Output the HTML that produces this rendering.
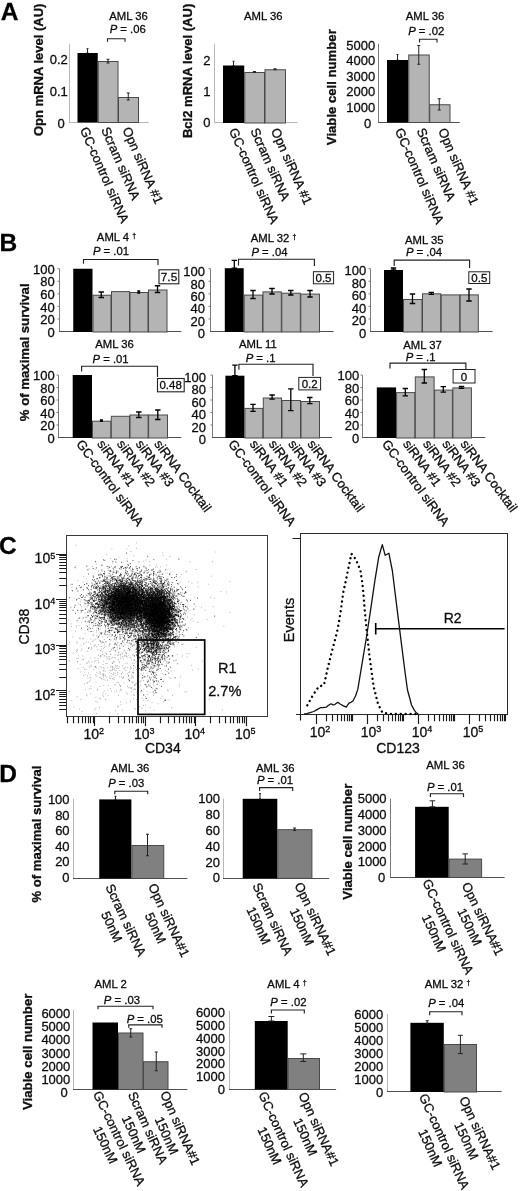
<!DOCTYPE html>
<html lang="en"><head><meta charset="utf-8"><title>Figure</title>
<style>html,body{margin:0;padding:0;background:#fff}svg{display:block}text{font-family:'Liberation Sans', Arial, sans-serif;stroke:#000;stroke-width:.28px}</style>
</head><body>
<svg width="520" height="1191" viewBox="0 0 520 1191">
<rect width="520" height="1191" fill="#fff"/>
<text x="0.7" y="19.6" font-size="24.5" font-weight="bold" fill="#000" stroke-width=".3">A</text>
<text x="-0.6" y="251.1" font-size="24.5" font-weight="bold" fill="#000" stroke-width=".3">B</text>
<text x="-0.9" y="553.6" font-size="24.5" font-weight="bold" fill="#000" stroke-width=".3">C</text>
<text x="-0.8" y="781.8" font-size="24.5" font-weight="bold" fill="#000" stroke-width=".3">D</text>
<g id="panelA">
<line x1="69.5" y1="43.75" x2="69.5" y2="122.5" stroke="#b8b8b8" stroke-width="1"/>
<line x1="69" y1="122.5" x2="148.75" y2="122.5" stroke="#b8b8b8" stroke-width="1"/>
<rect x="77.5" y="53" width="20.25" height="69.5" fill="#000"/>
<rect x="98.25" y="61.5" width="19.75" height="61" fill="#b4b4b4" stroke="#4a4a4a" stroke-width="1"/>
<rect x="118.5" y="97.5" width="20" height="25" fill="#b4b4b4" stroke="#4a4a4a" stroke-width="1"/>
<path d="M87.5 48.75V53M86.5 48.75h2M86.5 53h2" stroke="#222" stroke-width="1" fill="none"/>
<path d="M108 59.25V63M106.5 59.25h3M106.5 63h3" stroke="#222" stroke-width="1" fill="none"/>
<path d="M128.25 93V100M126.75 93h3M126.75 100h3" stroke="#222" stroke-width="1" fill="none"/>
<text x="67.8" y="63.95" font-size="13" text-anchor="end" fill="#111">0.2</text>
<text x="67.8" y="95.55" font-size="13" text-anchor="end" fill="#111">0.1</text>
<text x="64.8" y="127.65" font-size="13" text-anchor="end" fill="#111">0</text>
<text x="128.5" y="20.05" font-size="11.3" text-anchor="middle" fill="#111">AML 36</text>
<text x="127.75" y="33.05" font-size="11.3" text-anchor="middle" fill="#111"><tspan font-style="italic">P</tspan> = .06</text>
<path d="M107.5 41.75V38.75H125V41.75" stroke="#222" stroke-width="1.15" fill="none"/>
<text transform="translate(43,69.8) rotate(-90)" font-size="13" font-weight="bold" text-anchor="middle" fill="#111">Opn mRNA level (AU)</text>
<g transform="translate(84,127.6) rotate(66.3)">
<text x="0" y="4.65" font-size="13" text-anchor="start" fill="#111">GC-control siRNA</text>
</g>
<g transform="translate(105.2,127.6) rotate(66.3)">
<text x="0" y="4.65" font-size="13" text-anchor="start" fill="#111">Scram siRNA</text>
</g>
<g transform="translate(126.45,127.6) rotate(66.3)">
<text x="0" y="4.65" font-size="13" text-anchor="start" fill="#111">Opn siRNA #1</text>
</g>
<line x1="214.5" y1="43.75" x2="214.5" y2="122.5" stroke="#b8b8b8" stroke-width="1"/>
<line x1="214" y1="122.5" x2="297.5" y2="122.5" stroke="#b8b8b8" stroke-width="1"/>
<rect x="223" y="65.5" width="21.25" height="57.5" fill="#000"/>
<rect x="244.75" y="72.5" width="19.75" height="50.5" fill="#b4b4b4" stroke="#4a4a4a" stroke-width="1"/>
<rect x="265" y="69.75" width="20.5" height="53.25" fill="#b4b4b4" stroke="#4a4a4a" stroke-width="1"/>
<path d="M233.5 61.25V65.5M232.5 61.25h2M232.5 65.5h2" stroke="#222" stroke-width="1" fill="none"/>
<path d="M254.4 71.5V72.5M252.9 71.5h3M252.9 72.5h3" stroke="#222" stroke-width="1" fill="none"/>
<path d="M275 68.75V69.75M273.5 68.75h3M273.5 69.75h3" stroke="#222" stroke-width="1" fill="none"/>
<text x="210.5" y="64.55" font-size="13" text-anchor="end" fill="#111">2</text>
<text x="210.5" y="96.45" font-size="13" text-anchor="end" fill="#111">1</text>
<text x="210.5" y="127.15" font-size="13" text-anchor="end" fill="#111">0</text>
<text x="263.25" y="20.05" font-size="11.3" text-anchor="middle" fill="#111">AML 36</text>
<text transform="translate(192.3,70.9) rotate(-90)" font-size="13.05" font-weight="bold" text-anchor="middle" fill="#111">Bcl2 mRNA level (AU)</text>
<g transform="translate(233,128.6) rotate(65.8)">
<text x="0" y="4.65" font-size="13" text-anchor="start" fill="#111">GC-control siRNA</text>
</g>
<g transform="translate(254.4,128.6) rotate(65.8)">
<text x="0" y="4.65" font-size="13" text-anchor="start" fill="#111">Scram siRNA</text>
</g>
<g transform="translate(275,128.6) rotate(65.8)">
<text x="0" y="4.65" font-size="13" text-anchor="start" fill="#111">Opn siRNA #1</text>
</g>
<line x1="378.5" y1="43.75" x2="378.5" y2="122.5" stroke="#7a7a7a" stroke-width="1"/>
<line x1="378" y1="122.5" x2="459.7" y2="122.5" stroke="#505050" stroke-width="1"/>
<rect x="387" y="60" width="21.25" height="62.5" fill="#000"/>
<rect x="408.75" y="55" width="20.5" height="67.5" fill="#b4b4b4" stroke="#4a4a4a" stroke-width="1"/>
<rect x="429.75" y="104.75" width="20.25" height="17.75" fill="#b4b4b4" stroke="#4a4a4a" stroke-width="1"/>
<path d="M397.5 54.5V60M396.5 54.5h2M396.5 60h2" stroke="#222" stroke-width="1" fill="none"/>
<path d="M418.75 45.5V64.25M417.25 45.5h3M417.25 64.25h3" stroke="#222" stroke-width="1" fill="none"/>
<path d="M439.25 98.75V110M437.75 98.75h3M437.75 110h3" stroke="#222" stroke-width="1" fill="none"/>
<text x="375.2" y="50.05" font-size="13" text-anchor="end" fill="#111">5000</text>
<text x="375.2" y="65.25" font-size="13" text-anchor="end" fill="#111">4000</text>
<text x="375.2" y="80.65" font-size="13" text-anchor="end" fill="#111">3000</text>
<text x="375.2" y="96.05" font-size="13" text-anchor="end" fill="#111">2000</text>
<text x="375.2" y="111.95" font-size="13" text-anchor="end" fill="#111">1000</text>
<text x="371.2" y="128.05" font-size="13" text-anchor="end" fill="#111">0</text>
<text x="425" y="20.3" font-size="11.3" text-anchor="middle" fill="#111">AML 36</text>
<text x="426.25" y="34.55" font-size="11.3" text-anchor="middle" fill="#111"><tspan font-style="italic">P</tspan> = .02</text>
<path d="M419.5 42.5V39.25H437V42.5" stroke="#222" stroke-width="1.15" fill="none"/>
<text transform="translate(336.1,87.2) rotate(-90)" font-size="13.15" font-weight="bold" text-anchor="middle" fill="#111">Viable cell number</text>
<g transform="translate(399,128.6) rotate(66.3)">
<text x="0" y="4.65" font-size="13" text-anchor="start" fill="#111">GC-control siRNA</text>
</g>
<g transform="translate(420.75,128.6) rotate(66.3)">
<text x="0" y="4.65" font-size="13" text-anchor="start" fill="#111">Scram siRNA</text>
</g>
<g transform="translate(442.15,128.6) rotate(66.3)">
<text x="0" y="4.65" font-size="13" text-anchor="start" fill="#111">Opn siRNA #1</text>
</g>
</g>
<g id="panelB">
<text transform="translate(28.8,352.3) rotate(-90)" font-size="13.2" font-weight="bold" text-anchor="middle" fill="#111">% of maximal survival</text>
<line x1="59.5" y1="268.7" x2="59.5" y2="331.5" stroke="#7c7c7c" stroke-width="1"/>
<line x1="59" y1="331.5" x2="181.25" y2="331.5" stroke="#505050" stroke-width="1"/>
<path d="M59.5 268.7h-2M59.5 281.26h-2M59.5 293.82h-2M59.5 306.38h-2M59.5 318.94h-2" stroke="#7c7c7c" stroke-width="1" fill="none"/>
<rect x="73.25" y="268.75" width="19.25" height="63.25" fill="#000"/>
<rect x="93" y="295.25" width="18" height="36.75" fill="#b4b4b4" stroke="#4a4a4a" stroke-width="1"/>
<rect x="111.5" y="291.6" width="18" height="40.4" fill="#b4b4b4" stroke="#4a4a4a" stroke-width="1"/>
<rect x="130" y="292.5" width="18" height="39.5" fill="#b4b4b4" stroke="#4a4a4a" stroke-width="1"/>
<rect x="148.5" y="290" width="18.5" height="42" fill="#b4b4b4" stroke="#4a4a4a" stroke-width="1"/>
<path d="M101.25 292V297.5M98.55 292h5.4M98.55 297.5h5.4" stroke="#000" stroke-width="1.3" fill="none"/>
<path d="M138.75 291V293M137.25 291h3M137.25 293h3" stroke="#000" stroke-width="1.3" fill="none"/>
<path d="M157.5 285.75V292.5M154.8 285.75h5.4M154.8 292.5h5.4" stroke="#000" stroke-width="1.3" fill="none"/>
<text x="54.8" y="273.95" font-size="13" text-anchor="end" fill="#111">100</text>
<text x="54.8" y="286.49" font-size="13" text-anchor="end" fill="#111">80</text>
<text x="54.8" y="299.03" font-size="13" text-anchor="end" fill="#111">60</text>
<text x="54.8" y="311.57" font-size="13" text-anchor="end" fill="#111">40</text>
<text x="54.8" y="324.11" font-size="13" text-anchor="end" fill="#111">20</text>
<text x="54.8" y="336.65" font-size="13" text-anchor="end" fill="#111">0</text>
<text x="116.5" y="241.25" font-size="11.3" text-anchor="middle" fill="#111">AML 4 <tspan font-size="7" dy="-3.5">†</tspan></text>
<text x="111" y="255.3" font-size="11.3" text-anchor="middle" fill="#111"><tspan font-style="italic">P</tspan> = .01</text>
<path d="M83.5 263.75V259.5H158V265" stroke="#222" stroke-width="1.15" fill="none"/>
<rect x="159" y="269.8" width="19.8" height="14" fill="#fff" stroke="#222" stroke-width="1.1"/>
<text x="169" y="281.12" font-size="11.8" text-anchor="middle" fill="#111">7.5</text>
<line x1="210.5" y1="268.7" x2="210.5" y2="331.5" stroke="#7c7c7c" stroke-width="1"/>
<line x1="210" y1="331.5" x2="333.6" y2="331.5" stroke="#505050" stroke-width="1"/>
<path d="M210.5 268.7h-2M210.5 281.26h-2M210.5 293.82h-2M210.5 306.38h-2M210.5 318.94h-2" stroke="#7c7c7c" stroke-width="1" fill="none"/>
<rect x="224.8" y="268.2" width="18.9" height="63.8" fill="#000"/>
<rect x="244.2" y="295.1" width="18.3" height="36.9" fill="#b4b4b4" stroke="#4a4a4a" stroke-width="1"/>
<rect x="263" y="291.9" width="18.3" height="40.1" fill="#b4b4b4" stroke="#4a4a4a" stroke-width="1"/>
<rect x="281.8" y="293.2" width="18.5" height="38.8" fill="#b4b4b4" stroke="#4a4a4a" stroke-width="1"/>
<rect x="300.8" y="294.1" width="18.7" height="37.9" fill="#b4b4b4" stroke="#4a4a4a" stroke-width="1"/>
<path d="M234.3 260.3V268.2M231.6 260.3h5.4M231.6 268.2h5.4" stroke="#000" stroke-width="1.3" fill="none"/>
<path d="M253 290.5V298.5M250.3 290.5h5.4M250.3 298.5h5.4" stroke="#000" stroke-width="1.3" fill="none"/>
<path d="M272 288.5V294M269.3 288.5h5.4M269.3 294h5.4" stroke="#000" stroke-width="1.3" fill="none"/>
<path d="M290.8 290.5V295M288.1 290.5h5.4M288.1 295h5.4" stroke="#000" stroke-width="1.3" fill="none"/>
<path d="M310 290.5V297M307.3 290.5h5.4M307.3 297h5.4" stroke="#000" stroke-width="1.3" fill="none"/>
<text x="205" y="276.05" font-size="13" text-anchor="end" fill="#111">100</text>
<text x="205" y="288.51" font-size="13" text-anchor="end" fill="#111">80</text>
<text x="205" y="300.97" font-size="13" text-anchor="end" fill="#111">60</text>
<text x="205" y="313.43" font-size="13" text-anchor="end" fill="#111">40</text>
<text x="205" y="325.89" font-size="13" text-anchor="end" fill="#111">20</text>
<text x="205" y="338.35" font-size="13" text-anchor="end" fill="#111">0</text>
<text x="273.5" y="242.05" font-size="11.3" text-anchor="middle" fill="#111">AML 32 <tspan font-size="7" dy="-3.5">†</tspan></text>
<text x="269.5" y="256.15" font-size="11.3" text-anchor="middle" fill="#111"><tspan font-style="italic">P</tspan> = .04</text>
<path d="M238.5 265.5V259.2H314.4V266" stroke="#222" stroke-width="1.15" fill="none"/>
<rect x="313.4" y="271.7" width="20.2" height="12.1" fill="#fff" stroke="#222" stroke-width="1"/>
<text x="323.5" y="281.92" font-size="11.5" text-anchor="middle" fill="#111">0.5</text>
<line x1="370.5" y1="268.7" x2="370.5" y2="331.5" stroke="#7c7c7c" stroke-width="1"/>
<line x1="370" y1="331.5" x2="492.6" y2="331.5" stroke="#505050" stroke-width="1"/>
<path d="M370.5 268.7h-2M370.5 281.26h-2M370.5 293.82h-2M370.5 306.38h-2M370.5 318.94h-2" stroke="#7c7c7c" stroke-width="1" fill="none"/>
<rect x="384" y="270" width="19" height="62" fill="#000"/>
<rect x="403.5" y="299.5" width="18.5" height="32.5" fill="#b4b4b4" stroke="#4a4a4a" stroke-width="1"/>
<rect x="422.5" y="293.8" width="18.2" height="38.2" fill="#b4b4b4" stroke="#4a4a4a" stroke-width="1"/>
<rect x="441.2" y="294.9" width="18.5" height="37.1" fill="#b4b4b4" stroke="#4a4a4a" stroke-width="1"/>
<rect x="460.2" y="294.9" width="18.1" height="37.1" fill="#b4b4b4" stroke="#4a4a4a" stroke-width="1"/>
<path d="M393.5 268V270M390.8 268h5.4M390.8 270h5.4" stroke="#000" stroke-width="1.3" fill="none"/>
<path d="M412.5 294V303.5M409.8 294h5.4M409.8 303.5h5.4" stroke="#000" stroke-width="1.3" fill="none"/>
<path d="M431.3 292.3V294.3M428.6 292.3h5.4M428.6 294.3h5.4" stroke="#000" stroke-width="1.3" fill="none"/>
<path d="M469 289V301M466.3 289h5.4M466.3 301h5.4" stroke="#000" stroke-width="1.3" fill="none"/>
<text x="366.3" y="275.45" font-size="13" text-anchor="end" fill="#111">100</text>
<text x="366.3" y="287.91" font-size="13" text-anchor="end" fill="#111">80</text>
<text x="366.3" y="300.37" font-size="13" text-anchor="end" fill="#111">60</text>
<text x="366.3" y="312.83" font-size="13" text-anchor="end" fill="#111">40</text>
<text x="366.3" y="325.29" font-size="13" text-anchor="end" fill="#111">20</text>
<text x="366.3" y="337.75" font-size="13" text-anchor="end" fill="#111">0</text>
<text x="424.3" y="244.35" font-size="11.3" text-anchor="middle" fill="#111">AML 35</text>
<text x="424" y="256.45" font-size="11.3" text-anchor="middle" fill="#111"><tspan font-style="italic">P</tspan> = .04</text>
<path d="M394.2 266V260.1H469.6V268" stroke="#222" stroke-width="1.15" fill="none"/>
<rect x="468.8" y="271.8" width="20.9" height="11.7" fill="#fff" stroke="#222" stroke-width="1"/>
<text x="479.3" y="281.82" font-size="11.5" text-anchor="middle" fill="#111">0.5</text>
<line x1="58.5" y1="375" x2="58.5" y2="437.5" stroke="#7c7c7c" stroke-width="1"/>
<line x1="58" y1="437.5" x2="181.25" y2="437.5" stroke="#505050" stroke-width="1"/>
<path d="M58.5 375h-2M58.5 387.5h-2M58.5 400h-2M58.5 412.5h-2M58.5 425h-2" stroke="#7c7c7c" stroke-width="1" fill="none"/>
<rect x="72.7" y="375" width="19.3" height="63" fill="#000"/>
<rect x="92.5" y="421.2" width="18.3" height="16.8" fill="#b4b4b4" stroke="#4a4a4a" stroke-width="1"/>
<rect x="111.3" y="416.3" width="18.2" height="21.7" fill="#b4b4b4" stroke="#4a4a4a" stroke-width="1"/>
<rect x="130" y="415" width="18.1" height="23" fill="#b4b4b4" stroke="#4a4a4a" stroke-width="1"/>
<rect x="148.6" y="415" width="18.9" height="23" fill="#b4b4b4" stroke="#4a4a4a" stroke-width="1"/>
<path d="M101.4 420V421.4M99.9 420h3M99.9 421.4h3" stroke="#000" stroke-width="1.3" fill="none"/>
<path d="M138.8 412V417.5M136.1 412h5.4M136.1 417.5h5.4" stroke="#000" stroke-width="1.3" fill="none"/>
<path d="M157.8 410V419.5M155.1 410h5.4M155.1 419.5h5.4" stroke="#000" stroke-width="1.3" fill="none"/>
<text x="54.8" y="380.25" font-size="13" text-anchor="end" fill="#111">100</text>
<text x="54.8" y="392.79" font-size="13" text-anchor="end" fill="#111">80</text>
<text x="54.8" y="405.33" font-size="13" text-anchor="end" fill="#111">60</text>
<text x="54.8" y="417.87" font-size="13" text-anchor="end" fill="#111">40</text>
<text x="54.8" y="430.41" font-size="13" text-anchor="end" fill="#111">20</text>
<text x="54.8" y="442.95" font-size="13" text-anchor="end" fill="#111">0</text>
<text x="114.6" y="348.35" font-size="11.3" text-anchor="middle" fill="#111">AML 36</text>
<text x="110.6" y="362.75" font-size="11.3" text-anchor="middle" fill="#111"><tspan font-style="italic">P</tspan> = .01</text>
<path d="M81.6 371.5V366.2H157.5V377" stroke="#222" stroke-width="1.15" fill="none"/>
<rect x="157.5" y="378.5" width="26.7" height="13.3" fill="#fff" stroke="#222" stroke-width="1.1"/>
<text x="170.6" y="389.12" font-size="11.5" text-anchor="middle" fill="#111">0.48</text>
<line x1="212.5" y1="375" x2="212.5" y2="437.5" stroke="#7c7c7c" stroke-width="1"/>
<line x1="212" y1="437.5" x2="332" y2="437.5" stroke="#505050" stroke-width="1"/>
<path d="M212.5 375h-2M212.5 387.5h-2M212.5 400h-2M212.5 412.5h-2M212.5 425h-2" stroke="#7c7c7c" stroke-width="1" fill="none"/>
<rect x="225.4" y="375.7" width="19" height="62.3" fill="#000"/>
<rect x="244.9" y="408.4" width="17.9" height="29.6" fill="#b4b4b4" stroke="#4a4a4a" stroke-width="1"/>
<rect x="263.3" y="398" width="18.2" height="40" fill="#b4b4b4" stroke="#4a4a4a" stroke-width="1"/>
<rect x="282" y="400.5" width="18.5" height="37.5" fill="#b4b4b4" stroke="#4a4a4a" stroke-width="1"/>
<rect x="301" y="401.5" width="18.5" height="36.5" fill="#b4b4b4" stroke="#4a4a4a" stroke-width="1"/>
<path d="M234.9 365.1V375.7M232.2 365.1h5.4M232.2 375.7h5.4" stroke="#000" stroke-width="1.3" fill="none"/>
<path d="M253 404.4V411.3M250.3 404.4h5.4M250.3 411.3h5.4" stroke="#000" stroke-width="1.3" fill="none"/>
<path d="M272.1 395V399.2M269.4 395h5.4M269.4 399.2h5.4" stroke="#000" stroke-width="1.3" fill="none"/>
<path d="M290.8 388.8V410.7M288.1 388.8h5.4M288.1 410.7h5.4" stroke="#000" stroke-width="1.3" fill="none"/>
<path d="M309.8 397.5V403.7M307.1 397.5h5.4M307.1 403.7h5.4" stroke="#000" stroke-width="1.3" fill="none"/>
<text x="206" y="381.95" font-size="13" text-anchor="end" fill="#111">100</text>
<text x="206" y="394.37" font-size="13" text-anchor="end" fill="#111">80</text>
<text x="206" y="406.79" font-size="13" text-anchor="end" fill="#111">60</text>
<text x="206" y="419.21" font-size="13" text-anchor="end" fill="#111">40</text>
<text x="206" y="431.63" font-size="13" text-anchor="end" fill="#111">20</text>
<text x="206" y="444.05" font-size="13" text-anchor="end" fill="#111">0</text>
<text x="257.9" y="347.9" font-size="11.3" text-anchor="middle" fill="#111">AML 11</text>
<text x="260.6" y="362.05" font-size="11.3" text-anchor="middle" fill="#111"><tspan font-style="italic">P</tspan> = .1</text>
<path d="M238.9 369.8V364.2H313V376" stroke="#222" stroke-width="1.15" fill="none"/>
<rect x="298.8" y="377.4" width="21.8" height="12.5" fill="#fff" stroke="#222" stroke-width="1"/>
<text x="309.7" y="387.92" font-size="11.5" text-anchor="middle" fill="#111">0.2</text>
<line x1="362.5" y1="375" x2="362.5" y2="437.5" stroke="#7c7c7c" stroke-width="1"/>
<line x1="362" y1="437.5" x2="485.3" y2="437.5" stroke="#505050" stroke-width="1"/>
<path d="M362.5 375h-2M362.5 387.5h-2M362.5 400h-2M362.5 412.5h-2M362.5 425h-2" stroke="#7c7c7c" stroke-width="1" fill="none"/>
<rect x="376.8" y="387.4" width="19.3" height="50.6" fill="#000"/>
<rect x="396.6" y="392.6" width="18.2" height="45.4" fill="#b4b4b4" stroke="#4a4a4a" stroke-width="1"/>
<rect x="415.3" y="376.9" width="18.8" height="61.1" fill="#b4b4b4" stroke="#4a4a4a" stroke-width="1"/>
<rect x="434.6" y="390.1" width="17.8" height="47.9" fill="#b4b4b4" stroke="#4a4a4a" stroke-width="1"/>
<rect x="452.9" y="387.9" width="18.5" height="50.1" fill="#b4b4b4" stroke="#4a4a4a" stroke-width="1"/>
<path d="M405.3 388.5V395.8M402.6 388.5h5.4M402.6 395.8h5.4" stroke="#000" stroke-width="1.3" fill="none"/>
<path d="M424.3 369.5V383M421.6 369.5h5.4M421.6 383h5.4" stroke="#000" stroke-width="1.3" fill="none"/>
<path d="M443.3 386.6V392.1M440.6 386.6h5.4M440.6 392.1h5.4" stroke="#000" stroke-width="1.3" fill="none"/>
<path d="M461.5 386.5V388.3M458.8 386.5h5.4M458.8 388.3h5.4" stroke="#000" stroke-width="1.3" fill="none"/>
<text x="359.2" y="380.25" font-size="13" text-anchor="end" fill="#111">100</text>
<text x="359.2" y="392.79" font-size="13" text-anchor="end" fill="#111">80</text>
<text x="359.2" y="405.33" font-size="13" text-anchor="end" fill="#111">60</text>
<text x="359.2" y="417.87" font-size="13" text-anchor="end" fill="#111">40</text>
<text x="359.2" y="430.41" font-size="13" text-anchor="end" fill="#111">20</text>
<text x="359.2" y="442.95" font-size="13" text-anchor="end" fill="#111">0</text>
<text x="422.5" y="349.45" font-size="11.3" text-anchor="middle" fill="#111">AML 37</text>
<text x="420.6" y="361.35" font-size="11.3" text-anchor="middle" fill="#111"><tspan font-style="italic">P</tspan> = .1</text>
<path d="M390 368.5V363.1H465.9V370" stroke="#222" stroke-width="1.15" fill="none"/>
<rect x="453.1" y="369.5" width="21.9" height="13.5" fill="#fff" stroke="#222" stroke-width="1"/>
<text x="464" y="380.52" font-size="11.5" text-anchor="middle" fill="#111">0</text>
<g transform="translate(79.55,441.2) rotate(53.5)">
<text x="0" y="4.65" font-size="13" text-anchor="start" fill="#111">GC-control siRNA</text>
</g>
<g transform="translate(100.4,441.2) rotate(53.5)">
<text x="0" y="4.65" font-size="13" text-anchor="start" fill="#111">siRNA #1</text>
</g>
<g transform="translate(120.15,441.2) rotate(53.5)">
<text x="0" y="4.65" font-size="13" text-anchor="start" fill="#111">siRNA #2</text>
</g>
<g transform="translate(139,441.2) rotate(53.5)">
<text x="0" y="4.65" font-size="13" text-anchor="start" fill="#111">siRNA #3</text>
</g>
<g transform="translate(157.5,441.2) rotate(53.5)">
<text x="0" y="4.65" font-size="13" text-anchor="start" fill="#111">siRNA Cocktail</text>
</g>
<g transform="translate(231.6,441.2) rotate(53.5)">
<text x="0" y="4.65" font-size="13" text-anchor="start" fill="#111">GC-control siRNA</text>
</g>
<g transform="translate(253,441.2) rotate(53.5)">
<text x="0" y="4.65" font-size="13" text-anchor="start" fill="#111">siRNA #1</text>
</g>
<g transform="translate(272.05,441.2) rotate(53.5)">
<text x="0" y="4.65" font-size="13" text-anchor="start" fill="#111">siRNA #2</text>
</g>
<g transform="translate(291.4,441.2) rotate(53.5)">
<text x="0" y="4.65" font-size="13" text-anchor="start" fill="#111">siRNA #3</text>
</g>
<g transform="translate(310.7,441.2) rotate(53.5)">
<text x="0" y="4.65" font-size="13" text-anchor="start" fill="#111">siRNA Cocktail</text>
</g>
<g transform="translate(385.25,441.2) rotate(53.5)">
<text x="0" y="4.65" font-size="13" text-anchor="start" fill="#111">GC-control siRNA</text>
</g>
<g transform="translate(406.25,441.2) rotate(53.5)">
<text x="0" y="4.65" font-size="13" text-anchor="start" fill="#111">siRNA #1</text>
</g>
<g transform="translate(426.15,441.2) rotate(53.5)">
<text x="0" y="4.65" font-size="13" text-anchor="start" fill="#111">siRNA #2</text>
</g>
<g transform="translate(445.55,441.2) rotate(53.5)">
<text x="0" y="4.65" font-size="13" text-anchor="start" fill="#111">siRNA #3</text>
</g>
<g transform="translate(463.7,441.2) rotate(53.5)">
<text x="0" y="4.65" font-size="13" text-anchor="start" fill="#111">siRNA Cocktail</text>
</g>
</g>
<g id="panelC">
<defs><radialGradient id="cg"><stop offset="0" stop-color="#000" stop-opacity=".92"/><stop offset=".45" stop-color="#000" stop-opacity=".7"/><stop offset=".8" stop-color="#000" stop-opacity=".2"/><stop offset="1" stop-color="#000" stop-opacity="0"/></radialGradient></defs>
<ellipse cx="125" cy="603.5" rx="27" ry="22.5" fill="url(#cg)"/>
<ellipse cx="158.5" cy="614" rx="17.5" ry="25" fill="url(#cg)"/>
<path d="M151.9 623.2h.9M117.0 582.5h.9M125.0 601.4h.9M131.1 618.2h.9M111.7 614.0h.9M124.5 604.7h.9M124.5 599.3h.9M96.1 612.7h.9M141.0 602.9h.9M134.2 589.5h.9M114.4 618.6h.9M121.7 598.4h.9M132.7 606.9h.9M120.3 581.6h.9M120.6 569.0h.9M101.0 607.9h.9M133.5 626.8h.9M126.5 573.3h.9M128.9 597.2h.9M99.8 609.2h.9M151.2 608.5h.9M127.0 604.8h.9M118.2 602.8h.9M157.4 593.5h.9M123.8 618.5h.9M101.0 614.7h.9M117.9 608.1h.9M87.4 569.8h.9M141.5 627.7h.9M117.8 602.5h.9M112.5 609.8h.9M141.9 631.1h.9M97.8 619.1h.9M133.2 603.3h.9M91.1 615.4h.9M113.8 610.9h.9M105.0 594.3h.9M148.2 607.6h.9M153.1 582.4h.9M119.2 582.2h.9M138.1 607.5h.9M121.6 622.6h.9M133.7 591.4h.9M112.3 619.0h.9M96.8 603.6h.9M95.3 625.6h.9M130.7 599.6h.9M160.9 646.7h.9M128.9 610.3h.9M116.0 600.0h.9M155.5 609.9h.9M128.3 579.6h.9M126.1 608.7h.9M128.6 599.9h.9M122.4 610.5h.9M119.5 599.1h.9M101.3 565.3h.9M132.6 569.4h.9M123.0 594.8h.9M143.8 588.3h.9M118.5 615.1h.9M93.6 586.6h.9M122.9 609.6h.9M152.0 603.8h.9M118.3 624.0h.9M110.1 603.7h.9M105.2 604.7h.9M107.5 588.5h.9M119.6 608.3h.9M105.4 611.1h.9M148.8 604.1h.9M119.9 612.8h.9M126.3 589.7h.9M147.8 602.6h.9M148.9 611.1h.9M121.1 599.1h.9M129.9 620.6h.9M136.4 613.2h.9M121.4 595.0h.9M95.7 588.6h.9M135.1 604.3h.9M139.0 595.0h.9M131.2 598.8h.9M109.5 587.2h.9M121.3 613.8h.9M114.9 605.1h.9M119.6 607.2h.9M145.5 616.4h.9M149.3 574.7h.9M135.3 605.0h.9M133.4 601.0h.9M135.5 613.7h.9M124.3 610.4h.9M123.3 610.5h.9M113.6 620.2h.9M123.6 578.3h.9M161.1 592.3h.9M138.6 621.1h.9M119.0 622.6h.9M116.9 592.0h.9M110.5 617.5h.9M130.6 615.9h.9M130.8 585.7h.9M101.1 593.5h.9M132.4 608.8h.9M115.3 601.9h.9M147.6 629.8h.9M127.0 612.0h.9M152.3 618.0h.9M117.1 594.1h.9M119.8 586.7h.9M129.4 595.8h.9M141.6 624.0h.9M133.7 629.3h.9M104.5 591.0h.9M127.5 602.0h.9M124.9 570.1h.9M117.5 620.3h.9M114.0 585.7h.9M152.8 618.0h.9M118.2 620.4h.9M110.8 584.5h.9M134.8 592.7h.9M126.6 613.4h.9M123.3 621.9h.9M137.2 597.5h.9M132.4 590.1h.9M130.4 608.7h.9M140.1 621.9h.9M129.1 589.0h.9M114.5 592.1h.9M118.6 618.7h.9M116.1 605.5h.9M127.9 592.7h.9M107.0 602.1h.9M94.8 607.5h.9M125.9 617.4h.9M102.8 605.7h.9M92.9 600.7h.9M130.5 581.4h.9M113.0 609.8h.9M132.5 611.1h.9M115.9 605.5h.9M106.3 602.2h.9M104.4 603.5h.9M116.2 615.6h.9M120.1 598.1h.9M111.2 586.1h.9M119.9 615.2h.9M99.6 596.3h.9M124.7 599.7h.9M95.4 606.8h.9M121.4 599.8h.9M135.8 603.5h.9M142.2 589.9h.9M152.3 623.3h.9M99.3 583.3h.9M136.8 622.2h.9M144.0 588.0h.9M140.4 595.2h.9M109.4 596.5h.9M131.2 615.8h.9M154.6 608.6h.9M100.2 595.2h.9M132.2 587.3h.9M142.5 618.3h.9M113.2 602.9h.9M133.9 609.8h.9M107.2 599.4h.9M111.3 595.5h.9M111.3 611.2h.9M127.6 607.6h.9M123.0 618.6h.9M140.0 607.3h.9M109.3 583.1h.9M122.4 613.5h.9M140.1 605.4h.9M133.6 601.1h.9M103.0 559.9h.9M135.3 592.7h.9M116.7 605.0h.9M130.7 595.5h.9M129.4 607.2h.9M144.3 613.1h.9M126.4 603.4h.9M94.5 588.3h.9M102.3 607.4h.9M136.3 609.3h.9M120.3 599.7h.9M142.9 579.5h.9M128.9 587.1h.9M112.4 613.1h.9M142.0 601.3h.9M111.4 578.1h.9M91.2 598.1h.9M157.9 606.7h.9M93.5 609.3h.9M134.8 610.0h.9M139.7 609.7h.9M126.9 593.1h.9M97.2 578.5h.9M140.9 596.3h.9M101.1 619.8h.9M102.7 581.1h.9M118.6 614.8h.9M137.3 584.1h.9M129.4 586.1h.9M137.6 605.7h.9M117.3 591.6h.9M121.7 599.6h.9M106.1 586.1h.9M119.4 604.5h.9M134.1 615.4h.9M119.6 583.0h.9M132.2 611.1h.9M115.2 607.4h.9M114.9 612.9h.9M125.1 572.5h.9M121.3 614.9h.9M134.1 588.3h.9M127.4 599.9h.9M152.7 599.4h.9M120.9 589.0h.9M120.8 591.1h.9M107.6 591.8h.9M124.9 605.3h.9M135.6 613.7h.9M112.5 598.0h.9M123.7 613.4h.9M136.1 605.9h.9M122.4 618.2h.9M116.1 584.4h.9M140.3 606.2h.9M126.1 602.5h.9M130.9 605.3h.9M143.5 609.2h.9M143.1 615.3h.9M118.9 604.4h.9M116.0 609.2h.9M129.1 599.4h.9M122.3 600.7h.9M93.7 591.9h.9M145.2 619.0h.9M124.8 613.4h.9M136.4 621.1h.9M105.5 595.0h.9M145.4 602.2h.9M115.0 635.2h.9M122.8 617.2h.9M101.8 581.6h.9M121.8 612.5h.9M120.8 607.2h.9M121.5 598.1h.9M131.6 599.7h.9M125.5 591.6h.9M140.3 597.1h.9M116.9 591.9h.9M108.4 585.9h.9M124.2 597.7h.9M134.7 591.9h.9M144.7 614.1h.9M137.7 617.8h.9M95.9 598.4h.9M130.6 598.8h.9M148.2 613.4h.9M125.5 601.3h.9M116.1 629.2h.9M129.5 567.9h.9M116.3 570.8h.9M134.9 589.0h.9M124.3 609.2h.9M147.1 615.2h.9M132.6 597.2h.9M112.8 602.1h.9M134.3 599.8h.9M139.7 610.7h.9M115.3 629.3h.9M117.6 571.9h.9M87.2 629.7h.9M139.1 618.4h.9M115.0 598.0h.9M90.1 606.8h.9M95.8 600.3h.9M120.9 609.1h.9M136.8 610.5h.9M123.1 613.4h.9M132.1 590.2h.9M106.7 609.8h.9M102.8 592.4h.9M138.8 600.3h.9M132.5 614.4h.9M124.0 597.1h.9M145.3 608.9h.9M109.1 606.2h.9M117.7 603.9h.9M141.1 588.2h.9M154.3 612.2h.9M124.6 605.6h.9M151.7 635.4h.9M114.7 588.4h.9M129.8 617.9h.9M121.7 597.3h.9M98.8 597.1h.9M128.7 626.6h.9M139.6 602.7h.9M122.1 613.9h.9M123.4 604.9h.9M147.1 593.1h.9M104.3 598.7h.9M100.2 595.4h.9M113.9 599.5h.9M105.1 626.8h.9M146.3 611.5h.9M129.5 580.5h.9M110.5 627.5h.9M114.5 607.6h.9M170.8 619.3h.9M114.6 623.6h.9M112.2 591.3h.9M129.4 608.3h.9M134.8 602.4h.9M128.1 599.0h.9M109.8 598.1h.9M105.7 603.3h.9M134.2 620.0h.9M123.6 613.9h.9M97.9 605.2h.9M143.5 621.3h.9M137.1 573.4h.9M120.6 603.7h.9M120.3 608.0h.9M128.2 608.1h.9M113.4 621.7h.9M102.7 604.1h.9M129.7 622.5h.9M101.2 599.3h.9M130.8 613.4h.9M101.2 603.1h.9M122.9 600.2h.9M122.3 610.4h.9M153.4 613.8h.9M107.3 590.2h.9M101.6 614.5h.9M114.0 599.3h.9M106.3 603.5h.9M114.9 566.8h.9M131.3 603.9h.9M137.0 579.0h.9M151.4 617.5h.9M112.6 592.2h.9M167.2 601.3h.9M156.6 604.0h.9M121.2 585.5h.9M87.4 600.9h.9M123.2 587.1h.9M125.7 600.9h.9M87.3 612.1h.9M125.7 621.0h.9M121.3 622.7h.9M111.8 599.5h.9M134.7 591.6h.9M140.8 611.5h.9M116.6 624.0h.9M128.2 592.2h.9M113.9 621.0h.9M111.8 600.7h.9M125.8 568.2h.9M133.0 605.3h.9M115.4 628.1h.9M88.6 610.3h.9M134.0 618.8h.9M98.6 606.9h.9M126.5 581.2h.9M153.3 574.3h.9M124.2 589.3h.9M105.2 596.8h.9M100.8 588.1h.9M143.5 594.3h.9M124.2 614.1h.9M133.2 624.0h.9M139.5 582.1h.9M123.7 589.2h.9M119.5 601.8h.9M109.2 599.6h.9M74.6 567.7h.9M99.9 641.1h.9M123.4 613.0h.9M121.7 608.2h.9M131.0 578.2h.9M122.4 607.4h.9M127.1 588.0h.9M137.3 611.5h.9M110.2 606.4h.9M119.8 603.8h.9M98.5 607.2h.9M140.3 597.0h.9M125.1 606.0h.9M132.4 571.8h.9M149.5 615.5h.9M142.0 602.5h.9M123.5 637.7h.9M137.3 606.1h.9M101.3 570.0h.9M131.5 624.8h.9M126.8 593.9h.9M98.3 586.1h.9M146.2 604.8h.9M113.1 619.9h.9M135.6 630.7h.9M117.7 597.8h.9M140.6 607.8h.9M145.8 608.4h.9M111.1 593.6h.9M99.7 594.6h.9M122.4 601.4h.9M138.3 603.9h.9M118.5 617.4h.9M114.6 576.6h.9M132.4 610.6h.9M79.8 604.9h.9M113.7 621.2h.9M102.1 596.4h.9M129.3 598.9h.9M112.6 603.9h.9M106.4 594.4h.9M118.8 595.0h.9M100.7 592.5h.9M124.3 594.5h.9M113.4 588.7h.9M118.4 594.7h.9M112.9 591.9h.9M139.3 594.7h.9M122.7 585.2h.9M133.0 616.9h.9M132.3 608.2h.9M111.4 601.6h.9M133.7 589.5h.9M130.2 612.4h.9M129.6 600.5h.9M118.0 601.3h.9M117.6 604.0h.9M137.2 602.8h.9M159.8 619.5h.9M111.1 591.5h.9M133.2 595.2h.9M118.6 604.8h.9M137.2 601.6h.9M131.6 611.3h.9M141.7 617.1h.9M79.2 618.1h.9M114.8 615.4h.9M108.5 598.3h.9M122.8 601.0h.9M112.8 597.4h.9M114.1 618.0h.9M135.5 601.2h.9M155.3 594.5h.9M78.8 585.6h.9M119.5 613.1h.9M129.6 592.1h.9M124.6 567.9h.9M118.9 612.5h.9M102.6 606.1h.9M109.2 612.5h.9M136.2 617.7h.9M141.9 611.8h.9M126.1 608.9h.9M111.0 603.1h.9M126.1 593.1h.9M120.6 574.8h.9M133.3 577.9h.9M126.4 608.7h.9M114.4 613.5h.9M127.6 604.2h.9M105.4 591.7h.9M137.8 613.2h.9M143.7 604.8h.9M105.4 602.1h.9M131.3 599.3h.9M108.4 586.5h.9M141.9 591.5h.9M139.1 610.0h.9M120.8 625.1h.9M140.6 628.6h.9M117.5 600.6h.9M114.1 608.8h.9M115.3 601.7h.9M122.2 605.5h.9M119.3 608.8h.9M127.0 616.0h.9M114.5 587.5h.9M136.9 628.5h.9M141.0 603.4h.9M116.5 589.9h.9M101.4 632.8h.9M136.2 592.7h.9M142.9 604.7h.9M121.9 593.6h.9M103.7 617.8h.9M128.8 568.1h.9M149.2 610.3h.9M94.1 579.8h.9M132.2 625.2h.9M119.4 631.5h.9M110.6 614.1h.9M132.6 593.9h.9M103.5 617.6h.9M129.3 633.6h.9M145.8 608.9h.9M127.4 598.9h.9M110.3 622.3h.9M95.7 583.4h.9M103.7 598.0h.9M94.7 600.5h.9M150.4 607.5h.9M120.5 618.2h.9M107.6 600.3h.9M103.5 587.1h.9M107.2 583.4h.9M119.1 601.3h.9M103.7 608.2h.9M151.7 618.9h.9M112.4 611.0h.9M111.8 584.1h.9M129.5 611.7h.9M148.0 596.7h.9M145.9 622.9h.9M116.6 598.9h.9M128.6 600.2h.9M126.9 596.4h.9M133.1 617.6h.9M128.6 602.5h.9M109.2 639.4h.9M104.1 617.7h.9M127.3 588.2h.9M105.3 601.6h.9M146.6 619.6h.9M125.1 614.5h.9M107.9 610.6h.9M119.3 606.6h.9M116.3 582.4h.9M122.4 583.4h.9M139.8 615.9h.9M101.1 593.3h.9M94.2 601.5h.9M130.0 612.8h.9M121.6 578.2h.9M127.1 578.6h.9M131.7 611.5h.9M121.6 595.7h.9M137.5 600.1h.9M110.0 617.8h.9M125.5 600.2h.9M111.0 601.8h.9M106.2 606.1h.9M134.5 581.3h.9M133.7 627.8h.9M93.0 606.5h.9M106.3 594.8h.9M129.2 619.3h.9M141.8 592.6h.9M113.7 593.5h.9M121.5 586.8h.9M101.6 598.6h.9M165.2 597.0h.9M132.2 607.8h.9M139.0 595.8h.9M135.2 608.0h.9M139.6 610.7h.9M134.4 609.7h.9M119.1 608.2h.9M136.6 605.7h.9M125.8 592.6h.9M145.5 578.6h.9M112.6 607.3h.9M115.7 584.0h.9M135.2 609.0h.9M145.2 604.6h.9M126.9 603.1h.9M113.0 602.6h.9M122.6 611.1h.9M116.4 589.8h.9M155.2 610.3h.9M139.1 619.2h.9M145.0 615.8h.9M129.4 618.8h.9M115.5 599.0h.9M143.5 604.0h.9M151.3 630.9h.9M133.9 611.1h.9M124.1 607.0h.9M142.0 618.4h.9M118.5 591.3h.9M136.9 602.8h.9M113.0 608.5h.9M108.8 601.4h.9M133.7 624.6h.9M130.0 609.8h.9M155.3 618.0h.9M120.0 592.1h.9M124.9 603.4h.9M106.0 601.6h.9M94.2 608.0h.9M95.7 607.7h.9M132.0 604.2h.9M105.4 609.7h.9M142.8 633.1h.9M147.5 605.9h.9M119.9 594.4h.9M151.4 622.0h.9M128.2 623.8h.9M142.7 607.6h.9M120.8 616.2h.9M140.0 577.5h.9M109.2 608.7h.9M134.6 602.0h.9M117.1 632.5h.9M122.4 606.6h.9M134.7 629.1h.9M127.3 601.4h.9M123.3 599.9h.9M136.3 597.5h.9M137.5 589.1h.9M102.1 594.2h.9M133.6 619.2h.9M135.4 584.1h.9M112.3 604.0h.9M130.7 619.1h.9M103.0 605.4h.9M147.8 612.6h.9M120.7 608.0h.9M123.2 610.6h.9M143.9 579.8h.9M122.2 623.6h.9M134.2 609.4h.9M107.5 595.0h.9M115.3 599.1h.9M101.9 600.1h.9M121.1 612.6h.9M141.2 589.5h.9M128.1 587.3h.9M138.8 587.5h.9M107.9 614.5h.9M110.2 590.5h.9M117.0 604.9h.9M133.8 589.4h.9M130.3 603.5h.9M124.3 597.2h.9M134.6 594.9h.9M122.0 618.7h.9M124.2 605.2h.9M145.6 592.9h.9M115.0 635.1h.9M127.5 591.6h.9M150.6 590.5h.9M126.2 581.7h.9M135.9 626.5h.9M114.7 605.9h.9M156.2 611.1h.9M88.1 615.7h.9M106.1 604.2h.9M107.4 612.3h.9M150.7 628.6h.9M130.2 607.9h.9M120.3 614.5h.9M103.7 605.2h.9M130.4 606.5h.9M126.3 623.4h.9M113.3 611.0h.9M100.3 605.9h.9M106.6 577.4h.9M128.0 592.5h.9M129.5 595.4h.9M125.7 604.0h.9M122.0 609.0h.9M95.8 603.9h.9M125.3 602.1h.9M107.8 607.4h.9M125.2 609.0h.9M132.0 616.8h.9M113.6 579.6h.9M107.9 616.4h.9M140.6 631.6h.9M130.2 619.9h.9M114.2 597.6h.9M75.9 588.1h.9M123.7 603.3h.9M134.7 623.0h.9M142.7 609.4h.9M113.5 576.4h.9M114.1 559.2h.9M117.3 606.2h.9M138.1 637.0h.9M105.5 581.2h.9M122.7 595.4h.9M109.5 602.9h.9M128.9 608.4h.9M99.3 613.4h.9M130.6 583.0h.9M116.5 604.5h.9M120.9 594.6h.9M133.0 615.5h.9M143.0 610.4h.9M97.0 616.2h.9M140.8 588.6h.9M133.5 589.4h.9M119.7 593.6h.9M147.2 599.1h.9M127.6 594.2h.9M145.5 588.4h.9M114.9 594.8h.9M110.5 580.4h.9M144.3 618.3h.9M159.6 599.7h.9M134.8 587.2h.9M138.9 606.8h.9M116.8 581.1h.9M103.0 606.4h.9M120.8 598.2h.9M148.8 628.5h.9M94.4 607.9h.9M116.5 592.1h.9M93.5 612.6h.9M126.3 605.0h.9M138.7 613.3h.9M104.4 560.3h.9M117.9 596.6h.9M146.0 599.0h.9M123.1 620.3h.9M104.4 587.0h.9M103.2 606.1h.9M91.9 598.1h.9M137.0 585.6h.9M112.4 594.5h.9M141.5 611.8h.9M138.5 601.6h.9M113.8 599.9h.9M115.9 601.4h.9M137.1 605.3h.9M126.9 607.5h.9M128.8 602.4h.9M97.8 581.1h.9M139.0 601.4h.9M110.3 603.0h.9M87.7 621.9h.9M114.5 588.7h.9M131.3 624.5h.9M158.5 598.6h.9M118.5 623.8h.9M103.0 573.6h.9M158.9 602.0h.9M127.1 571.7h.9M120.3 583.1h.9M107.1 595.5h.9M108.2 607.9h.9M148.5 594.4h.9M120.1 605.7h.9M115.8 591.0h.9M116.2 623.7h.9M149.9 597.1h.9M115.0 628.3h.9M134.7 627.8h.9M128.8 591.0h.9M128.4 610.2h.9M110.3 595.4h.9M135.2 623.3h.9M150.6 609.3h.9M123.7 627.2h.9M109.6 599.1h.9M103.6 597.1h.9M127.6 592.6h.9M120.1 604.2h.9M122.8 608.2h.9M124.7 603.7h.9M100.6 604.8h.9M137.2 614.0h.9M128.3 602.1h.9M123.3 594.1h.9M128.3 589.7h.9M139.5 596.5h.9M125.4 598.4h.9M110.7 615.3h.9M143.4 616.7h.9M117.5 592.6h.9M112.7 609.9h.9M99.2 588.7h.9M124.6 614.1h.9M107.5 579.8h.9M116.1 615.4h.9M131.8 601.2h.9M125.0 606.3h.9M141.0 602.9h.9M129.4 589.3h.9M118.0 604.1h.9M119.2 602.7h.9M116.3 612.5h.9M135.0 612.3h.9M124.8 619.6h.9M117.8 610.0h.9M138.2 588.9h.9M126.1 613.7h.9M117.0 586.4h.9M100.0 591.5h.9M131.6 604.6h.9M128.4 592.3h.9M125.3 597.9h.9M117.5 616.1h.9M111.0 593.8h.9M120.8 590.8h.9M128.2 586.2h.9M122.4 640.9h.9M122.2 597.0h.9M116.9 603.0h.9M130.0 604.3h.9M128.3 618.5h.9M112.3 594.6h.9M136.8 592.2h.9M137.3 599.2h.9M137.7 593.9h.9M122.4 583.9h.9M121.4 577.8h.9M105.7 602.2h.9M136.7 598.6h.9M89.9 619.0h.9M118.2 595.8h.9M119.0 598.0h.9M138.4 620.7h.9M124.5 580.6h.9M108.9 612.4h.9M101.4 590.2h.9M112.7 587.0h.9M126.2 608.4h.9M125.4 604.9h.9M121.3 587.8h.9M113.4 605.6h.9M121.1 623.7h.9M140.7 615.6h.9M106.7 603.4h.9M125.0 595.9h.9M150.7 604.3h.9M133.5 610.4h.9M117.1 599.7h.9M135.2 610.3h.9M112.3 615.3h.9M124.6 583.4h.9M149.7 607.6h.9M155.2 612.6h.9M96.8 597.4h.9M135.8 595.6h.9M156.1 626.1h.9M115.7 601.4h.9M128.7 602.5h.9M148.9 598.1h.9M116.5 598.6h.9M131.8 599.8h.9M123.5 601.8h.9M93.3 580.6h.9M130.1 582.2h.9M121.5 594.7h.9M139.5 599.9h.9M158.4 598.3h.9M135.6 613.6h.9M118.5 602.3h.9M131.8 613.4h.9M127.8 606.5h.9M141.1 574.7h.9M101.2 607.6h.9M105.6 621.0h.9M91.4 602.4h.9M134.3 603.2h.9M124.2 587.8h.9M114.1 605.6h.9M112.8 588.4h.9M115.2 579.0h.9M109.5 605.0h.9M119.3 613.9h.9M116.5 598.7h.9M147.0 602.7h.9M129.7 594.6h.9M111.2 623.4h.9M115.0 607.5h.9M143.9 600.2h.9M131.8 599.8h.9M129.3 605.4h.9M136.2 618.8h.9M150.2 598.0h.9M104.8 589.7h.9M112.4 606.3h.9M96.3 599.1h.9M132.5 584.2h.9M118.4 600.9h.9M113.6 598.0h.9M112.2 596.6h.9M135.7 606.0h.9M122.2 606.0h.9M115.9 624.7h.9M144.8 613.1h.9M107.6 612.9h.9M104.0 595.3h.9M166.5 606.6h.9M118.5 593.6h.9M115.7 593.1h.9M112.7 613.2h.9M122.3 631.8h.9M137.2 613.4h.9M136.7 609.5h.9M133.3 610.9h.9M120.0 613.3h.9M100.4 600.0h.9M129.1 602.7h.9M149.1 613.5h.9M141.8 625.9h.9M121.8 603.9h.9M137.5 582.1h.9M118.3 613.0h.9M123.6 605.7h.9M104.5 590.9h.9M119.4 591.6h.9M126.8 561.1h.9M121.8 592.6h.9M137.0 601.2h.9M155.0 612.4h.9M145.9 604.1h.9M119.6 589.5h.9M112.7 596.6h.9M113.9 602.8h.9M108.7 609.6h.9M125.1 607.0h.9M131.3 615.0h.9M127.5 577.8h.9M127.6 606.1h.9M127.1 607.2h.9M122.4 590.4h.9M112.5 604.8h.9M152.4 598.6h.9M141.5 588.4h.9M109.8 584.7h.9M109.8 609.1h.9M115.0 610.1h.9M125.0 617.8h.9M144.9 614.9h.9M140.9 611.1h.9M141.8 590.5h.9M142.1 602.1h.9M142.4 601.1h.9M136.4 631.1h.9M131.9 592.4h.9M122.6 586.0h.9M96.3 587.6h.9M122.4 616.6h.9M153.7 597.3h.9M115.8 612.4h.9M114.4 595.7h.9M141.0 618.5h.9M125.8 583.0h.9M116.7 596.8h.9M149.7 613.4h.9M134.6 601.1h.9M136.8 592.4h.9M115.4 621.7h.9M132.6 585.3h.9M130.6 592.6h.9M137.1 619.5h.9M143.1 627.7h.9M142.7 604.8h.9M127.3 586.9h.9M135.7 587.3h.9M105.9 590.4h.9M134.9 603.0h.9M135.6 622.1h.9M118.2 614.9h.9M112.0 615.2h.9M123.5 596.7h.9M104.8 611.7h.9M130.0 614.5h.9M129.3 615.1h.9M109.1 601.9h.9M125.3 598.1h.9M141.8 619.7h.9M141.7 625.8h.9M140.9 601.9h.9M122.1 608.0h.9M119.0 617.6h.9M118.2 623.3h.9M134.1 627.7h.9M162.6 607.2h.9M147.3 622.4h.9M150.2 589.8h.9M146.4 576.2h.9M98.4 595.7h.9M121.2 608.0h.9M117.5 583.0h.9M144.7 603.3h.9M151.9 608.2h.9M113.7 602.4h.9M125.1 607.2h.9M133.5 619.2h.9M116.6 599.4h.9M114.3 596.6h.9M113.5 609.9h.9M138.8 618.9h.9M109.8 596.5h.9M142.9 623.2h.9M125.9 613.5h.9M136.7 599.5h.9M149.5 605.2h.9M113.7 592.2h.9M111.3 611.5h.9M131.4 605.5h.9M107.8 628.5h.9M112.7 568.3h.9M122.7 587.2h.9M127.0 597.0h.9M104.4 608.8h.9M118.3 598.2h.9M133.9 594.8h.9M146.3 610.9h.9M92.8 595.3h.9M145.6 608.5h.9M138.8 616.6h.9M107.0 615.0h.9M100.7 580.9h.9M131.2 594.3h.9M117.7 608.8h.9M126.7 601.4h.9M138.4 594.5h.9M118.5 611.1h.9M127.1 604.9h.9M132.2 610.2h.9M138.9 616.6h.9M152.9 601.0h.9M152.0 619.4h.9M128.4 606.3h.9M120.7 606.8h.9M162.8 620.4h.9M134.8 583.2h.9M131.4 582.4h.9M106.7 587.0h.9M137.1 616.0h.9M112.0 604.2h.9M117.1 595.7h.9M103.0 588.1h.9M116.1 580.5h.9M125.5 607.6h.9M100.3 601.3h.9M110.1 607.4h.9M123.2 615.5h.9M104.1 605.6h.9M104.3 619.7h.9M111.1 597.1h.9M101.8 621.5h.9M134.4 610.0h.9M108.5 595.2h.9M136.9 607.0h.9M139.4 633.3h.9M105.2 585.5h.9M125.2 595.7h.9M116.8 597.4h.9M106.2 604.3h.9M119.1 603.9h.9M120.6 627.7h.9M136.0 601.8h.9M141.1 613.6h.9M106.7 595.4h.9M117.9 588.4h.9M133.1 602.2h.9M143.5 601.8h.9M85.1 609.1h.9M145.1 622.5h.9M121.8 597.3h.9M149.3 619.8h.9M117.7 589.6h.9M111.1 625.3h.9M125.2 584.3h.9M143.4 598.3h.9M125.0 606.7h.9M86.4 595.3h.9M135.6 589.5h.9M98.5 610.4h.9M108.7 588.9h.9M105.7 614.4h.9M94.8 581.8h.9M104.2 615.2h.9M108.5 612.8h.9M114.6 609.3h.9M123.6 616.9h.9M119.1 600.2h.9M100.5 600.6h.9M121.6 618.1h.9M140.3 591.0h.9M139.9 601.0h.9M126.7 600.6h.9M134.5 601.1h.9M139.0 600.8h.9M146.6 573.1h.9M152.0 605.2h.9M119.3 606.3h.9M120.1 618.9h.9M148.4 615.4h.9M149.8 597.4h.9M149.5 601.6h.9M86.5 587.6h.9M120.9 598.0h.9M71.8 590.7h.9M136.3 618.2h.9M125.4 608.0h.9M125.3 610.9h.9M122.3 597.9h.9M145.6 602.7h.9M119.8 609.3h.9M141.2 594.0h.9M133.5 610.5h.9M130.3 614.9h.9M132.0 596.1h.9M126.3 603.1h.9M106.8 590.4h.9M136.1 625.7h.9M136.1 609.9h.9M122.2 617.2h.9M136.3 601.3h.9M139.1 593.0h.9M103.7 600.3h.9M122.2 621.1h.9M117.3 623.9h.9M109.8 612.3h.9M129.7 603.6h.9M110.8 607.5h.9M117.5 617.0h.9M128.5 590.4h.9M130.2 615.5h.9M129.7 593.2h.9M160.7 610.0h.9M116.3 612.4h.9M128.6 607.6h.9M105.0 603.3h.9M132.3 621.1h.9M143.2 600.0h.9M144.2 600.7h.9M114.2 590.7h.9M120.0 605.7h.9M145.0 615.2h.9M123.0 602.1h.9M140.0 580.1h.9M108.7 608.1h.9M146.9 613.8h.9M141.1 593.9h.9M132.0 601.3h.9M111.6 603.0h.9M121.9 593.4h.9M127.0 607.4h.9M128.8 605.1h.9M122.8 588.5h.9M121.0 567.5h.9M127.6 591.8h.9M147.1 623.9h.9M92.0 616.5h.9M102.3 597.6h.9M99.5 587.6h.9M113.4 621.5h.9M96.3 610.3h.9M133.5 620.6h.9M126.1 627.9h.9M120.4 609.0h.9M113.5 603.8h.9M127.0 593.9h.9M127.4 605.7h.9M129.9 591.1h.9M112.7 616.5h.9M135.0 601.6h.9M100.7 622.2h.9M144.7 600.8h.9M74.7 605.2h.9M114.9 592.5h.9M105.0 613.4h.9M137.3 593.9h.9M100.4 618.5h.9M154.0 613.2h.9M99.5 577.5h.9M157.4 588.2h.9M131.8 607.3h.9M125.0 602.9h.9M131.6 630.3h.9M160.0 595.0h.9M139.0 602.0h.9M88.3 600.5h.9M143.8 608.2h.9M128.3 626.4h.9M98.3 600.2h.9M136.8 583.8h.9M104.9 622.6h.9M127.4 609.4h.9M128.3 584.4h.9M114.0 594.0h.9M135.0 600.4h.9M108.0 603.9h.9M127.6 614.4h.9M115.6 599.7h.9M121.5 596.5h.9M155.7 593.5h.9M126.3 601.6h.9M106.9 603.1h.9M122.6 609.6h.9M112.0 574.2h.9M124.9 592.0h.9M127.1 610.1h.9M125.9 625.9h.9M125.9 615.6h.9M115.7 572.9h.9M131.8 578.8h.9M141.6 612.4h.9M114.4 603.3h.9M123.6 604.3h.9M125.5 629.6h.9M144.8 591.3h.9M142.0 620.9h.9M112.7 604.0h.9M125.7 595.9h.9M100.3 574.1h.9M108.9 586.8h.9M124.7 623.6h.9M134.7 605.6h.9M140.0 615.4h.9M119.5 610.8h.9M102.6 599.7h.9M130.9 615.1h.9M121.7 607.5h.9M131.4 601.7h.9M127.1 599.6h.9M136.1 595.0h.9M135.1 608.2h.9M138.2 602.2h.9M117.1 617.5h.9M140.6 600.8h.9M116.4 590.9h.9M125.9 579.2h.9M154.6 616.1h.9M130.3 636.9h.9M105.6 601.5h.9M148.6 576.4h.9M140.7 617.2h.9M143.0 596.3h.9M127.7 613.0h.9M130.1 608.8h.9M120.7 612.6h.9M113.2 604.2h.9M149.3 602.0h.9M118.5 617.1h.9M116.7 599.1h.9M117.3 618.4h.9M154.7 598.2h.9M138.7 606.7h.9M118.5 593.3h.9M123.8 615.7h.9M132.8 595.4h.9M138.7 594.0h.9M98.4 613.8h.9M139.1 609.2h.9M121.0 602.1h.9M113.4 589.6h.9M118.2 602.3h.9M137.3 609.8h.9M153.0 614.6h.9M126.9 594.4h.9M133.5 610.8h.9M111.3 577.5h.9M132.5 604.9h.9M137.8 592.6h.9M100.4 610.8h.9M116.2 597.1h.9M137.3 634.6h.9M96.0 603.1h.9M118.4 607.1h.9M134.2 574.5h.9M97.1 583.0h.9M118.1 616.2h.9M125.4 594.5h.9M138.9 619.1h.9M103.8 592.3h.9M142.5 612.8h.9M129.5 593.2h.9M143.9 610.6h.9M143.3 613.7h.9M130.0 615.6h.9M132.4 594.2h.9M96.3 583.9h.9M102.6 608.8h.9M108.2 604.9h.9M118.9 611.6h.9M139.6 588.7h.9M95.6 610.7h.9M119.3 600.6h.9M103.1 587.4h.9M99.3 595.2h.9M148.4 617.4h.9M126.1 605.6h.9M151.0 607.5h.9M143.7 606.1h.9M109.6 597.0h.9M94.5 617.0h.9M158.0 606.5h.9M117.9 583.8h.9M106.0 582.9h.9M135.7 597.1h.9M126.7 598.6h.9M113.6 612.1h.9M118.9 568.7h.9M127.1 613.7h.9M125.7 619.0h.9M136.7 598.2h.9M118.8 619.5h.9M118.9 594.0h.9M134.2 602.1h.9M129.6 597.3h.9M142.2 626.1h.9M120.5 618.4h.9M122.9 617.9h.9M105.8 586.9h.9M148.8 606.8h.9M101.9 586.6h.9M127.8 605.8h.9M110.1 609.7h.9M130.0 622.2h.9M136.6 602.6h.9M97.9 604.4h.9M121.1 601.4h.9M96.0 587.0h.9M147.2 627.5h.9M117.3 608.1h.9M99.0 620.6h.9M113.1 613.8h.9M145.7 588.4h.9M148.6 597.3h.9M145.1 614.4h.9M111.8 613.9h.9M122.0 612.5h.9M151.0 605.8h.9M112.6 614.1h.9M119.1 590.0h.9M109.0 599.0h.9M105.6 586.6h.9M144.0 618.4h.9M134.7 609.4h.9M131.8 613.6h.9M133.9 600.8h.9M141.0 571.0h.9M149.0 595.0h.9M124.4 605.6h.9M119.0 603.8h.9M107.9 614.4h.9M142.0 620.0h.9M116.2 595.3h.9M100.3 612.0h.9M120.1 580.0h.9M124.9 612.5h.9M138.0 576.4h.9M140.8 611.6h.9M112.7 572.0h.9M111.5 609.0h.9M119.2 624.4h.9M104.9 599.6h.9M122.7 612.8h.9M132.0 619.1h.9M125.2 567.4h.9M98.4 575.4h.9M105.2 602.1h.9M145.3 590.5h.9M108.1 596.6h.9M136.5 641.2h.9M134.7 629.5h.9M119.3 611.9h.9M108.3 593.2h.9M127.9 611.3h.9M110.1 607.3h.9M121.7 601.3h.9M126.2 626.3h.9M112.9 576.9h.9M120.8 624.9h.9M119.5 597.6h.9M104.5 619.9h.9M121.4 601.7h.9M114.2 595.2h.9M94.9 592.3h.9M119.0 606.9h.9M119.9 608.3h.9M114.7 644.2h.9M91.1 622.7h.9M137.1 604.4h.9M135.6 588.2h.9M135.0 606.1h.9M129.8 612.2h.9M104.1 579.1h.9M126.5 604.2h.9M109.5 620.3h.9M159.9 600.6h.9M116.1 581.3h.9M135.3 615.2h.9M99.3 623.9h.9M105.4 599.6h.9M115.8 605.5h.9M135.9 621.0h.9M133.4 612.2h.9M129.2 595.0h.9M94.5 596.9h.9M142.8 604.5h.9M109.5 602.9h.9M150.7 622.3h.9M154.7 592.6h.9M137.9 610.7h.9M140.5 603.4h.9M104.1 574.0h.9M166.3 617.7h.9M128.0 606.4h.9M140.7 587.8h.9M110.6 578.6h.9M123.4 617.0h.9M105.3 625.6h.9M120.6 605.1h.9M124.8 601.1h.9M128.6 614.4h.9M147.1 597.0h.9M132.3 597.6h.9M128.4 617.5h.9M125.1 588.5h.9M157.1 622.6h.9M115.1 607.4h.9M143.7 623.7h.9M92.7 576.0h.9M110.3 620.8h.9M131.2 603.4h.9M121.9 612.6h.9M173.2 597.0h.9M166.3 593.5h.9M99.9 617.9h.9M107.2 609.3h.9M122.2 611.5h.9M152.7 615.9h.9M142.9 614.1h.9M129.8 582.9h.9M101.6 598.0h.9M110.8 598.3h.9M81.0 628.3h.9M99.6 620.6h.9M131.4 592.6h.9M137.3 584.8h.9M103.4 612.4h.9M126.3 612.3h.9M150.9 625.4h.9M127.2 588.6h.9M119.6 626.9h.9M134.5 607.8h.9M133.1 622.8h.9M125.9 608.3h.9M115.9 597.9h.9M117.7 592.8h.9M126.0 623.3h.9M115.7 559.3h.9M146.2 621.2h.9M139.1 615.1h.9M142.2 596.2h.9M157.4 617.7h.9M150.2 604.7h.9M147.6 588.3h.9M130.6 600.8h.9M121.5 612.1h.9M161.9 607.9h.9M113.7 592.7h.9M114.5 612.8h.9M110.5 613.2h.9M128.1 621.3h.9M131.3 607.7h.9M141.3 626.2h.9M120.9 593.9h.9M96.5 595.6h.9M129.7 584.7h.9M140.3 604.3h.9M125.1 604.7h.9M122.4 603.3h.9M133.7 586.9h.9M147.8 619.8h.9M123.5 580.2h.9M101.6 588.8h.9M115.4 562.0h.9M121.9 617.8h.9M95.4 612.2h.9M137.0 602.0h.9M112.1 607.1h.9M132.8 587.1h.9M127.7 588.8h.9M119.5 589.6h.9M150.9 610.1h.9M115.4 597.4h.9M113.6 605.0h.9M129.3 589.1h.9M138.1 585.9h.9M124.5 609.4h.9M108.6 606.2h.9M135.7 610.5h.9M134.3 595.6h.9M158.1 610.1h.9M120.9 581.6h.9M128.0 588.6h.9M115.3 607.3h.9M100.4 588.4h.9M125.7 586.7h.9M138.3 591.6h.9M108.1 625.2h.9M113.6 596.7h.9M105.5 606.2h.9M146.2 603.1h.9M114.3 636.5h.9M133.9 603.0h.9M110.5 617.2h.9M125.7 617.0h.9M114.4 609.0h.9M86.5 600.9h.9M125.8 582.9h.9M133.1 612.5h.9M90.7 631.5h.9M121.7 611.3h.9M117.5 631.8h.9M107.0 612.7h.9M120.4 616.6h.9M93.1 595.0h.9M128.6 602.7h.9M143.7 612.5h.9M104.1 618.2h.9M123.4 589.9h.9M147.6 586.3h.9M126.5 602.8h.9M116.1 602.0h.9M109.7 609.5h.9M127.4 628.1h.9M122.4 596.2h.9M134.7 631.0h.9M99.9 610.1h.9M141.9 606.0h.9M118.0 580.3h.9M134.9 625.7h.9M112.8 627.8h.9M103.5 609.1h.9M115.3 610.5h.9M109.0 597.0h.9M118.4 576.9h.9M135.0 593.9h.9M142.0 585.5h.9M127.8 585.3h.9M115.7 591.6h.9M117.2 595.3h.9M134.1 611.8h.9M142.9 623.5h.9M119.3 600.4h.9M122.5 614.7h.9M112.3 597.9h.9M127.9 599.8h.9M140.0 609.8h.9M77.4 591.1h.9M128.6 607.4h.9M115.6 596.2h.9M86.8 588.5h.9M129.6 594.8h.9M123.0 624.5h.9M130.5 607.5h.9M102.4 595.4h.9M159.1 608.8h.9M126.3 593.1h.9M118.9 596.5h.9M149.2 600.6h.9M135.1 581.2h.9M138.0 602.2h.9M143.3 610.9h.9M90.9 604.3h.9M151.5 603.6h.9M118.9 617.4h.9M129.1 592.4h.9M139.4 619.8h.9M113.0 615.8h.9M129.7 606.6h.9M136.9 625.2h.9M123.8 592.5h.9M132.5 607.4h.9M98.5 599.2h.9M105.2 591.3h.9M105.9 597.4h.9M130.5 609.4h.9M185.1 613.9h.9M128.8 612.3h.9M122.1 594.1h.9M123.5 601.9h.9M140.4 603.1h.9M136.1 595.4h.9M105.9 601.6h.9M141.0 575.8h.9M124.1 587.5h.9M137.8 597.7h.9M92.1 595.5h.9M99.3 610.0h.9M134.2 596.6h.9M95.3 623.7h.9M130.8 583.9h.9M130.0 628.7h.9M126.9 590.6h.9M130.3 588.2h.9M128.8 593.5h.9M131.7 595.4h.9M117.9 598.7h.9M124.1 596.9h.9M172.0 613.3h.9M142.9 615.3h.9M134.4 589.7h.9M130.9 620.4h.9M112.7 605.6h.9M128.2 603.5h.9M120.5 614.3h.9M139.8 603.2h.9M109.7 621.4h.9M86.2 583.7h.9M115.4 618.9h.9M135.8 597.8h.9M164.3 616.4h.9M141.1 598.6h.9M108.6 624.4h.9M121.0 608.1h.9M109.1 612.1h.9M121.5 588.7h.9M110.0 582.1h.9M97.9 604.3h.9M131.7 624.3h.9M127.7 605.8h.9M121.7 583.3h.9M130.1 626.7h.9M157.4 599.2h.9M126.4 613.7h.9M118.4 591.8h.9M138.5 594.9h.9M97.9 605.0h.9M136.7 568.8h.9M112.0 588.8h.9M111.3 596.4h.9M126.3 597.8h.9M151.6 583.4h.9M112.4 616.9h.9M139.9 601.3h.9M130.6 601.2h.9M102.0 575.5h.9M139.3 602.8h.9M111.1 610.3h.9M100.7 612.1h.9M111.7 609.6h.9M112.7 600.6h.9M134.1 600.2h.9M112.6 603.9h.9M148.7 613.4h.9M128.1 599.7h.9M112.9 598.5h.9M111.0 606.5h.9M128.2 599.3h.9M91.6 603.1h.9M89.2 601.2h.9M110.2 588.8h.9M134.7 623.3h.9M127.4 611.6h.9M124.9 590.3h.9M121.0 589.3h.9M89.2 592.9h.9M119.2 593.9h.9M95.7 586.7h.9M138.0 606.3h.9M124.4 597.8h.9M123.0 589.4h.9M131.0 623.1h.9M129.7 597.9h.9M128.3 606.7h.9M130.1 584.8h.9M115.0 586.6h.9M102.9 586.8h.9M130.0 614.9h.9M147.9 613.5h.9M140.9 600.2h.9M121.0 597.7h.9M134.4 607.1h.9M117.4 589.9h.9M130.7 599.2h.9M114.7 613.7h.9M126.8 590.2h.9M156.9 613.2h.9M137.0 601.6h.9M148.8 606.4h.9M112.0 598.9h.9M113.4 612.2h.9M123.9 613.4h.9M133.5 609.9h.9M121.1 580.0h.9M140.9 604.9h.9M115.6 616.8h.9M146.5 590.3h.9M140.2 582.8h.9M106.4 597.4h.9M133.9 613.4h.9M120.9 584.7h.9M141.0 607.7h.9M115.8 597.3h.9M129.5 601.7h.9M133.3 608.0h.9M79.9 595.8h.9M94.0 591.8h.9M126.6 604.2h.9M122.5 622.1h.9M141.0 611.2h.9M128.2 611.4h.9M103.9 587.9h.9M129.8 595.5h.9M112.3 583.4h.9M120.8 613.9h.9M116.3 614.6h.9M130.1 608.2h.9M101.5 610.4h.9M106.4 595.0h.9M88.5 594.2h.9M159.2 621.0h.9M108.3 595.4h.9M110.5 614.5h.9M105.8 622.6h.9M114.1 586.0h.9M117.4 589.9h.9M134.5 625.5h.9M127.3 615.6h.9M129.8 623.3h.9M114.9 623.8h.9M123.3 598.3h.9M144.2 630.8h.9M124.1 620.8h.9M129.5 616.5h.9M91.6 604.1h.9M132.9 598.5h.9M128.7 592.7h.9M145.4 585.2h.9M79.9 587.7h.9M124.9 592.3h.9M122.4 604.9h.9M125.7 593.3h.9M114.1 578.3h.9M127.7 605.1h.9M135.7 576.2h.9M125.0 598.0h.9M119.5 611.2h.9M120.8 581.8h.9M117.9 585.8h.9M124.9 601.7h.9M112.6 619.2h.9M91.9 598.0h.9M146.1 598.3h.9M95.7 603.6h.9M122.2 578.9h.9M103.0 580.5h.9M119.5 611.1h.9M108.4 611.7h.9M123.4 610.2h.9M110.4 603.1h.9M103.0 606.6h.9M129.0 579.4h.9M145.6 589.7h.9M129.6 597.6h.9M125.7 615.5h.9M106.9 603.6h.9M122.6 602.7h.9M131.2 588.0h.9M113.4 603.2h.9M138.5 608.8h.9M123.2 610.1h.9M129.6 601.3h.9M115.8 629.2h.9M115.9 586.4h.9M127.4 614.9h.9M130.1 586.1h.9M129.4 586.1h.9M107.3 610.9h.9M111.9 596.4h.9M123.4 592.6h.9M93.7 600.8h.9M140.7 638.4h.9M128.9 595.2h.9M124.4 598.5h.9M112.2 618.5h.9M137.0 596.5h.9M119.3 634.7h.9M154.5 588.4h.9M130.1 600.7h.9M99.5 614.2h.9M135.5 601.0h.9M115.1 595.7h.9M115.2 583.4h.9M119.8 600.9h.9M121.5 614.4h.9M127.7 599.8h.9M136.0 590.8h.9M131.0 621.5h.9M111.9 613.4h.9M101.7 608.9h.9M110.5 598.9h.9M129.4 592.0h.9M137.7 619.5h.9M152.7 606.3h.9M101.8 596.1h.9M124.9 600.6h.9M119.9 607.8h.9M117.1 613.7h.9M125.8 602.8h.9M119.5 597.4h.9M119.2 587.4h.9M113.1 598.3h.9M130.0 600.6h.9M140.6 608.5h.9M150.0 604.7h.9M115.0 594.9h.9M106.5 599.9h.9M119.3 610.8h.9M110.0 600.4h.9M140.2 601.9h.9M110.3 598.4h.9M124.7 598.5h.9M101.8 605.5h.9M117.9 610.6h.9M126.6 599.2h.9M148.3 602.3h.9M112.3 607.1h.9M129.5 613.4h.9M89.9 618.3h.9M104.0 583.5h.9M110.3 613.0h.9M115.4 595.8h.9M130.5 611.7h.9M133.7 615.9h.9M97.4 625.2h.9M132.1 596.9h.9M105.4 614.9h.9M153.2 573.2h.9M128.6 604.1h.9M126.0 573.9h.9M120.6 593.1h.9M122.9 587.9h.9M123.5 583.6h.9M112.3 601.6h.9M135.6 589.3h.9M127.8 587.8h.9M135.6 593.2h.9M122.5 595.7h.9M134.5 610.5h.9M111.2 595.8h.9M181.2 595.2h.9M112.0 579.1h.9M116.2 609.8h.9M139.1 607.8h.9M143.4 612.6h.9M110.6 592.7h.9M96.5 616.4h.9M100.8 608.2h.9M107.4 631.5h.9M110.7 596.8h.9M120.8 613.6h.9M140.1 625.6h.9M140.9 601.1h.9M113.5 601.6h.9M132.2 596.9h.9M137.7 600.3h.9M146.2 615.3h.9M120.9 605.3h.9M111.4 587.8h.9M135.6 636.6h.9M148.0 595.4h.9M114.9 617.6h.9M155.0 606.2h.9M151.3 614.3h.9M119.2 610.3h.9M98.0 611.6h.9M113.7 612.8h.9M117.7 625.4h.9M132.0 594.8h.9M96.4 583.4h.9M162.8 584.3h.9M161.3 579.1h.9M111.7 608.7h.9M93.2 577.3h.9M120.7 581.4h.9M130.3 606.7h.9M145.2 600.9h.9M134.9 605.1h.9M120.1 566.9h.9M91.5 583.1h.9M131.6 583.0h.9M137.0 603.5h.9M118.3 601.7h.9M127.8 608.3h.9M126.7 619.2h.9M119.4 648.4h.9M104.6 594.1h.9M128.9 612.4h.9M100.4 612.8h.9M146.1 603.1h.9M108.8 588.2h.9M131.3 614.9h.9M111.5 613.7h.9M129.5 610.7h.9M119.9 592.8h.9M132.0 573.8h.9M110.5 587.8h.9M96.9 616.6h.9M118.8 618.3h.9M117.6 588.8h.9M98.9 604.1h.9M112.1 619.2h.9M96.2 618.3h.9M125.2 590.6h.9M117.2 599.9h.9M123.5 602.0h.9M165.5 591.6h.9M125.9 626.3h.9M129.3 579.8h.9M133.5 609.2h.9M121.0 616.4h.9M113.7 608.2h.9M137.5 614.1h.9M140.0 574.3h.9M76.0 599.8h.9M120.7 606.8h.9M117.8 606.4h.9M114.1 584.7h.9M143.4 601.5h.9M114.6 591.3h.9M137.3 622.9h.9M114.5 593.6h.9M116.6 600.8h.9M135.1 601.7h.9M111.3 599.3h.9M120.6 625.6h.9M105.4 621.1h.9M108.9 607.0h.9M134.9 599.7h.9M132.7 598.1h.9M104.7 576.8h.9M104.1 602.6h.9M164.5 610.8h.9M112.8 600.0h.9M109.1 589.6h.9M131.5 619.8h.9M110.7 612.5h.9M117.3 604.9h.9M137.7 625.6h.9M139.4 608.1h.9M120.0 627.4h.9M144.9 602.7h.9M120.9 605.2h.9M119.3 595.1h.9M123.1 615.5h.9M118.2 596.5h.9M131.7 609.5h.9M127.8 605.6h.9M110.7 592.4h.9M126.1 633.2h.9M114.4 617.3h.9M113.8 599.5h.9M120.9 614.6h.9M139.7 609.5h.9M127.7 598.1h.9M143.7 629.7h.9M148.5 616.8h.9M122.6 611.7h.9M113.4 609.7h.9M110.4 611.5h.9M127.7 614.2h.9M137.2 608.2h.9M148.8 608.5h.9M102.0 603.6h.9M138.2 584.9h.9M140.6 602.8h.9M162.7 623.4h.9M126.3 624.6h.9M122.7 606.5h.9M98.7 591.1h.9M110.7 616.3h.9M105.4 591.6h.9M106.9 588.7h.9M108.7 583.9h.9M98.5 574.4h.9M121.8 628.8h.9M129.6 604.8h.9M135.7 566.7h.9M121.8 592.6h.9M140.5 582.3h.9M140.6 616.5h.9M98.8 592.8h.9M119.0 593.0h.9M103.2 610.2h.9M107.5 623.6h.9M126.4 593.3h.9M121.4 602.4h.9M147.1 592.2h.9M156.6 618.3h.9M130.2 607.0h.9M120.3 604.6h.9M121.1 592.1h.9M123.3 622.9h.9M132.7 600.0h.9M111.6 617.8h.9M132.9 620.3h.9M119.5 587.5h.9M140.6 601.9h.9M145.6 608.4h.9M151.7 591.1h.9M121.0 601.6h.9M101.7 605.6h.9M96.3 578.9h.9M118.8 598.7h.9M100.6 605.5h.9M96.9 594.7h.9M117.9 594.8h.9M107.6 583.1h.9M134.8 604.3h.9M155.0 608.5h.9M120.0 601.4h.9M128.7 621.7h.9M98.1 601.1h.9M126.6 597.8h.9M112.3 625.4h.9M105.9 611.0h.9M93.5 615.4h.9M149.6 622.6h.9M97.6 594.2h.9M104.1 588.7h.9M123.9 625.4h.9M128.4 578.3h.9M128.5 596.7h.9M125.5 624.8h.9M109.3 593.3h.9M136.2 614.4h.9M126.9 592.9h.9M100.3 633.1h.9M149.8 604.5h.9M118.3 613.8h.9M139.2 586.9h.9M100.3 611.3h.9M104.6 611.1h.9M114.6 596.6h.9M112.7 611.7h.9M140.3 602.0h.9M97.6 606.6h.9M126.5 597.0h.9M107.5 596.0h.9M132.3 587.7h.9M127.3 609.7h.9M115.0 600.0h.9M159.9 597.2h.9M123.2 625.5h.9M141.7 605.3h.9M102.4 599.9h.9M121.9 593.7h.9M125.4 616.1h.9M126.2 605.8h.9M118.4 592.0h.9M110.5 599.1h.9M73.9 607.2h.9M114.8 604.2h.9M109.1 617.9h.9M119.9 617.0h.9M137.9 634.1h.9M159.9 597.9h.9M132.6 603.7h.9M140.5 601.7h.9M134.3 601.2h.9M135.9 605.5h.9M133.6 599.7h.9M119.9 615.3h.9M118.9 586.8h.9M129.5 604.8h.9M153.3 614.5h.9M136.9 618.1h.9M150.3 605.7h.9M103.2 606.1h.9M128.5 604.8h.9M130.7 610.9h.9M132.7 602.1h.9M102.0 611.5h.9M94.4 619.3h.9M89.9 628.7h.9M117.8 598.8h.9M162.3 618.2h.9M127.9 607.8h.9M104.7 607.9h.9M129.8 598.4h.9M119.5 605.0h.9M127.1 611.6h.9M117.1 603.7h.9M103.4 596.8h.9M115.8 619.5h.9M136.0 606.6h.9M129.4 601.3h.9M144.2 605.9h.9M107.1 599.6h.9M141.5 595.4h.9M125.5 610.9h.9M127.7 601.1h.9M144.8 589.1h.9M122.5 617.1h.9M128.8 599.6h.9M135.1 585.5h.9M135.2 603.6h.9M137.9 595.4h.9M145.7 607.9h.9M133.4 588.6h.9M117.7 597.5h.9M164.6 585.1h.9M124.4 585.2h.9M131.1 605.2h.9M112.9 594.9h.9M89.6 620.7h.9M112.4 592.6h.9M126.1 605.7h.9M133.6 587.2h.9M125.5 623.2h.9M137.9 605.0h.9M141.1 584.4h.9M141.1 607.9h.9M125.2 596.9h.9M126.4 632.1h.9M121.6 617.6h.9M111.0 591.9h.9M148.2 614.8h.9M105.0 608.2h.9M124.0 598.7h.9M128.8 599.4h.9M90.5 597.2h.9M137.2 591.6h.9M119.5 606.9h.9M128.8 597.2h.9M119.8 601.8h.9M100.3 596.7h.9M128.3 594.2h.9M126.9 629.3h.9M141.3 608.8h.9M132.9 613.1h.9M97.9 637.0h.9M143.0 604.5h.9M138.1 595.3h.9M137.6 581.9h.9M133.1 585.3h.9M113.8 611.0h.9M133.8 585.9h.9M119.3 575.9h.9M171.9 608.0h.9M121.4 602.2h.9M107.2 624.4h.9M119.7 583.9h.9M148.5 619.1h.9M116.0 572.0h.9M85.6 617.2h.9M149.0 609.3h.9M130.5 591.5h.9M117.2 619.2h.9M136.8 606.8h.9M110.3 610.3h.9M106.2 602.5h.9M140.6 620.1h.9M116.8 611.6h.9M133.8 591.7h.9M125.4 592.0h.9M138.7 593.6h.9M127.0 614.2h.9M92.0 609.0h.9M136.2 608.3h.9M117.5 600.0h.9M139.5 597.1h.9M127.0 608.4h.9M148.3 616.6h.9M120.1 613.5h.9M91.9 622.5h.9M120.0 626.2h.9M133.5 599.5h.9M119.6 636.9h.9M117.6 623.1h.9M149.1 609.7h.9M122.7 608.5h.9M142.2 612.5h.9M127.6 597.1h.9M101.7 592.9h.9M109.9 603.1h.9M120.1 598.5h.9M130.1 566.4h.9M112.0 611.0h.9M102.2 576.6h.9M108.7 606.9h.9M116.7 598.4h.9M110.8 594.2h.9M115.7 613.1h.9M155.3 595.4h.9M129.7 591.3h.9M111.9 606.5h.9M125.0 606.6h.9M150.7 596.6h.9M135.6 594.4h.9M123.5 593.8h.9M103.1 606.2h.9M97.6 607.1h.9M119.6 614.0h.9M123.4 602.1h.9M98.8 589.5h.9M103.4 611.4h.9M124.4 638.6h.9M89.1 622.1h.9M97.1 587.8h.9M124.2 613.7h.9M134.2 602.8h.9M130.2 602.7h.9M141.2 601.5h.9M150.6 594.9h.9M139.6 584.8h.9M120.8 609.2h.9M159.6 593.1h.9M152.4 598.7h.9M140.3 599.8h.9M112.0 603.9h.9M131.7 598.5h.9M91.2 598.9h.9M119.8 597.6h.9M84.8 603.7h.9M118.4 607.9h.9M141.8 624.6h.9M125.5 611.3h.9M151.4 598.3h.9M125.2 611.3h.9M126.9 616.1h.9M120.4 595.9h.9M133.9 597.2h.9M124.7 573.8h.9M144.8 625.3h.9M151.5 607.9h.9M131.4 622.3h.9M107.1 582.0h.9M134.4 573.4h.9M147.3 609.8h.9M135.9 593.6h.9M130.1 606.5h.9M140.7 594.8h.9M146.8 616.6h.9M83.1 596.0h.9M150.1 603.8h.9M138.0 611.4h.9M133.2 598.7h.9M116.4 598.1h.9M129.1 620.8h.9M135.3 603.6h.9M101.4 604.9h.9M137.6 611.7h.9M126.6 605.5h.9M149.2 612.8h.9M136.4 630.3h.9M122.6 618.3h.9M126.4 585.5h.9M135.9 575.7h.9M127.9 592.7h.9M134.3 573.4h.9M113.9 567.2h.9M105.2 588.4h.9M116.2 590.5h.9M102.3 604.4h.9M112.9 609.0h.9M131.2 633.3h.9M99.0 592.3h.9M105.5 594.2h.9M137.4 607.9h.9M116.9 617.8h.9M125.3 600.5h.9M105.4 590.3h.9M108.5 566.8h.9M120.6 614.7h.9M151.9 603.0h.9M132.7 625.2h.9M98.3 625.8h.9M132.7 629.7h.9M140.4 611.3h.9M136.7 616.5h.9M105.6 584.4h.9M124.4 609.5h.9M159.9 601.9h.9M110.3 616.4h.9M130.9 597.1h.9M113.3 599.8h.9M104.9 591.1h.9M118.5 627.5h.9M142.2 606.7h.9M144.3 592.1h.9M111.2 597.4h.9M117.8 586.0h.9M111.1 618.6h.9M91.8 617.3h.9M135.3 606.7h.9M150.7 609.8h.9M149.8 586.5h.9M118.0 623.9h.9M147.0 604.9h.9M143.2 632.5h.9M120.1 595.6h.9M125.5 610.0h.9M119.6 614.9h.9M129.4 614.7h.9M155.0 604.7h.9M110.6 616.9h.9M106.3 607.4h.9M139.7 605.3h.9M126.6 590.0h.9M95.0 618.3h.9M109.2 602.8h.9M112.2 609.0h.9M115.8 602.1h.9M130.9 608.8h.9M141.8 600.2h.9M123.1 637.7h.9M128.1 628.1h.9M113.6 611.8h.9M142.2 608.9h.9M147.5 614.5h.9M121.5 592.1h.9M113.7 610.7h.9M159.3 605.3h.9M140.8 599.4h.9M111.3 593.5h.9M98.3 592.5h.9M121.0 609.7h.9M145.2 605.6h.9M117.0 592.5h.9M121.8 608.9h.9M117.8 604.9h.9M136.3 603.3h.9M148.4 624.9h.9M105.4 598.6h.9M121.1 585.6h.9M122.6 605.4h.9M115.7 589.7h.9M106.5 613.1h.9M139.1 612.4h.9M128.4 599.8h.9M137.5 611.3h.9M150.4 600.5h.9M119.9 597.1h.9M134.6 580.9h.9M119.3 575.5h.9M124.4 598.1h.9M131.3 627.3h.9M123.2 587.7h.9M101.4 600.6h.9M150.3 597.0h.9M128.4 610.6h.9M107.3 591.2h.9M90.1 599.2h.9M125.5 608.9h.9M136.5 597.8h.9M142.3 603.0h.9M144.0 602.3h.9M119.8 610.0h.9M136.4 612.7h.9M100.9 611.4h.9M128.4 609.5h.9M140.8 591.8h.9M116.0 597.4h.9M123.3 610.1h.9M127.7 604.3h.9M128.2 615.1h.9M150.1 589.0h.9M108.4 590.5h.9M147.7 594.4h.9M105.7 605.7h.9M115.1 594.3h.9M113.4 590.8h.9M124.5 607.9h.9M117.9 597.5h.9M133.8 590.1h.9M126.1 609.0h.9M161.7 605.1h.9M132.2 610.4h.9M121.8 610.5h.9M132.0 596.2h.9M135.6 600.5h.9M122.9 601.5h.9M107.9 610.7h.9M112.9 601.9h.9M128.8 617.2h.9M139.5 597.4h.9M133.8 604.1h.9M124.5 620.1h.9M135.1 586.1h.9M118.0 586.4h.9M130.2 612.7h.9M149.0 615.1h.9M144.1 617.6h.9M147.9 616.2h.9M119.9 616.3h.9M129.3 597.3h.9M109.6 602.3h.9M140.8 611.9h.9M119.0 587.3h.9M104.5 585.3h.9M117.8 595.2h.9M130.0 616.5h.9M90.1 610.2h.9M102.9 584.9h.9M141.9 597.5h.9M127.5 596.4h.9M125.2 604.3h.9M99.8 603.7h.9M151.6 605.6h.9M142.5 592.9h.9M137.3 618.4h.9M107.9 615.2h.9M135.3 590.7h.9M144.4 602.7h.9M120.6 616.6h.9M121.8 607.5h.9M118.2 608.7h.9M135.6 598.5h.9M122.0 621.3h.9M120.7 589.1h.9M102.3 613.2h.9M98.9 623.8h.9M141.0 595.1h.9M151.4 622.7h.9M139.9 615.3h.9M148.8 597.2h.9M117.1 604.8h.9M125.0 621.6h.9M131.9 598.3h.9M123.1 597.6h.9M152.9 569.1h.9M104.3 580.4h.9M116.5 597.8h.9M120.1 601.3h.9M114.3 610.1h.9M139.5 615.8h.9M93.4 625.9h.9M144.2 614.1h.9M140.4 642.2h.9M130.9 613.8h.9M148.4 622.8h.9M163.9 596.5h.9M128.8 609.7h.9M137.7 617.0h.9M132.2 616.5h.9M134.3 598.7h.9M117.7 602.5h.9M114.3 586.7h.9M135.8 608.9h.9M117.5 589.6h.9M141.0 617.4h.9M138.9 608.1h.9M118.8 612.3h.9M131.9 611.9h.9M127.3 609.6h.9M123.8 614.1h.9M144.4 606.2h.9M126.7 583.1h.9M129.9 620.4h.9M94.7 591.7h.9M135.8 616.4h.9M102.8 608.8h.9M119.9 608.2h.9M152.2 608.0h.9M155.0 609.8h.9M119.8 605.9h.9M105.8 602.4h.9M132.6 602.7h.9M119.7 607.1h.9M131.6 612.0h.9M104.4 596.4h.9M144.3 608.4h.9M151.2 588.7h.9M102.8 591.3h.9M113.7 580.6h.9M114.9 599.4h.9M138.1 609.5h.9M94.4 610.0h.9M129.6 586.7h.9M122.5 613.8h.9M113.4 589.5h.9M137.6 599.4h.9M94.6 594.6h.9M104.1 621.9h.9M113.5 604.8h.9M137.7 631.4h.9M120.6 615.8h.9M112.8 599.3h.9M134.0 609.5h.9M118.5 620.4h.9M115.8 591.8h.9M121.4 597.2h.9M131.8 603.8h.9M169.9 603.3h.9M108.7 599.0h.9M130.8 625.9h.9M123.8 605.5h.9M122.2 599.4h.9M151.0 600.9h.9M138.9 587.7h.9M137.3 615.0h.9M119.1 595.2h.9M112.8 648.1h.9M131.2 610.1h.9M121.9 596.0h.9M117.2 587.6h.9M137.4 598.7h.9M107.0 607.3h.9M114.8 595.3h.9M139.3 612.9h.9M125.3 612.5h.9M137.4 611.9h.9M112.8 609.2h.9M138.0 604.9h.9M115.2 594.5h.9M148.6 589.9h.9M139.5 584.3h.9M134.2 598.7h.9M151.6 614.4h.9M132.4 604.1h.9M116.5 589.7h.9M151.9 617.4h.9M132.4 591.8h.9M146.5 590.5h.9M129.3 591.4h.9M145.6 596.8h.9M112.8 601.5h.9M106.4 586.2h.9M104.1 581.2h.9M139.2 610.2h.9M95.1 604.3h.9M98.1 607.2h.9M104.0 611.3h.9M130.7 604.6h.9M134.0 626.8h.9M113.8 599.9h.9M139.7 603.9h.9M132.2 620.6h.9M146.6 610.3h.9M142.3 602.9h.9M115.9 602.5h.9M130.3 589.0h.9M124.4 611.9h.9M134.5 601.5h.9M130.4 609.5h.9M127.5 620.5h.9M138.6 614.4h.9M128.1 607.1h.9M139.0 609.6h.9M127.7 605.4h.9M124.6 624.9h.9M142.0 580.9h.9M142.5 599.2h.9M147.2 595.0h.9M137.3 609.9h.9M123.7 601.1h.9M130.2 605.2h.9M129.7 628.3h.9M98.7 604.9h.9M109.0 613.1h.9M151.8 600.7h.9M126.2 595.1h.9M81.1 587.1h.9M125.2 621.7h.9M129.8 590.0h.9M107.3 596.2h.9M163.9 636.0h.9M145.3 610.2h.9M140.3 605.4h.9M124.1 600.7h.9M134.9 589.9h.9M140.7 609.8h.9M134.8 617.4h.9M116.3 591.6h.9M130.2 597.9h.9M129.2 625.0h.9M131.8 599.6h.9M110.2 611.9h.9M131.3 633.1h.9M127.1 593.0h.9M130.8 603.1h.9M130.2 592.6h.9M103.7 573.6h.9M140.8 621.6h.9M139.0 612.5h.9M105.2 598.4h.9M125.3 609.5h.9M113.1 595.2h.9M119.5 584.9h.9M143.0 597.1h.9M135.3 594.9h.9M158.7 593.8h.9M128.2 617.4h.9M108.6 591.4h.9M128.5 590.0h.9M87.2 602.7h.9M155.3 612.0h.9M130.7 625.1h.9M133.7 607.7h.9M128.9 586.4h.9M112.6 591.1h.9M124.4 615.6h.9M113.6 594.2h.9M118.0 609.0h.9M131.5 627.8h.9M106.7 583.3h.9M152.5 586.6h.9M108.8 599.5h.9M139.3 604.3h.9M115.6 614.0h.9M105.7 581.3h.9M131.9 611.7h.9M128.3 600.6h.9M122.0 581.6h.9M124.6 600.2h.9M115.4 608.8h.9M132.3 626.9h.9M117.6 594.7h.9M125.6 612.5h.9M143.1 588.0h.9M103.8 615.3h.9M115.9 603.8h.9M114.2 622.7h.9M112.2 585.2h.9M103.3 587.0h.9M120.5 581.3h.9M127.4 626.4h.9M123.1 597.3h.9M99.1 577.9h.9M135.8 594.8h.9M136.1 615.1h.9M125.9 611.7h.9M108.6 607.6h.9M110.9 585.1h.9M156.1 603.7h.9M152.4 580.2h.9M132.3 584.6h.9M110.0 609.8h.9M144.9 616.5h.9M127.5 600.6h.9M151.6 582.2h.9M115.4 590.2h.9M132.1 599.0h.9M121.2 623.5h.9M136.7 596.0h.9M114.4 583.6h.9M139.3 589.3h.9M118.4 591.6h.9M110.2 595.1h.9M133.7 600.7h.9M128.3 629.3h.9M90.5 592.9h.9M123.9 575.6h.9M126.2 616.6h.9M127.5 593.4h.9M157.5 596.1h.9M114.2 595.0h.9M124.3 607.2h.9M97.2 602.6h.9M101.1 607.3h.9M115.3 598.0h.9M122.4 603.8h.9M121.3 588.9h.9M134.8 590.2h.9M136.3 596.2h.9M140.8 598.6h.9M121.9 580.8h.9M132.4 588.1h.9M112.9 618.1h.9M130.3 618.7h.9M132.3 624.8h.9M116.4 617.4h.9M72.6 610.3h.9M114.0 624.7h.9M166.1 615.0h.9M122.9 598.8h.9M114.2 598.6h.9M126.2 607.6h.9M142.5 610.3h.9M129.9 601.8h.9M121.1 598.6h.9M103.7 601.0h.9M119.7 592.6h.9M105.2 630.8h.9M130.2 610.5h.9M148.8 579.5h.9M141.5 616.2h.9M114.9 591.9h.9M108.5 599.2h.9M101.9 601.7h.9M131.6 615.6h.9M133.6 603.7h.9M137.2 608.2h.9M129.9 602.2h.9M104.8 632.0h.9M93.3 600.4h.9M142.4 593.5h.9M110.8 585.4h.9M155.0 606.2h.9M90.2 594.8h.9M106.4 604.4h.9M109.2 608.0h.9M128.6 588.8h.9M135.0 605.3h.9M115.3 593.4h.9M133.9 595.2h.9M103.2 589.4h.9M116.1 599.7h.9M104.6 592.6h.9M115.2 593.6h.9M113.8 598.0h.9M129.1 587.0h.9M179.8 625.3h.9M102.0 609.9h.9M120.9 598.3h.9M135.2 608.3h.9M125.3 591.4h.9M147.1 606.7h.9M107.6 582.3h.9M136.7 603.7h.9M111.5 603.9h.9M137.4 599.8h.9M126.8 613.2h.9M128.2 593.3h.9M114.7 604.3h.9M94.2 608.2h.9M106.3 608.8h.9M135.6 604.1h.9M119.9 624.6h.9M136.1 614.7h.9M102.7 610.1h.9M134.5 594.9h.9M140.5 605.8h.9M88.4 593.5h.9M129.4 630.4h.9M155.6 610.9h.9M112.0 592.6h.9M140.3 615.9h.9M124.9 617.8h.9M138.0 597.2h.9M118.0 605.2h.9M111.7 634.8h.9M117.3 603.4h.9M118.4 607.6h.9M114.7 643.2h.9M110.0 602.2h.9M142.1 589.6h.9M114.9 590.4h.9M104.7 603.6h.9M109.1 612.3h.9M132.2 592.8h.9M88.2 574.0h.9M132.3 611.5h.9M135.8 601.7h.9M145.0 598.7h.9M117.2 591.3h.9M111.0 616.8h.9M127.1 601.5h.9M126.6 586.5h.9M145.6 592.2h.9M125.2 597.6h.9M117.4 583.9h.9M102.8 594.8h.9M121.0 618.0h.9M125.6 614.5h.9M143.5 618.0h.9M126.1 616.3h.9M146.2 607.2h.9M144.5 609.9h.9M112.0 579.8h.9M106.0 611.7h.9M114.1 610.7h.9M120.6 606.2h.9M111.3 605.3h.9M135.8 590.3h.9M135.4 598.2h.9M144.0 584.6h.9M129.0 597.5h.9M117.4 599.5h.9M131.1 595.6h.9M109.7 617.3h.9M126.9 592.8h.9M112.1 606.7h.9M143.2 607.6h.9M81.3 597.5h.9M138.2 611.8h.9M138.8 609.7h.9M123.8 598.4h.9M130.0 621.0h.9M127.8 601.9h.9M145.5 613.3h.9M151.3 592.3h.9M124.7 591.6h.9M151.0 607.9h.9M114.1 632.6h.9M131.2 587.6h.9M131.6 588.6h.9M104.1 591.8h.9M129.8 598.2h.9M113.7 603.4h.9M137.4 618.1h.9M110.1 600.1h.9M95.8 608.8h.9M103.4 602.1h.9M124.8 596.1h.9M129.5 597.7h.9M130.0 610.4h.9M112.1 604.9h.9M137.3 621.9h.9M115.6 605.4h.9M120.9 601.8h.9M140.4 590.2h.9M121.9 593.5h.9M94.1 605.9h.9M136.0 608.7h.9M124.5 625.1h.9M118.2 595.1h.9M145.4 613.9h.9M114.3 602.0h.9M135.0 577.8h.9M126.7 589.0h.9M166.6 610.6h.9M95.3 596.7h.9M127.6 595.4h.9M130.1 618.6h.9M142.3 602.4h.9M117.7 607.0h.9M114.2 612.9h.9M147.0 599.8h.9M117.6 611.7h.9M129.0 591.3h.9M123.6 587.1h.9M130.7 618.8h.9M102.7 618.9h.9M115.7 612.6h.9M123.6 594.0h.9M126.2 599.6h.9M142.2 593.2h.9M132.7 592.4h.9M133.8 606.3h.9M123.5 597.6h.9M144.8 620.5h.9M114.6 582.7h.9M122.9 596.9h.9M100.4 586.0h.9M107.5 585.4h.9M138.2 629.1h.9M123.7 624.0h.9M94.4 606.6h.9M123.7 610.5h.9M120.6 611.2h.9M106.0 602.6h.9M129.8 563.6h.9M120.0 573.9h.9M124.6 611.0h.9M139.7 571.4h.9M114.4 621.0h.9M141.8 615.6h.9M120.0 607.1h.9M120.2 607.9h.9M145.2 614.3h.9M130.5 596.0h.9M117.8 626.8h.9M122.5 599.8h.9M127.9 591.6h.9M100.9 625.5h.9M135.2 606.1h.9M124.3 607.7h.9M103.4 617.3h.9M109.1 630.8h.9M138.4 604.1h.9M103.9 603.0h.9M159.1 588.0h.9M107.1 602.3h.9M127.7 625.5h.9M83.0 589.9h.9M123.1 591.3h.9M115.8 580.4h.9M132.1 587.2h.9M127.4 586.3h.9M118.8 603.0h.9M159.0 610.0h.9M136.6 577.8h.9M112.3 607.9h.9M129.8 620.8h.9M77.4 610.6h.9M114.6 592.6h.9M144.2 615.8h.9M115.0 595.9h.9M126.3 588.9h.9M105.3 583.2h.9M136.6 584.8h.9M125.8 599.0h.9M123.9 611.2h.9M139.0 580.9h.9M150.4 579.0h.9M136.8 619.8h.9M95.8 588.4h.9M130.2 633.1h.9M128.1 608.8h.9M105.2 582.9h.9M97.6 613.3h.9M117.1 616.2h.9M118.8 580.3h.9M122.6 599.8h.9M111.8 620.3h.9M126.2 583.3h.9M128.4 609.3h.9M118.9 607.3h.9M129.8 629.5h.9M114.1 619.8h.9M98.1 595.9h.9M123.4 584.3h.9M137.8 599.8h.9M167.2 608.1h.9M89.1 600.0h.9M115.3 596.8h.9M109.3 589.5h.9M127.9 620.3h.9M109.3 597.0h.9M125.6 593.5h.9M139.5 607.4h.9M111.4 604.0h.9M122.4 602.9h.9M149.7 621.3h.9M137.9 591.0h.9M97.4 604.5h.9M157.2 619.5h.9M112.6 596.3h.9M128.5 605.6h.9M116.9 611.4h.9M116.3 609.6h.9M112.4 602.6h.9M133.7 587.9h.9M111.1 590.4h.9M103.3 601.9h.9M114.5 598.7h.9M123.7 599.3h.9M91.2 593.6h.9M136.5 581.5h.9M112.1 610.5h.9M135.4 590.5h.9M146.1 626.1h.9M128.8 640.6h.9M132.4 614.6h.9M116.4 609.0h.9M112.9 594.2h.9M93.0 587.9h.9M120.6 597.8h.9M114.9 616.1h.9M85.4 600.7h.9M128.2 582.4h.9M148.3 616.1h.9M130.3 597.4h.9M142.6 615.9h.9M119.4 603.2h.9M107.3 591.7h.9M124.8 597.5h.9M118.2 612.7h.9M105.4 594.4h.9M140.5 622.5h.9M126.5 593.3h.9M113.2 621.5h.9M127.0 586.2h.9M121.4 589.0h.9M133.8 612.2h.9M149.7 625.4h.9M113.8 598.7h.9M104.5 612.3h.9M146.2 593.1h.9M162.7 593.4h.9M114.0 602.9h.9M109.1 630.5h.9M104.5 598.2h.9M123.8 582.3h.9M125.6 571.0h.9M119.7 601.9h.9M137.5 612.5h.9M110.7 597.4h.9M114.3 604.6h.9M103.6 591.2h.9M146.4 621.7h.9M141.4 611.2h.9M145.1 586.5h.9M110.3 593.8h.9M145.6 620.9h.9M128.7 603.0h.9M135.6 572.7h.9M133.4 598.5h.9M118.9 595.8h.9M121.3 566.7h.9M99.2 606.8h.9M115.2 620.4h.9M120.4 595.2h.9M105.4 589.3h.9M125.7 599.8h.9M144.8 598.0h.9M116.1 600.8h.9M108.5 608.1h.9M110.3 580.3h.9M127.2 598.2h.9M152.4 629.8h.9M126.8 600.8h.9M125.0 603.8h.9M104.1 605.1h.9M129.5 591.8h.9M134.3 584.6h.9M117.6 631.9h.9M123.7 602.6h.9M113.5 587.9h.9M136.0 614.9h.9M145.8 598.7h.9M130.3 590.4h.9M132.4 596.1h.9M125.0 584.2h.9M113.8 587.8h.9M111.7 613.1h.9M117.6 603.1h.9M126.1 598.7h.9M124.1 619.5h.9M140.5 612.9h.9M136.1 597.8h.9M148.2 584.5h.9M136.7 596.0h.9M120.3 618.8h.9M125.8 589.9h.9M98.0 628.6h.9M151.2 601.5h.9M114.8 583.3h.9M117.6 595.6h.9M153.6 623.8h.9M106.9 592.5h.9M114.3 607.3h.9M123.2 611.9h.9M114.9 594.0h.9M125.7 616.4h.9M128.2 621.4h.9M134.5 613.6h.9M122.6 578.6h.9M135.5 607.3h.9M118.9 611.6h.9M134.1 615.0h.9M143.3 628.2h.9M96.4 604.0h.9M120.7 602.7h.9M127.2 575.4h.9M93.9 584.3h.9M75.1 613.3h.9M129.4 587.5h.9M113.9 598.3h.9M137.0 581.0h.9M124.2 598.5h.9M124.1 586.1h.9M118.7 608.1h.9M126.0 601.4h.9M109.7 605.7h.9M116.1 581.1h.9M137.0 600.6h.9M120.3 613.2h.9M132.5 560.7h.9M124.2 594.0h.9M118.9 600.5h.9M108.8 611.8h.9M137.9 611.3h.9M111.0 609.4h.9M130.4 607.2h.9M99.3 610.5h.9M128.7 600.5h.9M130.5 601.2h.9M114.0 585.8h.9M98.3 597.3h.9M121.8 598.6h.9M126.0 623.1h.9M115.9 586.7h.9M113.4 604.9h.9M139.0 599.7h.9M122.5 602.9h.9M117.6 616.2h.9M137.9 602.7h.9M124.0 590.1h.9M113.1 602.9h.9M138.3 616.6h.9M118.5 606.3h.9M139.2 613.2h.9M113.5 583.5h.9M129.5 615.5h.9M144.2 597.9h.9M131.7 587.2h.9M132.4 607.6h.9M131.5 584.2h.9M138.1 607.6h.9M125.7 624.1h.9M131.5 596.0h.9M120.7 590.6h.9M155.3 620.2h.9M110.3 610.3h.9M137.6 615.5h.9M108.6 576.0h.9M133.0 592.3h.9M145.4 629.4h.9M106.8 590.4h.9M152.5 599.1h.9M109.0 603.2h.9M111.2 604.6h.9M129.5 600.7h.9M106.7 566.4h.9M140.0 611.4h.9M132.2 587.9h.9M80.8 612.0h.9M101.5 617.6h.9M112.8 587.1h.9M131.0 605.2h.9M107.2 623.2h.9M112.7 624.8h.9M134.2 616.6h.9M108.4 594.7h.9M129.0 608.9h.9M102.4 588.6h.9M140.3 624.5h.9M147.0 609.7h.9M105.9 620.2h.9M86.4 566.2h.9M97.3 593.3h.9M139.6 597.3h.9M115.0 596.8h.9M141.0 587.6h.9M102.7 607.4h.9M109.1 590.0h.9M122.2 627.8h.9M141.2 599.4h.9M120.6 596.4h.9M107.6 592.0h.9M128.9 611.2h.9M125.4 607.6h.9M132.1 590.7h.9M121.2 562.3h.9M114.1 597.3h.9M124.4 591.7h.9M84.4 599.7h.9M128.3 591.5h.9M143.7 608.6h.9M132.9 588.3h.9M108.8 605.1h.9M99.5 597.8h.9M145.1 617.5h.9M115.9 600.4h.9M120.7 611.1h.9M127.6 599.3h.9M114.6 599.4h.9M124.7 593.8h.9M148.0 587.6h.9M116.1 604.8h.9M154.7 605.2h.9M130.2 624.6h.9M129.2 609.7h.9M139.2 629.2h.9M138.8 630.3h.9M140.9 608.1h.9M133.0 590.3h.9M114.8 599.4h.9M150.1 619.1h.9M121.7 602.3h.9M110.8 616.9h.9M138.4 599.6h.9M134.5 605.5h.9M123.6 615.7h.9M125.3 612.3h.9M133.4 608.7h.9M154.9 609.4h.9M122.9 611.1h.9M104.0 600.7h.9M115.0 616.1h.9M132.3 596.3h.9M120.9 643.7h.9M113.5 605.7h.9M135.8 593.3h.9M135.9 582.8h.9M120.9 591.1h.9M128.7 609.2h.9M113.9 596.1h.9M114.4 618.2h.9M118.6 598.3h.9M102.3 587.6h.9M129.5 599.6h.9M122.8 596.0h.9M115.9 600.1h.9M125.7 588.1h.9M126.1 601.6h.9M112.0 577.1h.9M114.4 604.4h.9M111.2 600.5h.9M145.4 603.0h.9M96.9 590.1h.9M122.4 602.4h.9M137.0 607.1h.9M106.3 578.5h.9M108.2 615.1h.9M107.9 599.9h.9M94.6 607.4h.9M142.2 625.3h.9M119.2 586.4h.9M105.2 588.4h.9M112.6 589.5h.9M125.4 604.1h.9M117.2 589.3h.9M108.1 590.4h.9M130.4 627.4h.9M108.1 598.8h.9M115.9 608.3h.9M124.9 617.1h.9M110.5 622.0h.9M123.3 584.2h.9M111.8 607.7h.9M164.7 617.3h.9M115.5 617.8h.9M133.0 595.3h.9M108.2 596.5h.9M104.0 604.5h.9M119.9 603.9h.9M116.3 598.6h.9M116.4 594.7h.9M121.3 601.7h.9M135.9 600.7h.9M152.4 609.3h.9M154.0 597.7h.9M122.6 589.7h.9M151.0 599.7h.9M148.8 602.8h.9M111.5 616.8h.9M113.7 597.4h.9M119.8 574.9h.9M152.8 635.6h.9M119.0 619.5h.9M117.4 611.0h.9M143.4 611.7h.9M118.3 603.7h.9M118.7 626.9h.9M130.7 587.8h.9M123.8 613.8h.9M82.3 610.5h.9M101.0 633.9h.9M132.2 603.2h.9M97.9 622.3h.9M140.5 611.0h.9M119.7 590.0h.9M124.9 588.9h.9M125.3 620.2h.9M92.1 585.2h.9M109.4 598.7h.9M104.0 624.9h.9M124.6 591.0h.9M145.3 613.4h.9M117.2 629.7h.9M122.0 624.6h.9M89.5 611.8h.9M114.8 593.3h.9M117.0 628.0h.9M117.9 610.3h.9M130.5 605.3h.9M143.4 590.9h.9M120.6 574.3h.9M127.2 609.5h.9M95.9 595.4h.9M130.6 581.3h.9M121.5 615.9h.9M92.9 604.7h.9M126.4 595.9h.9M110.4 597.2h.9M137.2 612.6h.9M128.3 611.4h.9M122.3 591.6h.9M148.5 618.4h.9M118.4 600.9h.9M116.1 589.7h.9M121.6 602.0h.9M123.0 604.4h.9M107.4 618.4h.9M130.3 613.7h.9M127.9 574.0h.9M112.8 586.4h.9M96.2 612.4h.9M140.7 609.1h.9M142.5 592.5h.9M136.0 598.1h.9M137.5 626.9h.9M150.7 574.1h.9M127.4 621.1h.9M148.4 620.5h.9M120.0 595.5h.9M108.5 599.0h.9M122.9 608.8h.9M117.7 604.5h.9M130.7 610.2h.9M152.0 622.4h.9M129.7 595.9h.9M139.8 605.3h.9M157.3 612.9h.9M152.0 600.4h.9M124.6 603.6h.9M112.4 622.7h.9M157.4 579.1h.9M106.0 606.3h.9M94.0 594.2h.9M91.2 585.9h.9M142.2 602.4h.9M99.6 606.9h.9M119.3 614.6h.9M121.3 593.5h.9M144.4 614.4h.9M101.3 621.7h.9M124.2 606.5h.9M128.3 614.1h.9M146.1 612.2h.9M119.6 612.6h.9M127.8 591.6h.9M119.0 620.0h.9M141.1 611.7h.9M138.7 630.0h.9M117.3 614.6h.9M132.4 593.0h.9M99.6 617.8h.9M124.7 622.7h.9M109.3 617.2h.9M116.9 599.6h.9M139.9 600.0h.9M158.4 625.3h.9M127.0 594.0h.9M121.5 615.8h.9M118.3 605.6h.9M135.9 596.4h.9M120.9 599.0h.9M139.6 598.3h.9M148.6 613.1h.9M133.9 596.1h.9M117.6 602.6h.9M136.1 602.1h.9M112.7 608.5h.9M95.4 615.5h.9M142.3 585.8h.9M154.9 612.4h.9M145.3 596.6h.9M118.1 601.0h.9M69.2 597.8h.9M112.0 624.3h.9M133.9 625.4h.9M117.4 600.4h.9M146.3 602.8h.9M110.6 622.5h.9M131.7 611.8h.9M127.3 629.7h.9M127.9 595.2h.9M100.9 617.7h.9M122.0 597.5h.9M127.9 565.3h.9M117.1 613.8h.9M102.4 589.7h.9M115.7 613.1h.9M108.1 598.8h.9M129.2 621.4h.9M139.2 587.1h.9M128.8 583.5h.9M129.5 624.8h.9M120.6 618.6h.9M126.6 605.8h.9M91.9 579.7h.9M124.6 615.7h.9M137.8 638.4h.9M114.9 598.5h.9M134.7 599.7h.9M99.0 590.7h.9M124.1 610.2h.9M120.3 602.7h.9M130.9 583.9h.9M125.7 594.4h.9M159.5 619.7h.9M71.7 584.3h.9M99.8 605.2h.9M112.4 616.6h.9M124.9 614.0h.9M112.8 578.9h.9M112.3 610.5h.9M97.7 586.5h.9M101.2 574.7h.9M109.1 606.4h.9M147.9 583.7h.9M110.1 599.2h.9M168.1 623.8h.9M140.6 612.3h.9M118.6 601.2h.9M136.6 617.0h.9M139.9 605.6h.9M103.8 612.5h.9M96.9 616.3h.9M147.2 591.9h.9M107.7 624.3h.9M137.4 602.7h.9M134.4 605.1h.9M96.1 603.5h.9M133.9 600.4h.9M132.5 598.1h.9M144.2 612.2h.9M122.8 595.0h.9M130.8 610.2h.9M129.5 613.7h.9M119.5 595.2h.9M150.0 601.1h.9M139.1 611.6h.9M148.4 604.9h.9M129.1 612.1h.9M142.3 604.0h.9M107.8 597.5h.9M113.2 599.4h.9M139.6 608.7h.9M119.6 618.6h.9M116.9 580.1h.9M125.9 596.9h.9M97.6 595.8h.9M126.1 592.7h.9M131.3 597.5h.9M118.1 618.4h.9M105.0 615.3h.9M151.8 597.5h.9M130.2 584.4h.9M106.6 607.3h.9M113.7 608.8h.9M97.0 585.2h.9M95.0 603.5h.9M92.2 606.3h.9M109.7 610.9h.9M130.2 597.0h.9M135.3 610.9h.9M121.4 600.9h.9M139.9 616.0h.9M132.6 607.3h.9M104.6 610.0h.9M109.6 602.3h.9M128.0 600.2h.9M134.4 607.3h.9M141.0 616.2h.9M101.0 596.4h.9M91.7 605.4h.9M156.2 638.6h.9M118.8 594.3h.9M139.7 587.0h.9M124.0 590.6h.9M101.0 597.5h.9M146.3 605.2h.9M131.1 574.1h.9M147.6 578.8h.9M133.4 614.5h.9M107.5 583.2h.9M123.0 612.3h.9M139.9 620.9h.9M112.4 561.4h.9M126.7 610.9h.9M142.6 605.4h.9M103.6 597.1h.9M117.7 607.9h.9M126.6 602.8h.9M139.4 611.8h.9M122.2 627.6h.9M112.2 606.4h.9M133.0 587.9h.9M113.9 621.1h.9M130.7 618.8h.9M129.7 623.1h.9M120.7 608.2h.9M137.8 616.4h.9M143.1 631.2h.9M102.7 600.7h.9M132.4 595.9h.9M121.3 622.5h.9M119.1 598.5h.9M125.4 618.9h.9M143.1 598.0h.9M121.6 597.0h.9M118.8 607.1h.9M103.7 606.1h.9M121.4 593.2h.9M124.1 625.3h.9M108.6 596.7h.9M119.2 612.6h.9M131.9 592.2h.9M146.7 597.5h.9M119.6 595.8h.9M156.6 608.5h.9M140.5 607.2h.9M138.5 607.7h.9M134.0 604.8h.9M126.1 616.1h.9M114.4 615.0h.9M123.5 597.9h.9M125.6 605.7h.9M127.3 610.1h.9M149.7 615.4h.9M157.2 613.3h.9M133.6 600.1h.9M141.1 600.9h.9M113.8 603.9h.9M92.8 607.7h.9M123.4 589.7h.9M129.0 591.1h.9M147.8 600.5h.9M164.3 608.3h.9M129.4 595.6h.9M146.3 599.9h.9M143.2 594.7h.9M128.7 610.9h.9M138.7 578.6h.9M131.5 604.2h.9M150.5 597.1h.9M108.2 602.7h.9M87.8 603.1h.9M127.5 564.4h.9M140.4 619.8h.9M142.4 614.8h.9M116.2 623.9h.9M134.3 614.9h.9M114.9 615.0h.9M136.5 612.0h.9M113.4 623.8h.9M108.1 584.7h.9M140.7 603.8h.9M105.2 590.0h.9M101.6 613.4h.9M138.3 608.3h.9M127.1 625.5h.9M88.0 602.6h.9M144.7 603.1h.9M105.6 599.9h.9M118.2 593.4h.9M123.7 576.8h.9M158.1 606.1h.9M125.1 598.1h.9M140.2 599.1h.9M123.3 588.5h.9M133.8 605.8h.9M102.7 588.1h.9M125.6 607.4h.9M115.6 599.8h.9M109.1 598.2h.9M130.4 583.2h.9M142.4 609.6h.9M133.3 615.9h.9M120.4 601.6h.9M137.4 597.0h.9M107.6 610.4h.9M130.7 614.5h.9M134.0 598.7h.9M124.1 639.8h.9M121.4 619.8h.9M127.5 623.8h.9M116.4 608.5h.9M122.0 608.8h.9M137.5 591.7h.9M94.4 597.8h.9M145.7 606.2h.9M132.9 613.6h.9M129.0 597.4h.9M109.2 591.2h.9M118.8 618.7h.9M115.9 604.4h.9M136.5 617.2h.9M135.7 606.0h.9M144.1 597.2h.9M126.4 603.6h.9M92.7 568.5h.9M109.8 615.4h.9M119.4 610.6h.9M130.6 619.7h.9M101.0 598.8h.9M122.0 629.7h.9M126.2 620.0h.9M115.5 579.6h.9M122.1 579.9h.9M161.9 610.2h.9M124.8 585.3h.9M157.0 604.4h.9M128.9 601.6h.9M113.6 598.6h.9M133.9 624.3h.9M118.4 610.7h.9M123.9 612.1h.9M88.7 603.7h.9M130.5 643.6h.9M115.5 620.5h.9M143.1 596.0h.9M126.6 611.2h.9M118.7 593.3h.9M107.9 599.9h.9M125.1 602.5h.9M118.7 584.7h.9M112.2 577.8h.9M154.8 590.0h.9M122.3 610.7h.9M139.1 567.8h.9M148.3 613.6h.9M131.1 575.8h.9M134.7 593.9h.9M132.8 597.1h.9M140.1 614.7h.9M133.9 604.3h.9M132.7 589.6h.9M126.8 595.9h.9M116.8 606.2h.9M117.6 617.4h.9M114.3 606.3h.9M127.7 602.3h.9M145.6 601.8h.9M109.4 623.2h.9M114.7 591.8h.9M108.8 596.1h.9M123.6 608.1h.9M141.0 621.9h.9M119.2 580.1h.9M129.4 616.9h.9M87.2 615.8h.9M122.1 606.7h.9M132.3 578.8h.9M114.6 593.1h.9M98.3 599.4h.9M131.9 607.9h.9M122.7 586.7h.9M153.5 602.6h.9M115.2 612.2h.9M122.0 595.9h.9M118.4 598.9h.9M126.1 597.4h.9M95.3 582.0h.9M146.2 600.4h.9M134.7 601.4h.9M120.8 613.1h.9M118.7 592.3h.9M132.8 586.6h.9M130.3 597.3h.9M117.8 591.0h.9M121.8 610.7h.9M130.0 596.4h.9M117.7 581.9h.9M119.2 611.0h.9M117.7 601.8h.9M118.7 605.3h.9M103.7 607.0h.9M109.4 616.3h.9M130.4 591.6h.9M137.1 612.8h.9M123.7 604.3h.9M100.8 600.1h.9M131.1 597.7h.9M151.5 608.5h.9M143.8 605.4h.9M121.2 612.2h.9M118.9 622.8h.9M117.7 589.6h.9M152.3 631.7h.9M128.3 618.2h.9M109.8 586.9h.9M139.8 602.9h.9M137.8 604.5h.9M92.3 616.4h.9M114.5 589.6h.9M140.7 627.6h.9M139.1 590.2h.9M104.8 596.9h.9M124.6 595.2h.9M138.7 588.0h.9M130.1 588.8h.9M107.9 594.2h.9M121.7 599.6h.9M135.3 596.1h.9M132.5 591.7h.9M109.3 567.6h.9M162.2 602.8h.9M128.3 628.9h.9M100.8 623.6h.9M119.5 618.5h.9M81.0 594.5h.9M113.8 609.4h.9M124.1 596.2h.9M163.3 600.4h.9M128.0 605.8h.9M130.8 617.6h.9M137.0 597.9h.9M128.3 594.9h.9M115.4 602.2h.9M146.6 585.4h.9M133.2 615.6h.9M149.6 619.2h.9M141.4 620.7h.9M110.1 612.6h.9M117.7 595.0h.9M118.6 599.8h.9M118.9 590.5h.9M132.2 608.2h.9M122.3 632.4h.9M112.5 589.4h.9M148.5 614.2h.9M146.8 623.7h.9M125.7 589.7h.9M108.3 630.6h.9M115.3 593.8h.9M113.2 601.2h.9M111.0 608.0h.9M109.7 614.7h.9M129.0 614.5h.9M129.9 600.7h.9M132.0 595.4h.9M110.4 571.1h.9M129.9 597.2h.9M156.8 623.1h.9M129.0 593.4h.9M119.0 611.3h.9M168.6 616.7h.9M130.2 606.3h.9M115.3 595.4h.9M139.3 597.4h.9M114.0 602.0h.9M119.5 579.6h.9M141.3 623.6h.9M115.6 588.8h.9M101.8 593.3h.9M136.5 596.2h.9M138.6 600.8h.9M103.4 606.9h.9M119.8 619.3h.9M142.6 608.1h.9M129.3 625.0h.9M138.6 599.8h.9M123.5 612.8h.9M115.4 613.5h.9M116.5 604.9h.9M120.6 612.2h.9M128.3 590.3h.9M82.7 617.9h.9M95.1 612.1h.9M125.6 606.0h.9M136.2 599.9h.9M115.1 614.2h.9M125.7 589.2h.9M108.5 612.2h.9M103.7 614.4h.9M128.1 637.6h.9M124.5 602.5h.9M117.6 621.3h.9M105.0 610.4h.9M126.7 582.4h.9M124.6 586.4h.9M121.6 596.3h.9M123.7 619.2h.9M119.8 622.8h.9M133.8 601.2h.9M131.8 610.2h.9M153.7 609.2h.9M147.7 572.3h.9M124.7 618.4h.9M106.0 621.2h.9M135.3 574.6h.9M115.8 590.4h.9M149.3 604.6h.9M101.8 600.7h.9M118.5 617.3h.9M149.5 621.5h.9M125.3 596.4h.9M136.6 613.8h.9M135.6 596.0h.9M117.5 599.0h.9M138.4 608.1h.9M111.4 609.9h.9M120.0 594.9h.9M158.5 632.1h.9M122.2 606.3h.9M130.9 604.3h.9M108.2 612.7h.9M146.2 597.1h.9M110.6 606.7h.9M113.4 569.9h.9M115.6 579.9h.9M110.1 597.6h.9M102.6 595.6h.9M120.4 598.5h.9M117.3 594.4h.9M123.3 611.4h.9M109.4 618.7h.9M110.7 595.8h.9M119.8 617.2h.9M124.8 608.9h.9M110.2 586.3h.9M124.2 585.6h.9M121.1 604.1h.9M141.4 619.6h.9M134.7 592.2h.9M132.6 576.3h.9M140.6 618.1h.9M114.8 618.4h.9M146.0 602.5h.9M127.6 618.6h.9M117.0 630.4h.9M131.1 592.9h.9M107.9 597.2h.9M152.7 601.0h.9M128.7 618.7h.9M101.2 590.4h.9M107.0 598.1h.9M116.7 620.2h.9M115.9 616.7h.9M131.8 618.7h.9M138.6 592.7h.9M140.7 611.2h.9M133.2 596.8h.9M110.0 615.1h.9M142.3 612.2h.9M144.0 615.1h.9M94.2 599.1h.9M115.8 605.2h.9M119.1 608.6h.9M112.4 600.2h.9M141.0 609.7h.9M131.9 591.7h.9M125.6 588.3h.9M105.5 579.5h.9M92.3 599.4h.9M109.9 614.0h.9M111.5 608.7h.9M110.4 576.4h.9M91.2 606.6h.9M100.4 602.6h.9M117.7 601.4h.9M129.7 607.5h.9M116.1 611.0h.9M120.7 621.9h.9M123.2 620.6h.9M123.3 629.5h.9M143.2 613.5h.9M111.8 595.2h.9M127.6 622.1h.9M103.5 586.3h.9M142.9 616.8h.9M135.8 591.5h.9M139.9 597.8h.9M126.1 620.6h.9M122.4 595.8h.9M104.2 616.7h.9M129.3 613.0h.9M145.8 604.2h.9M80.8 610.5h.9M152.0 614.6h.9M111.5 605.1h.9M131.9 596.5h.9M111.5 614.3h.9M122.0 599.7h.9M137.3 604.6h.9M121.5 609.9h.9M152.9 605.3h.9M125.1 607.7h.9M134.7 609.1h.9M114.7 607.2h.9M116.5 605.4h.9M118.2 622.0h.9M132.4 598.6h.9M150.7 600.8h.9M125.0 587.8h.9M104.2 571.7h.9M114.8 612.3h.9M102.8 608.8h.9M132.1 623.9h.9M124.9 585.2h.9M107.5 592.7h.9M118.8 596.3h.9M139.3 631.2h.9M131.7 617.0h.9M115.5 601.1h.9M136.4 604.9h.9M130.7 608.8h.9M115.8 588.6h.9M127.4 608.9h.9M154.1 592.4h.9M107.1 604.0h.9M140.6 614.5h.9M122.3 607.6h.9M134.5 595.7h.9M130.8 600.8h.9M128.9 614.9h.9M122.1 597.1h.9M124.5 586.2h.9M135.2 601.2h.9M131.7 597.7h.9M101.4 599.3h.9M131.7 604.4h.9M145.2 601.0h.9M138.7 600.4h.9M127.8 616.0h.9M95.7 609.0h.9M133.9 617.1h.9M135.0 605.6h.9M147.6 600.6h.9M109.4 606.5h.9M120.8 584.2h.9M116.1 588.1h.9M120.2 614.3h.9M97.2 595.0h.9M117.0 594.2h.9M117.6 588.7h.9M118.5 608.9h.9M149.6 589.9h.9M114.5 618.7h.9M117.3 605.6h.9M142.1 581.9h.9M115.5 596.0h.9M143.3 591.7h.9M131.5 611.2h.9M114.4 609.5h.9M113.1 596.1h.9M126.5 595.1h.9M121.2 608.9h.9M125.8 595.2h.9M115.2 620.0h.9M133.6 595.4h.9M113.7 607.0h.9M116.8 576.8h.9M121.4 608.0h.9M104.4 593.4h.9M119.2 606.3h.9M121.0 617.5h.9M101.4 599.0h.9M95.9 567.9h.9M143.8 577.9h.9M120.0 603.9h.9M122.0 591.1h.9M114.2 587.1h.9M149.2 618.6h.9M120.9 599.7h.9M95.9 612.9h.9M131.9 615.6h.9M108.7 596.5h.9M131.1 605.2h.9M122.1 587.2h.9M144.4 609.8h.9M131.8 603.0h.9M118.2 623.0h.9M146.8 615.7h.9M167.5 604.2h.9M115.8 593.0h.9M141.6 601.2h.9M130.3 603.2h.9M131.5 613.2h.9M104.7 614.4h.9M108.9 585.6h.9M146.9 590.8h.9M126.8 607.2h.9M116.0 586.0h.9M153.1 603.7h.9M143.9 580.9h.9M136.2 599.2h.9M108.9 595.3h.9M124.3 598.3h.9M148.0 596.0h.9M92.2 606.2h.9M99.2 612.1h.9M111.8 611.0h.9M140.0 600.2h.9M128.2 598.7h.9M132.1 594.4h.9M127.7 593.3h.9M126.2 600.4h.9M143.8 601.8h.9M182.1 604.5h.9M132.1 606.2h.9M145.5 615.4h.9M117.6 593.6h.9M150.2 601.6h.9M126.2 609.9h.9M127.6 605.4h.9M117.3 591.5h.9M112.5 586.2h.9M116.0 610.4h.9M109.1 587.5h.9M104.0 606.3h.9M154.2 592.1h.9M131.8 626.2h.9M140.5 590.3h.9M132.8 627.1h.9M101.9 610.7h.9M125.3 621.0h.9M110.4 617.8h.9M111.8 608.8h.9M122.9 599.0h.9M127.4 635.2h.9M126.2 597.9h.9M126.8 605.8h.9M120.1 585.3h.9M125.2 603.1h.9M144.8 612.6h.9M159.9 597.1h.9M142.7 606.6h.9M121.1 599.2h.9M131.0 599.4h.9M140.2 612.7h.9M140.9 616.0h.9M144.4 595.3h.9M144.7 582.5h.9M131.2 609.9h.9M120.2 588.8h.9M99.9 595.3h.9M141.9 594.0h.9M134.6 617.1h.9M110.9 630.6h.9M124.9 595.7h.9M118.2 631.0h.9M117.6 604.8h.9M152.8 601.3h.9M118.8 617.4h.9M163.8 631.6h.9M122.4 600.1h.9M113.0 598.1h.9M126.7 627.7h.9M163.5 618.0h.9M122.1 566.4h.9M132.8 601.8h.9M88.0 589.7h.9M134.0 596.3h.9M102.4 602.9h.9M122.6 596.8h.9M146.5 599.7h.9M120.5 629.9h.9M136.1 582.9h.9M120.9 605.0h.9M119.1 610.5h.9M129.0 584.6h.9M142.0 589.7h.9M126.1 588.4h.9M124.2 614.2h.9M109.0 587.7h.9M97.2 607.4h.9M126.5 587.6h.9M121.5 586.4h.9M128.8 609.3h.9M141.2 615.3h.9M137.7 586.5h.9M110.3 588.5h.9M128.6 606.6h.9M129.0 590.6h.9M120.5 587.4h.9M88.0 585.7h.9M111.4 605.7h.9M122.9 568.4h.9M136.6 626.9h.9M119.3 623.4h.9M101.8 617.4h.9M146.3 601.9h.9M123.7 593.9h.9M116.9 609.2h.9M132.9 589.0h.9M135.4 632.0h.9M123.0 594.7h.9M114.8 617.6h.9M115.0 612.6h.9M137.1 598.0h.9M121.9 599.5h.9M132.2 592.5h.9M93.3 601.5h.9M116.2 610.0h.9M117.9 602.4h.9M116.5 597.6h.9M92.6 600.5h.9M116.9 618.5h.9M149.5 616.8h.9M129.0 609.8h.9M115.5 593.9h.9M112.4 595.6h.9M102.1 607.4h.9M127.7 598.0h.9M111.3 592.7h.9M117.6 620.3h.9M138.4 605.4h.9M139.2 607.1h.9M134.0 595.9h.9M97.1 604.2h.9M114.8 612.7h.9M143.0 607.9h.9M104.8 581.7h.9M144.2 598.0h.9M123.5 609.8h.9M139.2 607.0h.9M117.2 615.3h.9M105.0 597.1h.9M107.5 600.5h.9M147.5 616.6h.9M118.6 601.5h.9M104.0 612.2h.9M137.1 580.6h.9M98.8 587.8h.9M121.2 614.5h.9M129.3 613.6h.9M128.6 613.0h.9M130.7 615.2h.9M122.4 614.6h.9M84.0 584.5h.9M127.8 623.8h.9M123.1 613.8h.9M120.6 586.6h.9M131.7 585.7h.9M136.2 608.8h.9M127.3 593.7h.9M148.1 611.1h.9M159.3 601.4h.9M128.4 583.0h.9M118.2 590.7h.9M102.8 595.5h.9M133.1 602.9h.9M95.0 610.3h.9M151.1 595.9h.9M139.6 609.8h.9M115.3 598.6h.9M134.8 601.5h.9M109.7 570.7h.9M105.9 594.1h.9M136.2 584.2h.9M107.3 609.8h.9M127.8 616.9h.9M121.7 607.8h.9M149.1 631.6h.9M128.9 606.1h.9M149.4 615.4h.9M137.8 598.9h.9M111.3 606.0h.9M104.8 587.2h.9M89.6 595.4h.9M124.3 615.9h.9M78.7 598.4h.9M110.4 596.7h.9M84.6 597.4h.9M113.6 608.0h.9M135.1 621.2h.9M109.5 581.2h.9M114.7 601.2h.9M116.2 599.8h.9M128.0 599.4h.9M99.7 599.9h.9M125.4 609.2h.9M121.9 617.5h.9M106.8 578.0h.9M107.7 585.1h.9M143.2 605.3h.9M135.3 583.9h.9M130.5 608.7h.9M110.0 589.7h.9M117.9 599.8h.9M102.4 584.9h.9M95.0 587.6h.9M115.9 637.5h.9M113.8 596.7h.9M103.2 619.4h.9M103.7 599.7h.9M129.4 610.8h.9M115.9 590.6h.9M97.8 606.3h.9M156.5 597.7h.9M95.2 561.7h.9M126.8 567.2h.9M107.1 598.8h.9M134.3 611.5h.9M124.5 591.5h.9M139.8 589.0h.9M122.2 594.1h.9M111.1 622.6h.9M146.7 579.2h.9M122.4 610.3h.9M119.9 616.7h.9M120.9 583.4h.9M111.5 588.3h.9M129.0 596.8h.9M150.5 595.0h.9M147.5 616.3h.9M128.1 603.1h.9M133.8 595.4h.9M135.4 607.5h.9M113.0 616.9h.9M147.5 598.7h.9M127.4 591.0h.9M93.9 611.6h.9M133.3 625.6h.9M108.5 621.3h.9M128.2 613.0h.9M134.2 600.7h.9M118.3 612.5h.9M127.7 610.1h.9M145.2 612.4h.9M100.9 600.1h.9M92.7 613.7h.9M121.3 614.1h.9M119.3 585.5h.9M156.9 614.9h.9M139.3 590.8h.9M131.8 605.0h.9M121.6 600.7h.9M91.9 606.6h.9M101.7 594.4h.9M117.9 597.6h.9M126.1 596.3h.9M116.2 595.8h.9M124.9 584.1h.9M134.4 610.8h.9M111.6 594.3h.9M116.2 607.0h.9M107.3 601.5h.9M142.6 610.2h.9M90.2 608.0h.9M132.7 586.5h.9M135.4 602.5h.9M90.1 602.8h.9M115.1 593.1h.9M140.5 595.8h.9M108.3 606.8h.9M113.5 619.2h.9M122.2 610.3h.9M144.2 614.2h.9M132.9 608.2h.9M111.8 627.5h.9M100.5 601.9h.9M98.4 613.2h.9M128.2 648.4h.9M87.6 605.2h.9M113.4 602.2h.9M132.3 583.3h.9M103.2 580.1h.9M117.5 631.1h.9M120.9 603.8h.9M134.9 592.2h.9M100.8 594.8h.9M123.8 588.5h.9M121.7 603.0h.9M124.3 594.7h.9M97.1 608.7h.9M130.8 623.7h.9M109.0 608.5h.9M120.8 603.7h.9M108.9 602.5h.9M154.1 624.2h.9M123.6 585.7h.9M157.3 593.4h.9M112.5 595.0h.9M118.2 587.0h.9M146.6 612.0h.9M116.8 597.7h.9M129.9 591.1h.9M141.4 612.1h.9M116.7 601.6h.9M111.8 607.8h.9M118.7 602.9h.9M139.2 597.6h.9M129.7 589.7h.9M143.7 611.1h.9M118.5 590.6h.9M115.1 616.3h.9M104.5 605.2h.9M117.9 602.4h.9M113.2 591.7h.9M120.8 625.0h.9M107.6 598.6h.9M111.2 609.6h.9M117.7 594.4h.9M138.4 620.1h.9M117.4 608.6h.9M113.5 616.4h.9M139.4 615.8h.9M144.6 603.6h.9M118.0 591.5h.9M118.6 604.0h.9M93.5 592.6h.9M97.6 596.6h.9M122.0 626.1h.9M145.3 618.0h.9M152.6 610.6h.9M136.1 613.8h.9M115.0 615.2h.9M131.1 607.7h.9M99.1 601.4h.9M121.5 605.7h.9M103.7 609.1h.9M122.9 631.5h.9M146.1 591.1h.9M158.1 608.1h.9M126.4 597.6h.9M129.3 636.4h.9M96.1 595.3h.9M112.3 620.3h.9M147.5 614.7h.9M141.7 612.7h.9M136.4 619.9h.9M130.2 610.8h.9M149.5 603.0h.9M118.8 629.3h.9M119.8 589.1h.9M168.4 584.0h.9M109.0 593.3h.9M130.2 614.6h.9M116.9 595.4h.9M147.2 608.1h.9M118.7 616.8h.9M117.4 613.5h.9M117.9 609.9h.9M136.0 620.6h.9M106.7 604.2h.9M98.9 617.2h.9M121.0 607.6h.9M117.2 624.6h.9M131.7 620.3h.9M117.3 605.8h.9M113.1 619.8h.9M127.6 617.9h.9M129.9 617.2h.9M139.5 611.6h.9M124.0 590.5h.9M93.6 596.6h.9M122.2 617.7h.9M123.1 622.7h.9M121.4 585.3h.9M131.6 594.4h.9M118.4 578.2h.9M141.0 589.5h.9M118.2 613.2h.9M145.7 599.3h.9M105.0 610.6h.9M84.8 621.3h.9M107.4 581.3h.9M169.2 611.1h.9M118.8 609.5h.9M121.2 611.4h.9M127.4 619.8h.9M116.1 620.6h.9M127.3 613.9h.9M125.1 593.7h.9M156.6 624.1h.9M142.6 636.0h.9M127.6 592.0h.9M134.5 605.7h.9M133.0 611.8h.9M105.7 600.0h.9M141.4 610.9h.9M113.0 609.3h.9M136.1 622.2h.9M125.6 602.0h.9M138.1 605.6h.9M146.4 633.8h.9M132.9 621.5h.9M115.6 599.6h.9M118.3 589.8h.9M132.6 606.3h.9M116.6 612.8h.9M117.2 602.5h.9M121.5 587.7h.9M117.6 589.0h.9M131.9 597.5h.9M116.1 605.2h.9M124.9 609.3h.9M111.6 619.5h.9M95.3 593.5h.9M136.4 595.2h.9M139.3 583.3h.9M115.3 590.7h.9M136.5 602.7h.9M128.5 601.2h.9M104.6 600.5h.9M142.7 608.9h.9M91.2 596.9h.9M122.6 585.4h.9M135.2 608.1h.9M105.6 607.7h.9M149.6 596.1h.9M114.0 647.4h.9M143.9 572.7h.9M120.5 583.8h.9M134.8 597.6h.9M122.8 596.6h.9M162.2 595.2h.9M130.4 608.0h.9M140.4 620.7h.9M135.5 612.6h.9M127.0 607.5h.9M119.8 625.0h.9M130.6 584.7h.9M140.1 603.1h.9M138.8 606.5h.9M132.9 600.7h.9M122.0 602.3h.9M135.6 602.3h.9M108.1 594.2h.9M123.9 588.3h.9M91.1 586.9h.9M113.2 598.9h.9M121.8 609.3h.9M101.4 609.0h.9M105.8 612.4h.9M139.6 572.8h.9M132.6 592.3h.9M142.2 589.6h.9M143.5 605.3h.9M135.0 604.8h.9M137.6 599.3h.9M129.5 617.4h.9M154.2 631.1h.9M159.8 600.0h.9M163.7 586.3h.9M163.1 625.5h.9M155.6 628.8h.9M171.6 602.0h.9M165.4 614.5h.9M167.7 604.1h.9M160.8 622.2h.9M160.5 606.1h.9M151.3 615.4h.9M140.4 592.0h.9M147.9 619.3h.9M143.8 611.4h.9M158.2 649.9h.9M144.8 630.1h.9M153.6 604.1h.9M149.7 593.3h.9M158.5 623.2h.9M156.7 600.2h.9M171.6 625.7h.9M167.1 629.4h.9M173.3 636.8h.9M159.5 634.9h.9M141.7 627.9h.9M167.9 614.2h.9M177.0 615.2h.9M154.8 615.3h.9M172.1 638.4h.9M157.0 607.4h.9M159.7 613.3h.9M157.5 625.1h.9M152.9 594.7h.9M154.2 606.8h.9M142.1 611.0h.9M160.1 607.4h.9M159.9 605.4h.9M165.3 619.7h.9M158.1 599.3h.9M162.6 621.4h.9M179.8 611.7h.9M168.1 591.4h.9M157.3 572.6h.9M161.0 598.2h.9M158.8 619.2h.9M170.8 611.7h.9M153.8 603.5h.9M168.7 613.2h.9M162.5 618.6h.9M133.6 605.0h.9M163.0 598.8h.9M153.2 630.9h.9M149.9 610.5h.9M158.5 619.1h.9M161.5 604.0h.9M181.8 618.5h.9M159.3 627.6h.9M150.4 598.3h.9M157.5 609.5h.9M163.0 608.3h.9M149.8 594.7h.9M156.4 636.8h.9M143.3 593.2h.9M146.9 618.0h.9M154.5 601.5h.9M165.5 611.2h.9M150.0 604.1h.9M150.5 601.7h.9M157.7 611.3h.9M149.0 577.5h.9M153.3 598.4h.9M149.9 613.6h.9M174.8 638.0h.9M154.1 611.5h.9M171.7 601.1h.9M159.8 625.0h.9M175.3 620.9h.9M149.3 594.1h.9M160.2 601.6h.9M135.8 590.8h.9M170.8 629.4h.9M164.4 596.4h.9M155.1 594.0h.9M177.7 616.8h.9M185.7 629.4h.9M172.9 604.8h.9M173.7 624.1h.9M159.1 592.2h.9M150.9 620.9h.9M144.3 611.5h.9M168.6 613.3h.9M140.8 577.4h.9M156.7 624.9h.9M174.8 614.1h.9M162.0 614.4h.9M146.7 593.8h.9M150.5 630.1h.9M170.7 606.9h.9M148.6 615.4h.9M154.3 608.4h.9M145.3 605.1h.9M158.0 620.7h.9M152.7 617.6h.9M168.3 631.4h.9M149.2 602.6h.9M154.5 622.4h.9M136.0 594.4h.9M171.0 614.9h.9M170.1 589.4h.9M155.9 611.4h.9M160.0 609.4h.9M162.8 602.4h.9M168.7 603.4h.9M142.9 606.7h.9M150.0 626.8h.9M180.1 613.7h.9M169.6 614.4h.9M164.2 618.8h.9M158.9 631.7h.9M166.6 629.1h.9M167.1 621.1h.9M167.0 589.2h.9M148.5 619.8h.9M158.8 603.5h.9M162.4 619.6h.9M161.5 601.9h.9M148.8 619.1h.9M156.5 606.4h.9M149.4 604.7h.9M154.6 615.0h.9M160.8 592.4h.9M164.1 629.9h.9M164.3 613.0h.9M168.3 612.1h.9M160.1 599.5h.9M146.7 620.4h.9M159.3 597.3h.9M154.4 627.4h.9M142.5 597.9h.9M152.7 612.5h.9M162.6 602.4h.9M168.5 614.6h.9M157.6 623.7h.9M145.4 601.6h.9M158.1 595.6h.9M151.7 608.0h.9M170.6 602.7h.9M146.6 613.6h.9M166.7 596.0h.9M156.4 604.2h.9M162.4 623.5h.9M151.8 613.4h.9M163.6 598.3h.9M158.6 607.7h.9M156.9 614.8h.9M148.3 621.4h.9M153.3 597.7h.9M140.6 611.6h.9M163.6 599.7h.9M155.8 589.1h.9M172.8 629.0h.9M144.2 618.9h.9M173.7 624.3h.9M163.0 625.9h.9M154.3 608.1h.9M163.3 631.9h.9M146.5 623.0h.9M145.5 600.2h.9M170.3 608.2h.9M139.5 586.4h.9M158.8 583.8h.9M171.7 624.0h.9M159.8 620.8h.9M171.4 602.5h.9M156.6 621.0h.9M152.2 611.1h.9M169.8 593.2h.9M167.2 622.1h.9M157.9 619.6h.9M171.9 622.5h.9M147.8 600.2h.9M168.6 593.5h.9M154.9 617.4h.9M160.9 629.1h.9M159.8 661.0h.9M160.5 583.7h.9M163.9 607.1h.9M172.3 628.6h.9M172.3 623.3h.9M159.7 628.3h.9M159.5 594.4h.9M149.4 593.7h.9M174.7 625.1h.9M167.7 584.4h.9M152.9 604.4h.9M160.6 590.0h.9M173.3 616.9h.9M152.2 608.1h.9M161.5 634.9h.9M158.9 608.9h.9M156.2 632.0h.9M159.7 617.5h.9M139.9 605.0h.9M168.4 593.2h.9M154.6 620.5h.9M160.1 604.4h.9M145.4 636.6h.9M181.0 614.9h.9M164.4 621.5h.9M140.3 620.0h.9M153.0 575.7h.9M155.6 603.1h.9M149.5 614.1h.9M145.8 618.0h.9M146.2 610.1h.9M150.5 633.3h.9M160.2 627.6h.9M160.9 626.8h.9M170.8 633.9h.9M157.1 592.7h.9M137.2 623.9h.9M157.2 610.7h.9M169.0 594.4h.9M147.3 622.7h.9M160.3 634.2h.9M161.7 628.3h.9M148.8 621.0h.9M156.6 607.6h.9M148.9 640.4h.9M172.3 624.6h.9M164.8 609.2h.9M159.1 598.5h.9M165.1 613.9h.9M165.0 590.5h.9M150.4 626.1h.9M146.0 626.3h.9M144.9 607.2h.9M146.4 590.0h.9M166.4 605.0h.9M169.1 640.3h.9M173.1 639.0h.9M145.8 621.1h.9M158.5 636.9h.9M170.2 629.7h.9M175.6 609.7h.9M155.4 603.2h.9M155.0 623.3h.9M154.9 630.0h.9M162.7 583.6h.9M166.2 615.2h.9M168.0 600.7h.9M154.3 586.5h.9M172.6 606.3h.9M149.1 613.0h.9M164.7 618.7h.9M171.6 618.0h.9M169.3 624.4h.9M162.9 608.8h.9M155.1 597.2h.9M158.0 643.4h.9M151.8 643.9h.9M152.2 595.5h.9M149.3 597.7h.9M169.3 597.0h.9M147.5 613.1h.9M152.1 612.4h.9M171.6 603.6h.9M162.5 616.4h.9M175.3 619.8h.9M173.7 622.9h.9M163.0 613.7h.9M169.5 608.7h.9M148.2 612.9h.9M161.3 585.1h.9M175.7 612.1h.9M163.5 588.1h.9M161.9 617.6h.9M185.0 624.1h.9M166.9 614.3h.9M145.4 607.8h.9M170.2 643.1h.9M135.2 630.5h.9M164.0 631.9h.9M162.9 615.9h.9M154.8 626.6h.9M151.8 610.4h.9M155.1 625.7h.9M185.2 591.8h.9M148.8 620.5h.9M151.6 589.2h.9M157.5 613.7h.9M155.4 617.0h.9M175.7 636.9h.9M162.5 612.4h.9M157.8 604.6h.9M166.5 623.5h.9M162.3 625.7h.9M157.6 618.8h.9M156.5 608.5h.9M158.0 621.9h.9M158.0 597.9h.9M155.4 614.0h.9M158.8 604.9h.9M171.5 627.7h.9M147.4 599.9h.9M163.1 633.9h.9M166.4 638.6h.9M158.5 614.4h.9M159.0 595.5h.9M170.2 622.3h.9M155.4 607.9h.9M165.1 616.4h.9M164.6 622.3h.9M161.3 621.7h.9M161.4 618.9h.9M167.3 590.5h.9M173.3 616.5h.9M149.2 600.7h.9M169.3 620.6h.9M153.0 573.6h.9M151.0 598.4h.9M161.2 604.8h.9M161.2 589.9h.9M142.9 614.7h.9M174.9 625.5h.9M155.1 623.4h.9M165.9 611.0h.9M163.1 605.3h.9M165.2 631.2h.9M160.2 603.9h.9M162.3 638.2h.9M160.1 625.1h.9M156.1 607.7h.9M170.0 635.8h.9M160.9 631.9h.9M162.7 586.4h.9M154.0 614.5h.9M153.4 608.6h.9M161.0 611.1h.9M146.0 637.9h.9M173.0 634.3h.9M155.8 645.8h.9M156.3 628.7h.9M154.6 613.7h.9M160.6 603.6h.9M164.3 622.8h.9M166.0 625.4h.9M153.0 611.0h.9M148.8 606.8h.9M158.0 626.1h.9M158.1 616.2h.9M152.3 642.1h.9M170.9 609.1h.9M149.5 622.6h.9M150.9 618.4h.9M168.1 650.7h.9M155.5 611.3h.9M157.4 606.5h.9M151.1 617.4h.9M147.4 609.5h.9M152.2 634.1h.9M143.1 625.7h.9M165.9 622.4h.9M161.8 615.2h.9M176.9 583.6h.9M158.3 597.3h.9M153.9 606.6h.9M168.5 601.0h.9M154.1 624.8h.9M168.4 641.0h.9M154.4 605.2h.9M142.0 596.5h.9M155.8 615.9h.9M156.1 638.9h.9M163.9 612.2h.9M154.8 601.7h.9M161.4 620.9h.9M161.3 595.3h.9M150.8 597.1h.9M148.5 616.8h.9M152.0 596.1h.9M143.7 610.3h.9M159.7 611.0h.9M164.9 598.1h.9M155.9 621.6h.9M152.8 642.7h.9M147.8 620.6h.9M164.8 604.4h.9M168.7 609.2h.9M138.6 619.8h.9M177.9 612.4h.9M173.2 608.6h.9M153.8 602.6h.9M158.7 615.1h.9M160.3 617.0h.9M162.4 611.0h.9M155.4 622.1h.9M162.6 626.3h.9M164.8 635.8h.9M181.6 622.1h.9M158.1 619.9h.9M152.8 620.2h.9M168.1 610.4h.9M158.5 626.4h.9M160.2 588.2h.9M159.6 622.9h.9M155.4 605.9h.9M154.6 616.8h.9M154.4 633.2h.9M151.7 630.4h.9M154.7 640.8h.9M175.8 576.7h.9M158.2 627.2h.9M151.5 610.1h.9M149.5 631.4h.9M169.8 606.7h.9M153.2 621.0h.9M160.3 604.7h.9M142.8 606.1h.9M139.5 591.0h.9M161.1 615.9h.9M143.2 603.9h.9M160.7 607.5h.9M166.7 641.2h.9M151.0 600.8h.9M154.0 629.8h.9M154.5 609.7h.9M152.1 609.5h.9M154.9 616.5h.9M154.6 607.4h.9M156.5 652.1h.9M159.0 601.2h.9M163.3 610.1h.9M162.8 616.1h.9M159.1 630.4h.9M151.4 623.2h.9M163.1 623.0h.9M165.9 610.7h.9M159.9 616.7h.9M155.2 631.8h.9M178.2 638.0h.9M138.1 598.1h.9M164.3 582.4h.9M160.7 630.2h.9M172.4 619.4h.9M175.5 622.8h.9M164.5 600.7h.9M154.5 619.6h.9M163.9 622.7h.9M148.1 634.1h.9M159.5 649.3h.9M151.7 617.4h.9M163.2 618.9h.9M142.7 613.1h.9M155.6 617.6h.9M160.5 581.7h.9M156.7 608.3h.9M155.6 608.2h.9M151.9 638.7h.9M156.5 626.7h.9M172.1 607.0h.9M153.4 606.0h.9M147.0 602.3h.9M149.3 594.2h.9M154.8 622.1h.9M165.0 628.6h.9M156.3 608.6h.9M165.8 586.5h.9M171.3 616.1h.9M150.7 625.5h.9M160.8 610.3h.9M156.0 596.0h.9M167.1 612.1h.9M166.2 648.1h.9M162.2 619.1h.9M148.5 622.0h.9M155.5 602.6h.9M157.9 616.9h.9M157.9 599.3h.9M153.0 620.5h.9M160.9 589.5h.9M162.6 591.3h.9M161.5 642.8h.9M151.5 607.3h.9M155.1 626.4h.9M148.0 604.5h.9M152.0 626.3h.9M164.2 599.1h.9M156.7 597.0h.9M157.0 631.0h.9M168.3 624.4h.9M153.4 581.3h.9M158.7 601.2h.9M145.2 612.7h.9M166.9 638.9h.9M156.9 616.3h.9M165.8 615.9h.9M165.6 596.1h.9M158.2 633.1h.9M163.6 628.4h.9M145.4 584.3h.9M153.7 617.6h.9M141.3 570.1h.9M167.5 614.2h.9M164.1 601.9h.9M171.5 619.1h.9M170.9 593.3h.9M172.8 622.6h.9M156.9 594.7h.9M145.1 606.6h.9M155.0 600.3h.9M177.7 601.5h.9M163.7 631.1h.9M169.4 615.9h.9M165.7 633.1h.9M164.1 612.2h.9M155.8 618.1h.9M148.5 632.1h.9M166.8 612.3h.9M150.4 605.3h.9M173.8 602.2h.9M163.8 606.0h.9M164.9 627.0h.9M158.9 618.8h.9M143.2 609.7h.9M150.7 616.5h.9M167.4 626.2h.9M147.2 623.1h.9M147.7 597.8h.9M172.4 602.2h.9M139.5 635.5h.9M157.9 613.2h.9M162.0 624.2h.9M176.7 608.3h.9M168.5 596.9h.9M162.8 602.2h.9M142.6 625.7h.9M156.3 606.2h.9M143.0 626.0h.9M161.2 621.0h.9M146.0 593.0h.9M167.9 602.4h.9M164.6 617.2h.9M153.7 635.1h.9M162.6 624.8h.9M160.7 581.3h.9M159.7 621.2h.9M158.8 609.7h.9M165.5 617.3h.9M159.4 625.9h.9M155.3 598.0h.9M162.2 629.1h.9M152.3 609.5h.9M170.0 600.4h.9M166.3 622.5h.9M139.9 596.9h.9M156.1 599.8h.9M157.6 602.1h.9M158.1 620.8h.9M163.3 628.9h.9M170.9 608.0h.9M172.4 643.8h.9M140.9 608.4h.9M166.8 622.3h.9M141.4 615.2h.9M168.4 614.3h.9M162.8 597.0h.9M151.3 613.8h.9M154.3 603.8h.9M154.3 600.9h.9M169.9 599.3h.9M153.5 616.0h.9M154.9 605.8h.9M162.5 614.7h.9M173.9 606.7h.9M153.3 593.1h.9M161.2 597.9h.9M152.0 630.1h.9M168.1 623.0h.9M148.0 615.7h.9M162.2 622.3h.9M162.4 596.6h.9M155.2 624.8h.9M169.3 591.3h.9M176.0 606.9h.9M158.8 603.4h.9M161.8 605.3h.9M160.5 586.9h.9M169.6 629.3h.9M166.2 588.8h.9M159.5 624.8h.9M158.1 617.9h.9M151.8 614.9h.9M156.2 608.6h.9M158.8 605.0h.9M174.2 603.3h.9M166.7 633.7h.9M139.0 603.0h.9M153.9 600.0h.9M170.0 627.3h.9M169.1 643.7h.9M142.4 591.9h.9M157.7 610.7h.9M173.2 612.5h.9M152.1 595.8h.9M154.9 594.5h.9M159.5 619.7h.9M149.2 608.9h.9M168.5 624.0h.9M160.4 591.4h.9M160.5 594.9h.9M152.4 598.8h.9M168.3 611.1h.9M155.4 615.1h.9M151.3 605.0h.9M157.0 582.7h.9M146.4 598.1h.9M153.3 634.0h.9M179.9 604.2h.9M151.3 615.6h.9M150.3 603.3h.9M158.7 616.9h.9M161.5 623.9h.9M162.4 586.4h.9M160.8 608.3h.9M143.1 629.4h.9M154.2 599.2h.9M138.1 597.8h.9M165.1 614.6h.9M162.4 619.8h.9M166.2 591.8h.9M144.3 624.1h.9M139.7 608.8h.9M159.2 613.4h.9M149.3 614.6h.9M147.5 608.1h.9M150.8 625.9h.9M144.2 608.4h.9M141.4 615.3h.9M161.7 611.7h.9M161.2 617.3h.9M165.5 615.7h.9M161.3 595.6h.9M159.2 624.0h.9M162.5 596.9h.9M155.5 621.2h.9M159.4 617.1h.9M156.8 597.5h.9M137.3 610.0h.9M161.8 608.3h.9M174.3 618.1h.9M172.5 602.5h.9M156.3 627.2h.9M161.6 615.5h.9M160.4 628.0h.9M174.5 607.2h.9M173.9 605.4h.9M151.3 617.1h.9M151.2 592.2h.9M154.1 603.3h.9M152.9 632.4h.9M172.7 606.6h.9M140.6 611.5h.9M148.0 591.2h.9M145.3 624.7h.9M152.2 595.2h.9M164.2 596.6h.9M148.4 614.4h.9M165.9 599.1h.9M173.8 587.3h.9M160.0 597.6h.9M169.7 618.0h.9M156.4 605.9h.9M161.8 619.6h.9M155.9 622.8h.9M168.8 622.0h.9M161.6 633.3h.9M164.6 615.3h.9M166.8 632.4h.9M168.1 609.9h.9M149.6 630.4h.9M161.0 626.0h.9M151.8 626.9h.9M154.9 656.5h.9M158.5 617.9h.9M164.1 623.1h.9M158.3 626.8h.9M156.4 627.1h.9M170.7 624.8h.9M162.8 624.3h.9M138.8 610.2h.9M162.2 605.6h.9M154.3 593.9h.9M164.7 615.7h.9M165.7 605.4h.9M174.1 595.1h.9M155.3 634.8h.9M166.7 630.4h.9M157.0 616.2h.9M152.3 595.2h.9M144.1 610.6h.9M161.1 615.0h.9M172.1 608.8h.9M156.6 634.0h.9M168.5 629.1h.9M159.4 597.6h.9M166.2 620.5h.9M157.1 589.5h.9M163.7 621.1h.9M149.3 622.1h.9M165.4 634.5h.9M176.1 580.5h.9M168.7 637.4h.9M153.7 599.6h.9M141.2 621.4h.9M160.5 599.9h.9M148.1 613.0h.9M157.5 621.0h.9M167.9 611.7h.9M137.6 618.2h.9M156.2 606.7h.9M157.1 603.5h.9M165.5 603.3h.9M162.5 592.6h.9M174.4 615.8h.9M162.8 605.8h.9M165.2 636.6h.9M140.0 603.8h.9M158.6 630.8h.9M155.7 574.9h.9M158.2 620.0h.9M168.4 619.4h.9M147.3 628.0h.9M134.7 635.7h.9M175.7 622.6h.9M157.1 637.2h.9M155.1 608.2h.9M172.0 608.3h.9M166.3 630.1h.9M160.6 618.2h.9M161.7 630.2h.9M165.6 602.3h.9M150.3 608.0h.9M159.9 617.8h.9M178.1 616.4h.9M164.2 627.7h.9M161.8 656.0h.9M177.7 614.2h.9M161.3 634.8h.9M174.3 612.8h.9M162.2 593.2h.9M157.1 592.0h.9M162.9 600.6h.9M161.9 584.3h.9M146.2 609.1h.9M178.4 626.3h.9M164.0 582.1h.9M179.6 611.0h.9M152.3 594.3h.9M155.7 631.4h.9M147.5 630.4h.9M157.6 618.2h.9M165.1 615.5h.9M178.6 610.3h.9M154.9 611.3h.9M156.1 636.2h.9M168.3 624.3h.9M164.0 618.2h.9M153.0 639.3h.9M154.9 616.0h.9M152.9 617.6h.9M170.4 608.9h.9M153.8 589.6h.9M156.0 614.4h.9M170.1 609.3h.9M153.7 625.3h.9M168.8 594.8h.9M145.8 592.2h.9M153.0 612.5h.9M172.0 604.2h.9M164.7 606.1h.9M150.5 611.9h.9M148.1 596.8h.9M143.7 608.5h.9M162.2 640.5h.9M156.6 613.7h.9M161.8 608.4h.9M158.2 615.6h.9M185.0 606.3h.9M170.7 621.0h.9M144.6 624.1h.9M161.3 605.3h.9M147.3 604.0h.9M161.0 620.1h.9M156.2 587.7h.9M161.1 632.4h.9M155.7 601.5h.9M139.2 582.5h.9M164.6 614.6h.9M141.6 594.4h.9M150.1 591.3h.9M151.9 597.0h.9M160.4 612.6h.9M147.4 617.2h.9M157.3 585.4h.9M159.5 612.0h.9M177.0 601.4h.9M152.6 607.5h.9M161.3 621.2h.9M165.1 617.6h.9M157.2 628.8h.9M160.7 598.8h.9M168.0 614.5h.9M152.7 617.7h.9M131.8 599.3h.9M156.2 600.1h.9M161.7 590.9h.9M163.7 592.5h.9M163.6 639.9h.9M170.0 605.1h.9M159.6 613.9h.9M153.3 614.2h.9M148.3 605.1h.9M146.6 613.0h.9M167.9 621.1h.9M153.1 600.9h.9M151.2 629.1h.9M172.9 617.1h.9M146.4 604.9h.9M166.9 610.4h.9M149.3 628.7h.9M153.8 634.9h.9M153.8 603.9h.9M162.3 619.7h.9M155.3 603.9h.9M167.5 599.8h.9M152.8 611.4h.9M176.3 621.7h.9M155.0 640.4h.9M141.4 597.1h.9M149.4 595.4h.9M149.6 581.7h.9M161.3 593.5h.9M145.5 619.5h.9M169.6 622.1h.9M149.9 637.6h.9M153.7 625.6h.9M168.7 612.2h.9M138.3 619.2h.9M178.7 636.4h.9M150.2 588.6h.9M140.1 582.0h.9M172.9 619.9h.9M156.5 620.0h.9M141.5 583.3h.9M164.5 607.8h.9M174.0 597.7h.9M174.0 620.0h.9M164.3 634.0h.9M149.0 624.5h.9M153.4 630.4h.9M166.5 608.2h.9M162.8 603.9h.9M155.8 627.6h.9M172.6 606.5h.9M146.3 612.8h.9M174.3 624.6h.9M148.0 595.5h.9M153.7 580.6h.9M157.7 630.5h.9M166.3 612.4h.9M170.3 627.0h.9M143.5 617.6h.9M149.6 588.2h.9M151.8 615.9h.9M157.2 604.5h.9M150.8 608.2h.9M147.9 603.4h.9M173.2 615.0h.9M165.5 618.8h.9M158.9 601.6h.9M167.6 624.1h.9M156.4 641.0h.9M143.6 608.7h.9M140.5 632.0h.9M164.6 612.3h.9M158.0 607.3h.9M157.8 600.4h.9M148.9 630.3h.9M160.0 611.4h.9M161.0 601.9h.9M172.1 630.6h.9M171.2 611.0h.9M152.6 616.4h.9M176.6 590.4h.9M167.8 602.8h.9M173.7 610.5h.9M157.2 621.6h.9M168.8 622.5h.9M143.4 614.0h.9M170.5 607.0h.9M151.7 631.5h.9M163.0 610.8h.9M152.3 608.9h.9M159.0 592.3h.9M159.6 625.6h.9M146.2 624.6h.9M160.3 631.0h.9M168.4 604.9h.9M159.9 632.5h.9M170.1 620.8h.9M181.4 588.2h.9M160.2 615.9h.9M172.4 608.1h.9M160.8 622.0h.9M147.9 597.5h.9M166.7 595.6h.9M147.2 606.6h.9M159.4 648.6h.9M181.3 610.4h.9M152.1 603.2h.9M148.0 598.3h.9M155.3 589.7h.9M163.2 600.8h.9M167.3 624.6h.9M153.2 592.1h.9M152.8 602.6h.9M164.8 607.3h.9M158.2 620.9h.9M169.0 613.1h.9M151.0 606.1h.9M172.7 643.8h.9M161.6 636.2h.9M158.4 621.8h.9M143.2 597.9h.9M155.8 613.0h.9M157.9 584.1h.9M170.0 588.3h.9M160.6 600.5h.9M149.1 609.5h.9M145.4 616.9h.9M167.6 608.8h.9M147.5 589.4h.9M175.9 612.9h.9M161.4 610.8h.9M153.9 620.2h.9M150.8 624.8h.9M172.5 623.1h.9M157.4 631.4h.9M160.5 620.7h.9M139.2 610.7h.9M160.3 627.8h.9M148.8 617.0h.9M136.5 586.7h.9M156.5 623.8h.9M157.5 621.8h.9M146.6 597.2h.9M186.4 630.2h.9M147.3 594.0h.9M150.0 641.4h.9M161.4 580.5h.9M161.8 619.2h.9M161.4 603.8h.9M156.1 607.7h.9M173.8 625.2h.9M150.7 622.4h.9M140.5 623.4h.9M148.4 629.7h.9M157.2 597.8h.9M159.4 610.6h.9M178.3 612.0h.9M157.8 614.1h.9M154.2 583.1h.9M153.3 629.0h.9M150.6 619.5h.9M165.8 626.4h.9M146.9 618.6h.9M172.2 605.0h.9M149.4 598.7h.9M152.1 602.7h.9M159.1 590.1h.9M142.5 598.2h.9M159.9 608.3h.9M158.5 614.7h.9M171.8 605.8h.9M165.8 640.4h.9M134.8 600.4h.9M162.3 616.4h.9M148.8 614.7h.9M149.0 589.6h.9M150.3 616.2h.9M178.3 589.6h.9M154.4 604.0h.9M158.7 602.8h.9M167.5 606.6h.9M176.6 622.5h.9M154.8 631.6h.9M160.0 616.4h.9M161.2 623.9h.9M159.4 605.1h.9M156.5 599.8h.9M147.4 613.2h.9M153.5 597.8h.9M150.7 614.5h.9M148.8 626.7h.9M153.2 631.3h.9M157.9 633.7h.9M151.9 597.0h.9M154.6 622.3h.9M167.3 618.2h.9M165.8 611.6h.9M149.0 597.9h.9M140.8 613.5h.9M183.4 636.0h.9M156.6 615.5h.9M175.8 615.0h.9M158.0 636.2h.9M175.9 614.7h.9M162.8 615.7h.9M157.8 638.3h.9M153.0 641.4h.9M156.9 615.5h.9M149.6 611.3h.9M161.4 607.9h.9M158.1 603.7h.9M163.7 608.6h.9M163.9 627.6h.9M147.9 635.6h.9M161.6 603.6h.9M158.9 612.2h.9M169.0 620.9h.9M174.6 618.7h.9M154.6 603.4h.9M137.9 593.6h.9M158.1 589.3h.9M157.9 615.7h.9M148.8 616.8h.9M162.5 614.8h.9M156.2 623.2h.9M164.9 610.7h.9M146.2 608.3h.9M161.1 582.2h.9M156.4 636.3h.9M156.3 597.6h.9M167.9 626.8h.9M152.5 634.9h.9M154.5 615.7h.9M165.8 623.2h.9M143.5 613.2h.9M165.1 623.2h.9M151.3 610.8h.9M135.9 589.9h.9M172.1 613.6h.9M174.3 591.4h.9M159.2 620.0h.9M148.3 614.5h.9M140.9 625.1h.9M161.2 603.9h.9M173.0 597.2h.9M143.4 614.7h.9M157.6 607.9h.9M173.4 610.1h.9M165.9 600.3h.9M156.3 601.6h.9M178.1 625.6h.9M145.5 609.3h.9M163.1 616.3h.9M168.3 641.4h.9M144.8 627.5h.9M153.2 613.5h.9M153.9 628.2h.9M185.2 606.7h.9M157.4 600.4h.9M157.0 615.4h.9M152.6 617.6h.9M183.3 619.2h.9M177.8 642.7h.9M149.6 593.3h.9M150.8 623.9h.9M164.0 620.8h.9M160.2 624.2h.9M161.9 606.9h.9M151.1 600.0h.9M140.5 606.9h.9M159.8 611.2h.9M148.9 592.5h.9M183.9 625.3h.9M160.2 601.0h.9M161.1 591.8h.9M162.6 618.5h.9M152.3 611.6h.9M160.5 594.4h.9M147.6 603.6h.9M158.6 603.2h.9M163.2 601.2h.9M158.8 595.4h.9M131.1 607.1h.9M164.1 620.0h.9M150.9 603.1h.9M168.0 626.1h.9M159.4 616.4h.9M158.3 631.6h.9M163.2 617.7h.9M152.2 604.3h.9M159.0 616.7h.9M155.0 614.0h.9M164.0 595.2h.9M167.4 602.1h.9M150.5 619.5h.9M154.3 601.6h.9M150.7 622.0h.9M176.3 595.9h.9M151.0 613.5h.9M157.9 606.6h.9M156.3 597.5h.9M149.6 603.3h.9M164.0 603.9h.9M155.9 639.0h.9M168.8 624.8h.9M149.6 606.4h.9M162.0 636.6h.9M180.3 616.9h.9M167.4 611.4h.9M158.5 625.0h.9M167.6 618.5h.9M146.9 609.0h.9M163.5 603.8h.9M162.3 609.0h.9M163.8 605.8h.9M163.9 598.8h.9M165.7 605.7h.9M152.8 602.2h.9M153.6 595.3h.9M148.7 598.9h.9M163.5 624.9h.9M141.2 623.8h.9M157.5 614.4h.9M150.6 600.3h.9M160.5 605.8h.9M180.3 616.7h.9M153.4 624.8h.9M169.1 605.3h.9M172.1 598.6h.9M147.6 598.0h.9M157.0 610.3h.9M161.0 618.4h.9M150.4 630.1h.9M154.4 585.5h.9M156.4 603.2h.9M160.1 614.4h.9M153.4 593.8h.9M169.6 606.2h.9M164.0 589.8h.9M157.9 607.2h.9M161.5 624.9h.9M142.1 633.3h.9M144.1 601.3h.9M145.6 609.0h.9M160.5 630.3h.9M172.9 626.3h.9M153.9 620.1h.9M147.5 619.1h.9M149.5 608.5h.9M160.5 599.9h.9M146.0 606.0h.9M150.0 622.2h.9M164.9 613.8h.9M170.3 624.9h.9M159.6 622.5h.9M158.2 616.8h.9M155.4 619.9h.9M163.9 593.5h.9M130.6 601.1h.9M160.4 619.7h.9M160.4 607.1h.9M155.2 596.8h.9M155.0 611.5h.9M162.3 597.6h.9M153.8 626.4h.9M164.5 620.9h.9M150.9 609.1h.9M162.3 620.6h.9M167.1 608.7h.9M148.6 629.5h.9M168.0 603.9h.9M162.2 631.2h.9M161.1 613.7h.9M170.9 617.2h.9M162.6 604.4h.9M150.1 607.5h.9M164.6 621.5h.9M169.4 613.9h.9M155.2 608.5h.9M156.1 639.4h.9M156.0 600.0h.9M154.0 604.9h.9M150.8 595.5h.9M165.7 588.4h.9M168.9 617.4h.9M146.1 615.4h.9M157.2 601.2h.9M155.6 595.8h.9M165.5 621.5h.9M168.7 603.7h.9M162.5 638.4h.9M169.7 634.5h.9M167.4 620.6h.9M164.9 611.0h.9M163.5 622.0h.9M168.9 592.7h.9M153.7 623.1h.9M148.1 633.0h.9M166.9 592.8h.9M167.6 609.7h.9M174.3 626.5h.9M158.0 613.3h.9M147.9 606.7h.9M162.4 633.4h.9M172.4 619.4h.9M153.2 625.6h.9M157.4 607.1h.9M153.5 613.6h.9M144.4 593.9h.9M170.2 592.3h.9M154.7 599.4h.9M174.0 621.1h.9M154.8 627.0h.9M142.2 594.4h.9M149.8 628.0h.9M149.5 602.3h.9M151.9 593.5h.9M156.4 616.6h.9M155.1 617.8h.9M174.1 607.7h.9M137.3 611.4h.9M148.9 617.6h.9M159.5 620.2h.9M165.6 608.8h.9M159.5 604.3h.9M158.2 654.5h.9M163.6 622.0h.9M156.7 599.9h.9M155.8 618.2h.9M162.0 622.3h.9M144.8 621.0h.9M158.6 591.8h.9M151.0 607.8h.9M160.9 620.5h.9M156.6 625.7h.9M170.2 633.1h.9M163.6 616.7h.9M161.3 601.8h.9M151.0 641.2h.9M163.7 599.8h.9M138.2 610.9h.9M166.8 630.7h.9M166.5 613.3h.9M160.3 633.6h.9M164.8 622.6h.9M145.3 622.4h.9M153.8 631.5h.9M150.0 616.5h.9M164.0 595.2h.9M163.9 628.6h.9M173.3 625.8h.9M148.7 615.9h.9M150.1 617.1h.9M162.5 607.4h.9M152.7 602.2h.9M152.2 622.5h.9M164.3 603.0h.9M158.5 625.3h.9M153.1 607.8h.9M168.8 608.9h.9M157.4 599.7h.9M145.2 605.0h.9M156.5 615.5h.9M158.4 615.3h.9M151.9 615.8h.9M168.1 624.6h.9M161.1 609.1h.9M165.0 615.6h.9M166.8 606.9h.9M156.1 626.2h.9M156.5 628.8h.9M159.6 622.4h.9M155.2 637.1h.9M172.2 608.9h.9M150.6 603.4h.9M146.3 611.7h.9M164.0 648.4h.9M157.1 622.8h.9M145.6 620.0h.9M165.7 616.5h.9M166.1 630.8h.9M151.0 620.9h.9M148.0 631.2h.9M166.6 627.5h.9M165.7 637.8h.9M166.4 592.3h.9M156.2 610.4h.9M167.2 617.2h.9M174.7 598.3h.9M166.1 608.6h.9M165.6 630.5h.9M170.1 625.0h.9M164.0 633.3h.9M159.6 602.5h.9M162.8 634.1h.9M168.5 609.2h.9M162.4 627.1h.9M165.9 610.7h.9M155.8 630.1h.9M158.6 619.5h.9M145.7 608.9h.9M167.8 613.2h.9M162.8 619.8h.9M149.9 639.8h.9M163.7 605.7h.9M152.0 629.2h.9M164.2 621.5h.9M177.4 624.9h.9M160.7 626.5h.9M152.6 628.1h.9M155.1 613.4h.9M161.6 612.3h.9M155.3 606.6h.9M165.4 628.6h.9M141.7 630.7h.9M172.1 634.2h.9M157.8 621.9h.9M158.7 617.4h.9M171.1 609.4h.9M168.1 624.3h.9M142.4 608.7h.9M146.1 605.1h.9M167.2 607.2h.9M155.2 598.0h.9M150.4 618.6h.9M166.2 616.5h.9M157.6 634.4h.9M162.5 613.3h.9M151.0 651.6h.9M154.4 619.8h.9M156.9 610.3h.9M161.2 627.4h.9M168.1 612.7h.9M143.6 630.0h.9M151.1 603.3h.9M151.5 597.6h.9M159.5 649.1h.9M151.7 623.4h.9M159.1 622.1h.9M168.8 609.8h.9M159.7 607.3h.9M169.8 613.2h.9M158.3 620.2h.9M141.7 617.2h.9M158.1 592.0h.9M161.2 633.3h.9M152.4 623.4h.9M157.1 630.3h.9M170.3 599.8h.9M162.8 612.3h.9M148.4 606.3h.9M146.6 612.9h.9M164.5 590.8h.9M163.9 628.1h.9M147.3 606.2h.9M156.6 577.9h.9M159.1 623.1h.9M167.6 603.2h.9M166.1 630.5h.9M180.3 592.8h.9M152.1 606.6h.9M141.8 592.1h.9M157.6 621.7h.9M167.9 599.6h.9M148.0 595.7h.9M148.6 602.4h.9M160.7 603.2h.9M158.8 629.4h.9M170.6 609.9h.9M154.0 607.6h.9M183.1 618.9h.9M166.8 617.2h.9M166.9 617.2h.9M146.3 606.0h.9M163.0 609.3h.9M175.7 610.7h.9M156.1 613.5h.9M175.4 615.4h.9M166.1 632.7h.9M170.1 599.3h.9M162.7 597.6h.9M168.3 615.4h.9M142.1 614.1h.9M157.3 627.1h.9M154.3 620.9h.9M159.4 619.8h.9M154.6 640.7h.9M146.9 626.6h.9M162.4 604.1h.9M161.5 620.4h.9M158.4 602.5h.9M167.3 617.4h.9M155.1 606.7h.9M167.3 608.7h.9M165.8 602.9h.9M150.2 613.1h.9M166.3 620.5h.9M155.9 620.4h.9M161.8 617.0h.9M154.7 612.2h.9M170.9 620.2h.9M163.0 630.8h.9M133.7 598.2h.9M149.5 591.9h.9M146.6 609.5h.9M155.9 609.0h.9M164.9 629.2h.9M159.2 629.6h.9M142.1 631.1h.9M138.5 592.3h.9M158.5 626.8h.9M155.7 634.9h.9M166.2 625.8h.9M163.7 636.8h.9M160.8 629.1h.9M171.6 616.6h.9M161.8 633.5h.9M165.2 622.4h.9M154.1 595.0h.9M162.3 625.4h.9M174.6 603.7h.9M147.9 610.4h.9M146.7 585.7h.9M154.1 605.6h.9M169.0 626.2h.9M159.0 610.8h.9M151.5 588.8h.9M164.1 600.1h.9M157.9 632.7h.9M158.4 610.8h.9M146.0 622.1h.9M140.9 638.3h.9M162.7 620.8h.9M153.3 618.5h.9M165.2 640.0h.9M177.5 589.7h.9M166.4 622.2h.9M147.1 618.5h.9M161.0 625.2h.9M153.0 621.8h.9M161.5 611.3h.9M167.0 603.1h.9M155.6 635.2h.9M163.9 627.6h.9M159.9 592.5h.9M163.2 604.1h.9M166.6 628.2h.9M158.1 623.4h.9M169.3 612.0h.9M170.8 613.9h.9M150.3 611.1h.9M157.1 620.5h.9M158.3 610.7h.9M140.4 609.9h.9M150.0 598.2h.9M170.6 633.1h.9M164.2 603.4h.9M159.3 611.3h.9M160.6 614.8h.9M167.7 611.3h.9M147.5 595.4h.9M172.7 606.1h.9M153.2 608.6h.9M155.0 583.4h.9M148.8 615.7h.9M161.5 648.8h.9M150.5 602.8h.9M157.7 603.8h.9M150.0 614.7h.9M169.4 607.2h.9M170.8 599.5h.9M151.3 611.4h.9M145.7 603.7h.9M146.2 604.1h.9M165.8 625.1h.9M146.0 614.9h.9M150.0 619.0h.9M157.5 631.3h.9M172.3 622.9h.9M158.9 625.2h.9M155.7 613.2h.9M164.8 625.8h.9M142.4 632.3h.9M148.1 605.7h.9M167.5 619.2h.9M168.7 600.8h.9M163.6 611.3h.9M162.2 613.5h.9M155.6 621.3h.9M156.2 608.2h.9M175.0 636.7h.9M149.1 634.0h.9M170.4 627.4h.9M158.0 644.5h.9M143.8 599.7h.9M163.7 589.5h.9M150.9 606.8h.9M162.3 602.8h.9M161.9 601.8h.9M180.3 610.6h.9M152.9 620.9h.9M139.9 628.3h.9M162.4 610.8h.9M164.6 627.3h.9M156.2 613.5h.9M151.5 615.3h.9M163.2 634.8h.9M165.1 615.6h.9M154.6 618.9h.9M166.4 618.3h.9M159.0 602.3h.9M157.8 626.7h.9M147.2 646.1h.9M152.3 614.1h.9M164.8 629.2h.9M170.3 635.9h.9M169.3 620.4h.9M157.7 618.0h.9M157.1 610.9h.9M150.5 596.4h.9M151.1 607.5h.9M155.1 623.3h.9M167.6 627.4h.9M169.7 604.2h.9M161.9 638.2h.9M163.9 592.7h.9M149.7 599.0h.9M156.8 617.1h.9M165.1 600.8h.9M159.1 610.0h.9M164.0 622.8h.9M146.3 598.7h.9M172.8 599.5h.9M155.6 623.4h.9M152.6 635.3h.9M159.5 614.2h.9M123.6 626.0h.9M155.4 590.7h.9M177.3 606.9h.9M153.0 629.5h.9M167.4 624.7h.9M142.6 611.3h.9M145.2 597.1h.9M143.5 588.0h.9M171.4 628.4h.9M140.6 624.5h.9M161.2 616.4h.9M150.7 620.9h.9M164.6 614.4h.9M148.3 605.9h.9M152.0 604.2h.9M162.0 606.4h.9M142.0 600.6h.9M139.2 630.0h.9M177.4 622.8h.9M159.2 615.2h.9M163.2 634.6h.9M158.5 623.1h.9M161.9 616.9h.9M158.6 617.9h.9M162.4 623.1h.9M146.8 603.5h.9M133.8 613.3h.9M152.2 599.9h.9M173.2 608.7h.9M152.3 612.0h.9M141.1 603.5h.9M173.0 622.3h.9M168.4 621.5h.9M153.0 640.9h.9M165.7 618.0h.9M163.6 622.8h.9M146.7 605.3h.9M170.1 616.4h.9M164.7 617.1h.9M162.9 630.1h.9M169.1 619.7h.9M140.3 609.9h.9M157.6 605.2h.9M173.4 618.7h.9M170.8 629.5h.9M144.7 594.8h.9M164.7 633.4h.9M152.5 614.9h.9M162.3 599.5h.9M151.4 610.5h.9M171.7 630.0h.9M178.7 631.7h.9M168.9 605.1h.9M169.2 613.1h.9M160.9 636.0h.9M157.4 625.6h.9M173.4 642.4h.9M167.4 631.2h.9M162.1 611.9h.9M153.2 618.0h.9M148.7 605.0h.9M167.5 620.6h.9M167.5 631.3h.9M159.4 624.3h.9M160.2 608.8h.9M145.7 595.8h.9M152.6 616.0h.9M150.1 581.5h.9M164.5 614.2h.9M157.4 634.8h.9M159.3 614.9h.9M152.3 589.0h.9M160.0 613.4h.9M143.6 604.1h.9M175.9 628.6h.9M159.6 591.1h.9M164.0 617.1h.9M163.5 606.0h.9M151.3 627.6h.9M172.3 622.3h.9M161.0 603.4h.9M157.9 625.6h.9M169.1 612.3h.9M150.8 629.2h.9M165.6 623.1h.9M176.1 629.1h.9M154.8 610.6h.9M163.7 610.7h.9M146.9 606.5h.9M161.8 617.2h.9M162.1 585.2h.9M144.0 634.1h.9M174.8 618.2h.9M178.8 618.8h.9M141.6 591.2h.9M163.5 598.3h.9M155.5 598.5h.9M157.0 623.5h.9M163.3 603.8h.9M160.0 602.9h.9M157.5 624.3h.9M162.1 603.6h.9M155.7 588.0h.9M161.4 576.8h.9M153.0 612.4h.9M167.7 639.2h.9M178.4 626.0h.9M159.6 621.6h.9M156.5 598.7h.9M172.2 639.1h.9M140.7 602.9h.9M157.6 630.5h.9M148.5 646.3h.9M154.0 623.0h.9M149.2 592.3h.9M156.5 616.4h.9M170.8 607.1h.9M151.1 612.2h.9M157.1 627.2h.9M169.9 640.6h.9M164.0 630.7h.9M166.1 614.1h.9M157.9 620.9h.9M154.2 604.1h.9M154.8 618.5h.9M155.4 610.8h.9M146.6 626.0h.9M136.7 624.2h.9M154.0 618.3h.9M161.0 615.6h.9M153.6 609.7h.9M169.2 634.6h.9M169.9 627.5h.9M159.7 629.2h.9M155.7 608.1h.9M163.1 623.9h.9M154.0 615.4h.9M156.8 626.3h.9M150.8 647.7h.9M152.6 625.4h.9M164.3 623.7h.9M154.9 589.2h.9M163.5 608.6h.9M158.8 590.5h.9M159.6 606.6h.9M162.0 629.3h.9M138.0 635.7h.9M154.8 612.6h.9M161.6 587.0h.9M172.6 634.6h.9M163.9 629.0h.9M183.0 614.2h.9M171.2 586.7h.9M160.3 630.5h.9M146.8 610.6h.9M156.2 616.3h.9M156.9 585.3h.9M159.8 602.7h.9M162.6 635.4h.9M146.5 598.2h.9M163.7 623.5h.9M156.3 611.5h.9M152.6 614.5h.9M146.7 621.2h.9M160.9 602.6h.9M154.0 615.0h.9M137.6 611.7h.9M159.5 602.9h.9M156.9 617.9h.9M143.1 607.2h.9M164.8 596.9h.9M156.1 636.0h.9M162.4 626.7h.9M147.0 608.4h.9M153.6 619.9h.9M162.2 592.7h.9M165.0 613.0h.9M152.1 615.8h.9M133.7 615.7h.9M160.7 597.5h.9M156.5 611.2h.9M171.8 620.1h.9M149.0 597.3h.9M163.0 642.3h.9M144.7 604.2h.9M161.4 587.9h.9M155.2 607.8h.9M160.7 632.7h.9M157.9 590.9h.9M156.9 639.4h.9M173.4 628.5h.9M169.7 617.6h.9M158.6 618.4h.9M149.8 633.4h.9M150.8 597.3h.9M168.7 610.6h.9M159.0 606.2h.9M151.7 621.3h.9M152.2 604.5h.9M171.5 608.6h.9M159.8 609.2h.9M150.3 616.5h.9M172.9 627.3h.9M162.2 602.9h.9M145.4 610.9h.9M146.7 611.8h.9M161.5 622.7h.9M151.5 634.2h.9M154.4 604.6h.9M175.8 604.0h.9M177.2 611.7h.9M175.7 615.8h.9M163.2 628.2h.9M161.2 613.0h.9M148.0 623.4h.9M147.5 615.0h.9M159.7 637.3h.9M160.2 618.4h.9M167.9 638.6h.9M166.6 630.6h.9M163.3 595.1h.9M164.7 614.9h.9M161.3 606.1h.9M171.3 606.6h.9M148.4 614.3h.9M177.7 600.1h.9M164.5 624.9h.9M146.1 639.5h.9M161.5 641.6h.9M175.3 620.7h.9M153.1 622.3h.9M163.9 604.4h.9M158.2 620.3h.9M172.9 610.0h.9M161.1 613.0h.9M153.0 614.8h.9M163.2 623.2h.9M163.5 612.9h.9M160.0 636.5h.9M153.7 607.9h.9M145.5 626.4h.9M158.5 619.0h.9M143.5 607.8h.9M150.7 630.1h.9M159.6 619.1h.9M169.1 606.5h.9M167.3 628.5h.9M142.2 600.7h.9M168.1 617.7h.9M139.2 594.5h.9M160.9 620.8h.9M159.8 578.7h.9M167.3 598.3h.9M160.5 608.0h.9M168.9 622.4h.9M153.2 600.2h.9M157.8 630.4h.9M167.2 611.6h.9M153.9 608.9h.9M153.7 587.7h.9M159.6 628.0h.9M144.3 604.5h.9M156.7 609.3h.9M149.2 617.9h.9M172.8 631.7h.9M170.8 615.5h.9M165.6 630.9h.9M179.7 617.5h.9M160.9 609.3h.9M155.4 618.9h.9M162.2 644.3h.9M161.9 624.3h.9M156.3 605.1h.9M162.4 626.2h.9M147.5 624.1h.9M149.7 608.7h.9M161.6 623.1h.9M147.3 619.6h.9M169.5 595.8h.9M163.0 628.6h.9M153.2 593.2h.9M169.4 625.7h.9M161.2 603.9h.9M174.6 610.4h.9M157.0 614.5h.9M153.9 608.0h.9M163.1 623.0h.9M149.2 619.8h.9M168.7 643.0h.9M162.5 607.3h.9M128.1 608.1h.9M158.6 619.5h.9M160.7 608.5h.9M147.2 600.5h.9M155.9 609.9h.9M155.6 614.8h.9M139.9 642.0h.9M161.2 589.5h.9M158.2 612.5h.9M152.2 592.3h.9M154.8 645.1h.9M159.1 611.3h.9M169.0 628.2h.9M163.0 587.0h.9M156.2 620.8h.9M155.2 619.5h.9M154.0 623.7h.9M167.8 636.3h.9M162.1 625.1h.9M153.8 640.3h.9M171.5 618.9h.9M166.3 599.2h.9M150.8 622.8h.9M163.8 624.6h.9M160.6 604.5h.9M162.4 619.3h.9M165.6 618.5h.9M155.6 602.8h.9M153.9 599.4h.9M148.4 637.5h.9M161.6 619.6h.9M158.0 621.6h.9M142.4 630.6h.9M159.1 598.4h.9M162.5 608.4h.9M160.4 620.4h.9M156.1 630.3h.9M165.8 621.1h.9M153.5 613.3h.9M144.7 612.7h.9M173.0 616.8h.9M145.2 622.0h.9M161.6 588.0h.9M175.6 641.6h.9M154.4 599.3h.9M170.4 616.6h.9M156.8 621.8h.9M156.4 597.7h.9M142.3 596.8h.9M165.1 613.6h.9M152.9 609.1h.9M166.1 619.0h.9M150.6 610.7h.9M160.1 622.1h.9M160.4 619.8h.9M171.6 604.9h.9M166.8 612.0h.9M148.0 616.5h.9M167.8 600.7h.9M157.8 592.2h.9M152.4 606.7h.9M154.6 606.2h.9M168.0 596.2h.9M143.8 596.5h.9M154.3 638.1h.9M148.5 620.0h.9M159.0 614.8h.9M156.2 635.9h.9M147.8 635.2h.9M156.5 610.8h.9M156.8 645.5h.9M155.4 598.9h.9M159.6 585.2h.9M169.6 602.8h.9M158.5 624.5h.9M159.1 619.8h.9M164.5 648.8h.9M156.4 640.7h.9M156.5 615.9h.9M152.9 601.5h.9M152.3 596.4h.9M151.7 625.6h.9M160.0 601.8h.9M136.2 612.6h.9M153.9 609.4h.9M160.0 622.6h.9M167.9 648.3h.9M172.0 620.2h.9M143.8 639.1h.9M151.9 609.3h.9M157.1 595.2h.9M141.8 626.2h.9M151.5 570.3h.9M159.4 622.9h.9M155.7 604.0h.9M140.8 604.3h.9M164.9 598.2h.9M149.6 612.0h.9M158.3 600.1h.9M142.3 596.4h.9M157.4 613.5h.9M166.2 629.8h.9M166.9 620.0h.9M166.4 620.9h.9M162.9 595.0h.9M149.8 617.8h.9M145.0 608.2h.9M171.3 620.4h.9M146.3 609.2h.9M149.5 596.3h.9M165.0 616.5h.9M159.0 591.1h.9M170.4 625.8h.9M154.0 637.6h.9M168.2 629.2h.9M185.2 592.7h.9M152.5 601.0h.9M157.8 616.4h.9M153.1 606.6h.9M156.7 610.7h.9M154.0 617.2h.9M165.2 597.2h.9M167.0 619.3h.9M160.6 621.4h.9M166.1 625.2h.9M149.2 594.8h.9M162.5 618.1h.9M153.0 613.5h.9M168.6 626.0h.9M161.9 588.9h.9M140.5 595.5h.9M158.4 599.8h.9M146.3 620.0h.9M155.6 598.0h.9M168.0 587.7h.9M177.6 601.7h.9M162.8 622.2h.9M163.1 641.5h.9M163.5 633.3h.9M156.5 622.6h.9M140.9 589.3h.9M166.5 618.1h.9M160.7 613.7h.9M158.7 622.4h.9M161.6 611.3h.9M163.0 619.8h.9M159.8 597.1h.9M168.2 611.2h.9M158.3 604.5h.9M169.3 633.6h.9M155.6 581.2h.9M155.1 589.9h.9M148.7 615.0h.9M151.0 605.3h.9M135.3 635.5h.9M146.9 616.2h.9M156.1 612.4h.9M167.2 603.6h.9M150.4 615.8h.9M155.3 622.7h.9M156.9 608.9h.9M158.1 612.7h.9M140.3 613.6h.9M153.5 571.9h.9M178.3 584.0h.9M167.5 623.7h.9M152.4 621.9h.9M160.4 617.3h.9M167.7 616.3h.9M156.6 619.9h.9M164.2 603.8h.9M160.0 604.8h.9M151.0 619.1h.9M159.2 597.3h.9M147.7 612.0h.9M158.0 619.6h.9M161.6 602.2h.9M153.5 632.4h.9M163.0 621.8h.9M160.8 615.3h.9M159.0 603.3h.9M154.2 629.4h.9M151.0 603.6h.9M160.0 637.3h.9M159.9 640.0h.9M167.7 611.9h.9M141.8 627.4h.9M161.2 648.8h.9M155.8 623.6h.9M154.4 614.5h.9M147.0 627.1h.9M179.4 616.3h.9M165.0 622.8h.9M159.0 598.9h.9M163.1 609.6h.9M143.7 618.5h.9M157.5 616.9h.9M160.6 613.6h.9M158.3 602.7h.9M145.9 601.6h.9M155.3 620.3h.9M174.2 616.7h.9M167.7 623.7h.9M162.4 611.1h.9M164.3 609.2h.9M183.1 606.9h.9M163.6 627.7h.9M153.4 607.9h.9M143.1 600.6h.9M159.7 630.6h.9M158.5 604.9h.9M140.8 621.7h.9M154.3 631.5h.9M157.7 633.9h.9M155.1 588.2h.9M137.6 603.6h.9M147.1 616.9h.9M146.7 611.0h.9M169.7 607.5h.9M156.3 637.1h.9M148.0 601.0h.9M164.1 591.7h.9M141.6 603.3h.9M153.8 597.8h.9M162.9 610.3h.9M149.0 603.2h.9M148.6 601.7h.9M142.0 586.5h.9M150.1 642.1h.9M165.1 610.6h.9M161.2 597.8h.9M167.1 604.9h.9M152.2 597.4h.9M181.3 626.0h.9M141.9 600.7h.9M148.5 594.6h.9M136.8 617.4h.9M161.9 611.4h.9M160.0 644.6h.9M177.7 593.9h.9M153.2 578.2h.9M153.7 618.8h.9M126.0 601.9h.9M135.9 626.4h.9M157.9 607.8h.9M150.6 625.1h.9M162.6 599.1h.9M147.9 621.6h.9M160.4 593.6h.9M159.2 578.2h.9M141.6 594.3h.9M163.4 600.5h.9M168.2 633.4h.9M158.5 609.4h.9M164.9 622.2h.9M163.6 622.3h.9M155.3 582.8h.9M164.1 625.3h.9M175.0 609.2h.9M147.7 618.3h.9M161.4 618.3h.9M153.9 606.1h.9M157.5 621.6h.9M154.2 596.0h.9M154.2 591.9h.9M158.9 627.1h.9M152.6 602.3h.9M160.8 611.9h.9M138.2 616.3h.9M165.8 628.3h.9M152.2 601.3h.9M151.6 602.0h.9M168.1 631.2h.9M165.2 607.9h.9M164.0 621.3h.9M163.7 618.3h.9M160.2 611.4h.9M148.8 615.7h.9M163.6 615.0h.9M161.9 608.5h.9M163.9 640.8h.9M156.3 626.9h.9M156.1 605.0h.9M151.2 605.8h.9M171.1 597.7h.9M151.2 611.4h.9M163.1 601.3h.9M153.7 613.2h.9M147.3 600.6h.9M155.7 595.1h.9M144.6 599.3h.9M155.0 614.3h.9M157.6 620.4h.9M149.8 615.8h.9M154.6 611.4h.9M159.1 622.8h.9M157.8 617.8h.9M147.0 642.7h.9M159.1 617.6h.9M151.1 611.9h.9M149.5 618.9h.9M155.6 613.3h.9M154.1 616.2h.9M165.4 609.4h.9M159.5 594.0h.9M153.4 631.5h.9M177.7 593.8h.9M169.5 601.6h.9M138.2 621.0h.9M144.0 629.1h.9M148.1 612.9h.9M168.8 607.1h.9M147.2 609.7h.9M157.3 613.0h.9M155.2 608.3h.9M169.0 600.6h.9M154.2 610.9h.9M162.2 604.9h.9M156.4 615.4h.9M170.5 614.0h.9M162.9 604.2h.9M165.2 634.4h.9M155.4 596.4h.9M157.0 598.4h.9M167.9 634.8h.9M176.1 619.7h.9M157.3 614.8h.9M163.0 602.1h.9M149.0 587.2h.9M172.8 606.5h.9M148.0 569.6h.9M162.6 632.4h.9M162.7 615.8h.9M151.3 591.4h.9M147.6 597.5h.9M157.3 624.7h.9M167.7 607.6h.9M145.4 629.5h.9M154.5 618.0h.9M133.1 610.6h.9M156.6 633.6h.9M147.2 622.6h.9M153.1 618.1h.9M158.0 601.1h.9M151.5 648.2h.9M165.3 615.3h.9M169.0 606.8h.9M169.6 617.5h.9M157.3 616.5h.9M153.8 619.4h.9M165.3 633.8h.9M167.9 619.1h.9M153.4 623.7h.9M157.9 617.6h.9M156.0 616.8h.9M165.5 629.9h.9M153.4 585.1h.9M136.5 568.6h.9M163.8 614.7h.9M167.0 596.3h.9M160.3 590.9h.9M166.3 623.2h.9M157.8 605.6h.9M146.5 609.6h.9M161.8 616.5h.9M153.9 600.2h.9M146.5 619.9h.9M168.6 609.8h.9M157.7 603.5h.9M131.4 601.8h.9M163.6 631.4h.9M158.8 611.4h.9M153.5 619.3h.9M154.1 603.0h.9M163.0 608.0h.9M164.4 597.8h.9M164.8 619.6h.9M169.2 614.7h.9M152.3 607.0h.9M173.6 637.4h.9M183.9 612.8h.9M159.8 623.0h.9M163.0 632.2h.9M163.5 607.2h.9M170.6 628.9h.9M146.4 617.1h.9M169.0 624.9h.9M153.5 641.4h.9M159.1 601.4h.9M162.7 596.8h.9M164.7 630.2h.9M156.9 589.8h.9M163.0 602.7h.9M169.6 614.3h.9M161.2 618.3h.9M170.9 615.7h.9M156.4 604.2h.9M140.0 605.3h.9M157.4 618.5h.9M158.0 590.9h.9M158.0 615.4h.9M143.5 566.3h.9M145.6 609.9h.9M154.0 618.3h.9M158.3 597.4h.9M156.0 603.0h.9M169.6 625.3h.9M163.1 633.7h.9M160.7 594.9h.9M155.9 616.5h.9M143.8 616.9h.9M161.7 596.2h.9M155.5 614.3h.9M161.7 623.0h.9M175.9 630.9h.9M158.3 624.4h.9M177.5 639.5h.9M152.9 644.6h.9M152.8 597.6h.9M148.8 615.2h.9M159.6 590.7h.9M138.7 600.9h.9M160.6 600.5h.9M162.4 620.1h.9M165.4 649.7h.9M161.6 592.6h.9M165.6 621.9h.9M164.9 607.1h.9M158.9 626.5h.9M161.1 623.8h.9M153.6 599.3h.9M156.5 600.7h.9M172.2 588.9h.9M147.4 594.9h.9M169.0 621.7h.9M165.9 629.0h.9M143.8 617.2h.9M143.0 598.8h.9M153.0 616.6h.9M161.8 591.4h.9M154.6 596.9h.9M165.1 623.3h.9M156.5 620.3h.9M145.5 610.4h.9M163.0 614.7h.9M165.7 602.5h.9M155.8 633.5h.9M156.0 629.4h.9M145.2 597.1h.9M165.9 629.5h.9M174.0 577.7h.9M159.1 625.2h.9M145.1 629.5h.9M145.4 608.6h.9M157.6 617.6h.9M146.0 595.6h.9M152.9 605.8h.9M147.0 636.2h.9M159.4 629.2h.9M147.0 624.0h.9M167.1 608.8h.9M172.7 605.1h.9M172.4 623.3h.9M143.7 597.3h.9M170.1 607.0h.9M162.2 616.7h.9M164.2 645.1h.9M163.2 595.3h.9M165.2 618.9h.9M162.8 602.0h.9M160.5 624.8h.9M157.9 624.7h.9M152.6 599.3h.9M168.7 640.8h.9M157.5 595.9h.9M155.1 595.5h.9M166.7 607.7h.9M163.0 630.2h.9M157.4 614.9h.9M158.3 626.9h.9M140.6 624.1h.9M147.7 593.2h.9M154.8 593.6h.9M160.9 622.4h.9M161.9 611.8h.9M146.7 619.6h.9M153.7 625.6h.9M160.3 625.1h.9M166.4 625.2h.9M151.2 616.5h.9M150.1 611.7h.9M146.0 638.5h.9M157.5 621.0h.9M161.0 629.0h.9M167.5 639.1h.9M155.9 619.8h.9M167.0 621.2h.9M158.9 607.6h.9M160.4 593.7h.9M146.6 609.8h.9M174.4 619.0h.9M156.4 597.7h.9M169.6 634.3h.9M164.6 626.3h.9M155.4 625.5h.9M152.6 607.7h.9M165.3 636.3h.9M152.8 646.8h.9M150.8 596.0h.9M150.7 638.9h.9M150.5 618.8h.9M151.8 624.1h.9M171.8 594.3h.9M158.9 625.6h.9M168.7 614.0h.9M162.3 612.0h.9M157.0 609.0h.9M154.8 609.5h.9M148.3 607.9h.9M161.0 614.5h.9M158.5 628.4h.9M158.4 606.4h.9M157.1 646.2h.9M163.2 604.8h.9M153.1 613.4h.9M146.3 615.8h.9M152.3 608.6h.9M141.5 603.8h.9M160.2 571.7h.9M172.9 635.2h.9M153.8 597.5h.9M167.2 599.8h.9M176.8 589.8h.9M155.9 611.9h.9M163.1 599.2h.9M164.9 609.6h.9M173.3 632.7h.9M162.0 633.2h.9M151.7 625.4h.9M153.0 615.5h.9M149.3 620.1h.9M156.5 610.6h.9M164.4 619.4h.9M163.9 612.5h.9M153.4 593.5h.9M163.6 638.0h.9M142.3 600.7h.9M157.6 596.8h.9M170.5 613.2h.9M157.3 633.8h.9M154.4 614.3h.9M170.0 603.8h.9M171.0 610.9h.9M159.0 638.5h.9M139.1 591.0h.9M165.1 599.0h.9M175.9 591.1h.9M150.3 616.0h.9M180.3 610.5h.9M150.3 617.4h.9M168.8 621.9h.9M167.8 609.6h.9M166.3 626.2h.9M151.5 611.6h.9M166.3 613.0h.9M145.4 623.8h.9M158.6 618.6h.9M158.4 586.9h.9M159.3 576.3h.9M148.0 629.2h.9M151.7 603.5h.9M141.8 601.0h.9M175.5 622.4h.9M161.0 631.0h.9M152.4 608.0h.9M161.3 625.4h.9M158.5 594.5h.9M173.7 591.8h.9M153.3 579.8h.9M169.6 621.5h.9M145.1 603.7h.9M157.6 612.0h.9M163.3 630.8h.9M156.5 590.1h.9M168.0 650.1h.9M160.3 614.3h.9M153.2 581.8h.9M154.1 628.9h.9M171.2 644.2h.9M158.6 611.7h.9M155.6 602.5h.9M143.7 627.3h.9M145.2 624.5h.9M149.7 579.2h.9M164.4 612.3h.9M169.5 617.9h.9M152.3 590.1h.9M178.0 611.5h.9M160.6 599.1h.9M160.1 611.9h.9M160.9 627.8h.9M151.0 633.1h.9M168.1 612.1h.9M160.3 612.5h.9M165.0 601.9h.9M143.5 606.7h.9M145.9 634.9h.9M166.3 613.2h.9M172.3 595.8h.9M156.7 603.6h.9M156.4 610.0h.9M158.2 620.0h.9M154.2 597.7h.9M148.2 626.1h.9M148.4 618.1h.9M171.3 609.0h.9M153.4 617.9h.9M166.0 636.3h.9M144.4 596.6h.9M164.2 610.6h.9M170.6 623.4h.9M156.0 614.3h.9M168.7 599.3h.9M161.8 607.6h.9M181.9 634.6h.9M156.9 615.5h.9M156.9 606.2h.9M149.1 604.1h.9M158.0 602.5h.9M165.9 600.2h.9M151.9 632.2h.9M171.7 611.4h.9M153.8 627.2h.9M161.2 611.7h.9M171.8 623.3h.9M153.6 615.8h.9M160.6 626.2h.9M156.7 637.3h.9M151.8 614.3h.9M164.3 594.3h.9M138.7 619.1h.9M149.2 638.5h.9M157.8 622.4h.9M161.7 612.0h.9M150.9 614.8h.9M146.5 586.5h.9M174.1 603.7h.9M164.5 622.3h.9M164.5 635.9h.9M160.2 639.3h.9M169.7 612.9h.9M162.0 606.1h.9M146.6 598.8h.9M159.0 600.0h.9M168.4 605.8h.9M143.5 592.4h.9M153.3 629.7h.9M159.5 586.5h.9M159.0 634.6h.9M153.1 627.0h.9M160.8 605.6h.9M162.3 618.1h.9M176.3 610.8h.9M151.3 633.6h.9M158.5 625.9h.9M148.7 623.8h.9M169.3 601.0h.9M162.5 628.0h.9M164.4 606.4h.9M163.3 626.4h.9M175.8 639.6h.9M155.7 609.1h.9M161.3 599.7h.9M163.9 611.0h.9M148.6 636.6h.9M144.0 594.5h.9M166.6 614.4h.9M159.9 610.7h.9M166.3 634.7h.9M158.5 600.7h.9M156.8 605.8h.9M156.7 602.8h.9M160.8 616.5h.9M155.5 599.0h.9M155.0 603.8h.9M170.8 597.1h.9M168.8 620.7h.9M158.7 612.2h.9M174.2 619.9h.9M154.2 587.1h.9M167.6 628.8h.9M169.2 616.1h.9M156.6 635.3h.9M174.7 639.9h.9M148.5 602.3h.9M158.6 614.6h.9M153.8 604.3h.9M172.5 615.5h.9M162.3 620.2h.9M152.0 610.4h.9M157.7 608.4h.9M152.2 634.8h.9M169.2 591.5h.9M151.7 612.6h.9M151.7 600.0h.9M162.6 603.9h.9M154.5 608.4h.9M161.2 616.6h.9M160.1 596.6h.9M154.2 628.1h.9M144.9 606.1h.9M139.0 605.4h.9M159.9 597.7h.9M155.7 615.5h.9M163.7 594.1h.9M160.4 604.1h.9M158.0 624.1h.9M155.4 627.0h.9M166.7 596.7h.9M129.3 584.4h.9M142.7 644.3h.9M162.8 617.6h.9M157.3 611.9h.9M151.0 603.1h.9M153.7 608.5h.9M165.9 605.1h.9M162.4 607.3h.9M159.8 591.1h.9M142.3 610.5h.9M167.6 610.1h.9M151.9 603.2h.9M163.9 602.9h.9M163.1 601.2h.9M142.8 619.2h.9M145.7 606.9h.9M144.2 594.9h.9M149.0 615.1h.9M164.4 613.4h.9M169.2 609.7h.9M160.8 630.3h.9M156.6 628.2h.9M151.6 619.0h.9M172.5 631.1h.9M158.3 639.1h.9M150.6 608.2h.9M158.6 616.0h.9M163.7 600.5h.9M154.4 610.0h.9M154.1 597.7h.9M144.1 614.6h.9M163.2 600.7h.9M151.5 613.4h.9M164.2 605.8h.9M159.5 598.1h.9M160.2 619.1h.9M152.2 585.0h.9M162.5 635.4h.9M147.6 613.7h.9M159.8 598.3h.9M172.7 609.1h.9M179.3 607.0h.9M148.4 606.9h.9M163.1 627.9h.9M158.9 618.2h.9M155.2 598.6h.9M165.9 593.5h.9M146.3 611.9h.9M163.9 624.6h.9M150.1 588.1h.9M171.1 622.5h.9M161.3 616.8h.9M181.7 621.8h.9M170.1 644.2h.9M160.4 618.7h.9M146.2 630.1h.9M135.8 611.1h.9M160.5 635.3h.9M155.6 606.6h.9M167.7 615.1h.9M150.4 615.0h.9M159.3 620.0h.9M152.1 612.6h.9M162.2 590.4h.9M161.9 621.9h.9M144.9 618.4h.9M158.6 636.4h.9M168.6 607.1h.9M162.2 623.0h.9M170.3 638.7h.9M150.9 616.4h.9M142.4 597.1h.9M151.1 594.9h.9M147.4 602.8h.9M174.0 620.3h.9M159.8 596.7h.9M166.9 624.2h.9M173.0 598.9h.9M160.7 620.7h.9M139.0 621.7h.9M137.2 599.0h.9M165.2 635.7h.9M166.3 609.0h.9M148.2 577.5h.9M162.9 612.9h.9M163.8 620.2h.9M159.6 606.5h.9M146.3 620.5h.9M169.5 635.6h.9M149.0 616.4h.9M163.1 621.3h.9M144.9 626.4h.9M150.1 612.8h.9M166.1 626.4h.9M148.8 609.7h.9M143.6 595.4h.9M157.2 617.6h.9M156.6 603.6h.9M147.6 610.1h.9M161.6 613.3h.9M163.7 618.0h.9M160.4 583.1h.9M174.1 615.2h.9M152.9 597.0h.9M170.5 600.9h.9M157.1 629.8h.9M145.3 594.5h.9M145.8 630.5h.9M143.3 600.4h.9M139.6 623.6h.9M161.2 622.8h.9M142.1 603.6h.9M154.7 626.6h.9M158.8 572.2h.9M155.6 615.8h.9M166.1 612.0h.9M146.7 622.0h.9M149.2 604.7h.9M167.8 619.7h.9M167.5 610.8h.9M157.0 622.3h.9M148.2 623.6h.9M150.6 592.9h.9M164.7 641.1h.9M174.3 614.9h.9M151.5 643.4h.9M156.0 604.9h.9M148.6 612.7h.9M167.7 635.5h.9M158.4 609.0h.9M161.8 628.8h.9M151.5 608.9h.9M169.1 617.0h.9M162.7 612.7h.9M167.0 618.1h.9M155.1 641.8h.9M151.9 603.2h.9M161.2 618.2h.9M160.4 609.3h.9M169.3 616.1h.9M169.0 615.4h.9M145.9 613.4h.9M140.3 618.6h.9M169.3 647.1h.9M154.0 592.2h.9M153.7 610.2h.9M164.4 621.6h.9M159.1 632.6h.9M158.3 594.9h.9M162.2 645.8h.9M154.9 623.1h.9M156.8 643.8h.9M153.8 625.9h.9M160.8 615.4h.9M152.8 604.2h.9M171.8 620.3h.9M162.1 618.4h.9M157.3 592.8h.9M167.3 616.7h.9M161.2 609.7h.9M166.0 620.9h.9M163.7 597.9h.9M146.0 598.7h.9M169.2 608.4h.9M167.6 619.3h.9M154.9 602.8h.9M182.0 589.6h.9M146.4 592.3h.9M168.2 628.0h.9M155.7 622.9h.9M157.8 610.2h.9M166.8 622.8h.9M168.2 602.7h.9M166.2 608.1h.9M145.6 606.4h.9M168.6 631.9h.9M152.4 613.5h.9M157.0 598.3h.9M160.2 610.3h.9M145.6 602.8h.9M169.1 628.9h.9M156.6 621.1h.9M148.1 617.7h.9M152.6 603.4h.9M146.6 624.0h.9M147.6 620.3h.9M161.9 590.9h.9M163.2 612.4h.9M170.7 619.9h.9M180.2 619.1h.9M166.6 617.5h.9M135.9 615.0h.9M165.2 627.4h.9M161.3 626.3h.9M164.9 616.3h.9M167.1 600.6h.9M160.5 581.8h.9M167.6 599.6h.9M165.6 609.8h.9M179.0 621.9h.9M152.7 641.1h.9M149.5 622.6h.9M156.9 594.4h.9M182.6 625.1h.9M139.7 600.9h.9M156.7 599.5h.9M148.0 605.8h.9M157.8 626.3h.9M162.5 610.7h.9M149.8 622.0h.9M170.3 613.8h.9M177.9 609.0h.9M154.4 613.4h.9M167.0 639.6h.9M150.1 611.4h.9M148.6 627.7h.9M165.9 634.4h.9M165.9 635.7h.9M148.3 615.4h.9M164.6 627.7h.9M172.1 621.0h.9M153.3 594.3h.9M143.9 602.9h.9M161.5 607.9h.9M168.6 641.2h.9M158.6 598.3h.9M164.3 600.1h.9M153.6 621.2h.9M161.1 622.0h.9M156.2 612.9h.9M160.5 597.4h.9M165.4 569.8h.9M158.2 635.7h.9M157.4 607.3h.9M144.1 616.4h.9M140.8 601.9h.9M153.2 597.6h.9M158.3 605.4h.9M154.8 630.9h.9M158.6 624.3h.9M155.5 647.7h.9M154.2 600.5h.9M152.6 606.7h.9M157.4 612.7h.9M165.1 628.0h.9M155.7 632.1h.9M142.9 597.0h.9M150.3 611.3h.9M150.0 600.8h.9M159.4 600.6h.9M167.7 626.5h.9M132.4 608.8h.9M151.2 618.7h.9M151.7 628.5h.9M179.1 627.5h.9M151.6 641.4h.9M163.3 629.6h.9M172.7 617.9h.9M153.8 605.5h.9M156.8 616.2h.9M157.8 625.6h.9M160.3 617.7h.9M150.7 597.9h.9M159.5 608.8h.9M153.2 599.7h.9M151.5 641.2h.9M172.3 629.4h.9M144.2 594.3h.9M167.4 612.8h.9M156.5 624.0h.9M157.7 618.9h.9M152.2 608.9h.9M159.6 576.9h.9M163.9 633.8h.9M148.2 599.5h.9M163.6 630.6h.9M138.4 624.9h.9M150.1 606.4h.9M145.6 608.6h.9M155.4 615.2h.9M164.0 610.3h.9M151.1 611.0h.9M160.7 610.4h.9M156.5 638.6h.9M170.1 628.7h.9M140.8 594.5h.9M141.5 594.4h.9M155.3 618.8h.9M139.4 621.2h.9M159.1 611.3h.9M159.5 580.8h.9M149.1 634.3h.9M150.1 592.3h.9M160.2 614.4h.9M161.6 605.3h.9M155.5 603.4h.9M163.4 597.5h.9M151.5 598.7h.9M160.1 625.1h.9M168.3 642.2h.9M167.4 616.4h.9M148.6 617.1h.9M150.1 620.9h.9M150.2 624.2h.9M159.8 606.6h.9M162.0 627.2h.9M146.3 608.7h.9M146.4 605.6h.9M159.5 570.2h.9M135.5 609.0h.9M166.6 592.8h.9M157.3 619.1h.9M149.8 616.9h.9M167.0 596.8h.9M157.5 613.0h.9M151.5 607.4h.9M178.8 609.4h.9M157.6 621.3h.9M158.7 618.6h.9M161.0 605.4h.9M156.9 588.5h.9M163.2 623.2h.9M153.4 593.2h.9M166.2 605.6h.9M159.8 612.7h.9M159.3 622.8h.9M167.5 620.8h.9M147.1 605.7h.9M158.0 620.5h.9M164.3 617.2h.9M167.2 640.3h.9M155.9 615.7h.9M152.3 609.3h.9M166.4 594.8h.9M141.2 607.4h.9M168.3 599.1h.9M141.4 583.6h.9M148.4 599.5h.9M167.0 628.2h.9M157.6 627.4h.9M149.6 610.7h.9M169.7 599.9h.9M161.1 605.8h.9M152.7 590.3h.9M163.7 621.4h.9M161.7 623.4h.9M156.1 605.2h.9M165.3 609.8h.9M162.8 610.8h.9M145.1 598.9h.9M160.3 618.1h.9M161.1 596.6h.9M162.8 604.5h.9M149.8 626.6h.9M167.5 605.0h.9M144.1 617.2h.9M153.7 626.7h.9M155.3 622.0h.9M158.8 626.3h.9M156.4 616.7h.9M160.0 627.8h.9M163.2 613.5h.9M176.8 598.4h.9M154.7 610.6h.9M164.5 609.7h.9M156.1 589.8h.9M157.9 618.8h.9M151.0 623.3h.9M154.0 592.8h.9M170.7 600.2h.9M157.7 607.5h.9M161.2 605.3h.9M146.9 628.8h.9M163.3 606.3h.9M163.2 618.1h.9M161.9 596.6h.9M168.7 609.3h.9M158.7 620.2h.9M152.9 600.6h.9M163.0 577.6h.9M162.6 619.4h.9M175.0 621.9h.9M154.8 623.6h.9M159.8 629.6h.9M171.3 602.0h.9M157.7 597.4h.9M180.0 586.8h.9M179.4 622.7h.9M159.7 611.3h.9M165.4 608.6h.9M167.8 638.6h.9M153.1 610.6h.9M151.0 610.8h.9M170.3 607.6h.9M167.8 621.9h.9M155.2 604.0h.9M152.9 623.6h.9M147.6 633.4h.9M145.1 603.5h.9M167.0 631.1h.9M162.2 585.3h.9M157.4 612.1h.9M145.4 610.4h.9M150.7 611.1h.9M160.2 625.7h.9M146.8 646.6h.9M159.2 636.8h.9M153.1 624.6h.9M134.8 609.3h.9M163.3 603.9h.9M151.4 613.2h.9M138.5 604.9h.9M155.7 601.2h.9M144.3 614.9h.9M166.2 633.0h.9M154.2 596.0h.9M156.8 632.9h.9M167.9 620.5h.9M141.7 646.3h.9M159.3 604.7h.9M167.1 630.3h.9M163.1 596.3h.9M148.7 600.2h.9M161.8 615.0h.9M174.3 618.3h.9M149.6 622.3h.9M153.0 595.2h.9M164.3 610.1h.9M158.2 608.4h.9M156.3 611.6h.9M174.5 626.9h.9M151.9 635.0h.9M166.7 592.8h.9M146.4 616.3h.9M131.1 606.3h.9M157.8 615.7h.9M165.3 623.8h.9M154.1 620.0h.9M174.1 590.4h.9M158.7 627.6h.9M164.1 616.9h.9M161.2 602.7h.9M148.5 622.0h.9M170.1 615.4h.9M171.8 582.6h.9M171.4 619.5h.9M170.0 637.3h.9M170.9 615.4h.9M167.1 602.1h.9M170.6 628.8h.9M161.6 604.9h.9M151.8 625.6h.9M163.3 631.8h.9M167.6 615.8h.9M151.5 592.1h.9M158.2 626.2h.9M169.3 621.2h.9M155.1 606.0h.9M183.1 630.7h.9M164.5 615.7h.9M171.1 584.6h.9M167.3 621.9h.9M169.5 606.9h.9M160.8 603.8h.9M152.2 634.1h.9M146.3 604.2h.9M144.4 609.3h.9M150.9 599.5h.9M140.8 601.9h.9M155.7 614.4h.9M149.2 615.0h.9M152.3 629.6h.9M150.7 627.2h.9M165.8 600.2h.9M152.3 608.9h.9M151.0 611.2h.9M173.8 611.1h.9M155.4 607.0h.9M172.1 632.4h.9M154.5 618.0h.9M156.7 621.8h.9M160.8 619.9h.9M145.3 606.8h.9M173.0 596.0h.9M174.9 609.8h.9M154.4 609.6h.9M169.1 621.6h.9M160.9 604.0h.9M154.1 606.7h.9M174.0 608.1h.9M148.8 602.0h.9M158.1 633.5h.9M167.8 631.7h.9M156.4 633.8h.9M162.9 633.6h.9M146.3 595.1h.9M156.6 633.1h.9M159.5 609.0h.9M146.5 620.1h.9M150.6 605.6h.9M152.4 608.1h.9M155.9 591.0h.9M160.4 578.3h.9M155.3 605.0h.9M142.9 606.8h.9M158.9 616.5h.9M170.8 614.4h.9M158.6 622.4h.9M154.8 618.6h.9M158.3 613.1h.9M164.2 607.9h.9M145.5 608.0h.9M173.5 637.2h.9M155.7 603.4h.9M176.6 610.0h.9M152.0 621.1h.9M149.1 609.8h.9M160.4 617.0h.9M167.9 628.4h.9M163.2 610.3h.9M160.5 594.3h.9M161.5 623.9h.9M160.6 579.9h.9M169.0 627.4h.9M158.1 606.6h.9M165.1 605.9h.9M153.4 611.7h.9M157.1 594.4h.9M151.5 589.3h.9M156.0 583.7h.9M153.8 607.4h.9M144.5 600.6h.9M168.0 581.9h.9M162.3 620.9h.9M164.0 605.2h.9M180.4 629.8h.9M139.4 614.4h.9M162.6 618.3h.9M160.0 623.4h.9M169.2 608.2h.9M153.2 620.5h.9M154.1 618.8h.9M148.5 608.1h.9M165.3 638.9h.9M176.5 636.3h.9M151.6 624.1h.9M160.2 614.2h.9M161.1 610.5h.9M152.5 617.1h.9M140.2 613.2h.9M167.2 631.7h.9M142.8 616.0h.9M168.9 617.3h.9M146.2 613.4h.9M167.7 614.3h.9M170.9 635.7h.9M153.8 613.8h.9M147.6 610.5h.9M157.0 631.6h.9M158.3 605.8h.9M147.3 592.1h.9M155.7 626.5h.9M166.9 630.4h.9M164.2 627.4h.9M169.6 605.9h.9M144.4 610.2h.9M150.2 589.9h.9M157.4 612.4h.9M157.0 616.7h.9M166.5 608.7h.9M146.4 621.5h.9M173.2 625.3h.9M168.8 614.6h.9M165.4 629.8h.9M155.4 612.0h.9M143.6 615.9h.9M145.1 631.8h.9M167.1 642.6h.9M156.7 592.0h.9M175.5 611.4h.9M161.1 597.3h.9M145.5 613.2h.9M169.5 616.6h.9M156.1 616.8h.9M159.2 593.7h.9M164.8 617.8h.9M144.8 599.1h.9M147.2 595.4h.9M171.8 614.3h.9M144.8 607.1h.9M147.1 619.4h.9M145.8 601.4h.9M146.3 626.9h.9M154.0 604.2h.9M153.2 597.9h.9M147.8 593.8h.9M152.5 609.0h.9M161.1 640.2h.9M137.7 610.7h.9M153.9 597.8h.9M156.0 596.1h.9M141.2 609.0h.9M169.1 595.4h.9M159.5 651.9h.9M156.3 610.0h.9M163.0 602.9h.9M160.9 620.1h.9M155.3 597.8h.9M155.3 601.5h.9M146.5 602.3h.9M161.6 604.8h.9M159.6 614.0h.9M148.0 608.8h.9M163.7 608.2h.9M172.1 633.0h.9M145.8 578.9h.9M175.0 629.5h.9M169.5 598.9h.9M167.8 631.2h.9M156.7 616.4h.9M174.4 593.2h.9M155.6 595.3h.9M164.0 609.8h.9M153.1 592.0h.9M146.1 601.0h.9M164.2 635.7h.9M171.3 607.3h.9M145.8 614.8h.9M157.8 608.6h.9M151.9 613.1h.9M149.1 613.6h.9M154.5 627.8h.9M167.8 638.4h.9M172.0 627.1h.9M162.7 583.4h.9M159.4 602.2h.9M165.1 634.9h.9M149.8 620.3h.9M160.2 620.2h.9M153.5 624.8h.9M160.7 604.8h.9M142.2 598.1h.9M163.0 603.4h.9M155.8 613.7h.9M160.3 619.2h.9M160.6 629.2h.9M171.6 623.9h.9M155.5 609.2h.9M143.5 623.8h.9M168.3 604.4h.9M166.5 620.7h.9M153.3 610.6h.9M168.4 614.8h.9M168.5 608.8h.9M147.2 615.1h.9M149.7 596.9h.9M146.7 605.0h.9M173.5 619.8h.9M141.2 621.8h.9M149.0 598.2h.9M161.8 629.3h.9M169.2 629.1h.9M169.0 625.3h.9M162.0 624.6h.9M164.6 628.6h.9M168.8 612.7h.9M162.8 591.2h.9M156.4 600.1h.9M160.7 628.1h.9M164.1 610.0h.9M164.5 634.8h.9M160.5 627.8h.9M150.5 606.8h.9M159.3 632.4h.9M164.6 580.4h.9M148.2 626.0h.9M151.5 620.5h.9M162.6 611.6h.9M164.8 604.5h.9M156.4 601.2h.9M156.3 600.3h.9M159.3 616.7h.9M154.4 609.6h.9M154.0 601.2h.9M141.5 600.9h.9M156.3 624.2h.9M174.0 616.6h.9M152.0 605.7h.9M153.0 630.1h.9M163.0 622.0h.9M165.6 607.0h.9M179.7 629.2h.9M154.2 604.1h.9M163.2 613.1h.9M148.6 623.0h.9M150.5 623.1h.9M152.0 604.7h.9M157.7 634.5h.9M163.1 625.3h.9M161.0 624.3h.9M150.5 615.5h.9M158.6 609.9h.9M147.7 609.4h.9M152.9 636.3h.9M147.4 619.2h.9M156.0 606.4h.9M161.7 612.5h.9M178.7 600.3h.9M151.7 607.3h.9M163.7 583.3h.9M160.9 589.3h.9M155.6 601.2h.9M152.3 643.4h.9M147.8 610.4h.9M159.8 620.6h.9M152.1 605.6h.9M157.9 642.4h.9M167.0 624.7h.9M143.7 604.0h.9M172.1 610.1h.9M151.8 612.8h.9M164.1 600.0h.9M162.1 610.9h.9M156.9 620.1h.9M162.8 592.7h.9M170.9 633.2h.9M159.0 631.5h.9M168.6 617.4h.9M176.7 626.1h.9M159.6 617.7h.9M150.7 605.0h.9M154.8 625.6h.9M162.0 618.1h.9M167.6 610.6h.9M140.7 592.0h.9M156.8 606.2h.9M152.8 628.5h.9M174.6 626.1h.9M149.6 606.3h.9M164.0 634.1h.9M159.2 610.6h.9M166.9 614.4h.9M174.8 614.7h.9M155.9 592.9h.9M146.2 617.2h.9M171.3 628.8h.9M152.0 610.2h.9M159.9 648.9h.9M165.0 596.7h.9M144.3 615.0h.9M153.0 609.1h.9M160.6 622.7h.9M152.5 615.0h.9M175.6 623.4h.9M146.0 601.1h.9M166.3 620.8h.9M152.9 623.5h.9M159.2 611.9h.9M151.6 588.5h.9M163.0 590.6h.9M169.0 599.7h.9M163.4 614.0h.9M157.5 592.6h.9M137.1 608.2h.9M160.5 613.8h.9M139.6 594.4h.9M167.7 624.2h.9M148.1 595.3h.9M140.9 614.6h.9M143.3 637.2h.9M158.4 591.8h.9M150.3 609.9h.9M158.9 631.4h.9M146.2 611.5h.9M165.3 601.4h.9M172.5 612.7h.9M158.9 591.8h.9M148.6 606.3h.9M145.7 612.7h.9M150.5 602.9h.9M168.3 611.3h.9M151.9 585.4h.9M143.2 628.7h.9M182.8 608.9h.9M173.2 616.9h.9M172.1 612.3h.9M151.8 609.4h.9M165.6 618.9h.9M149.4 618.0h.9M153.5 608.0h.9M163.9 601.7h.9M147.2 628.3h.9M157.9 589.5h.9M145.6 621.9h.9M166.4 598.2h.9M154.2 606.2h.9M159.4 620.0h.9M160.1 614.5h.9M149.9 607.2h.9M152.2 621.1h.9M150.2 614.8h.9M134.3 601.1h.9M159.6 607.6h.9M166.4 597.3h.9M168.3 614.5h.9M157.3 642.3h.9M165.8 620.0h.9M149.3 620.4h.9M155.5 607.2h.9M139.4 586.7h.9M151.9 606.1h.9M162.3 618.0h.9M143.4 598.5h.9M157.1 596.4h.9M180.4 615.9h.9M166.3 623.6h.9M159.2 602.1h.9M170.4 640.5h.9M165.4 606.3h.9M153.4 609.7h.9M186.2 599.9h.9M167.8 626.9h.9M167.7 588.2h.9M168.7 611.8h.9M150.4 615.4h.9M157.0 621.4h.9M166.0 622.6h.9M155.4 597.6h.9M158.9 621.2h.9M153.8 606.9h.9M153.7 582.1h.9M169.8 644.1h.9M154.4 618.1h.9M171.9 624.3h.9M164.5 628.5h.9M144.1 609.9h.9M150.7 603.2h.9M151.8 619.3h.9M171.6 629.3h.9M156.0 631.8h.9M166.6 597.0h.9M170.5 629.3h.9M161.3 590.2h.9M151.2 620.6h.9M159.8 605.1h.9M166.4 624.8h.9M157.8 625.4h.9M165.7 622.1h.9M152.1 625.6h.9M145.6 623.0h.9M153.8 615.5h.9M160.8 634.4h.9M143.9 610.9h.9M160.7 605.6h.9M152.7 616.1h.9M144.1 600.9h.9M161.1 614.2h.9M171.9 615.9h.9M144.7 636.5h.9M181.6 644.4h.9M159.2 594.5h.9M150.3 600.2h.9M161.2 626.4h.9M140.6 616.0h.9M159.9 640.4h.9M158.7 628.2h.9M134.8 608.7h.9M138.4 650.5h.9M146.5 591.2h.9M153.3 620.9h.9M160.2 632.5h.9M154.3 624.2h.9M148.4 602.6h.9M162.8 597.4h.9M161.4 627.0h.9M157.1 610.3h.9M152.7 611.8h.9M146.1 617.7h.9M155.4 611.9h.9M171.7 638.7h.9M162.3 634.7h.9M167.9 594.0h.9M143.5 619.9h.9M159.7 612.9h.9M145.6 591.2h.9M162.5 617.7h.9M160.9 615.9h.9M161.1 602.9h.9M169.5 620.9h.9M153.9 633.5h.9M169.0 604.5h.9M158.9 597.7h.9M151.6 603.3h.9M154.9 619.4h.9M165.0 637.4h.9M152.3 602.8h.9M164.5 601.9h.9M160.1 601.9h.9M151.7 603.6h.9M133.4 635.8h.9M157.7 626.4h.9M166.4 579.2h.9M152.8 604.7h.9M165.2 615.1h.9M149.2 600.1h.9M169.0 608.4h.9M173.7 609.3h.9M160.5 617.9h.9M162.8 636.3h.9M145.4 567.8h.9M172.2 619.3h.9M151.6 635.3h.9M164.3 619.4h.9M178.0 615.2h.9M162.1 622.3h.9M161.2 628.9h.9M163.0 629.2h.9M152.7 620.7h.9M152.7 593.2h.9M169.9 621.9h.9M151.4 626.9h.9M155.2 599.9h.9M145.4 579.2h.9M160.2 619.2h.9M148.7 627.9h.9M156.5 594.6h.9M155.7 625.4h.9M157.8 599.6h.9M151.6 609.4h.9M155.6 624.1h.9M169.2 597.3h.9M167.3 622.1h.9M164.1 606.4h.9M163.5 635.0h.9M142.9 604.8h.9M156.4 615.3h.9M161.1 618.9h.9M161.0 605.9h.9M163.9 612.8h.9M146.2 606.6h.9M162.4 631.0h.9M153.2 603.7h.9M161.2 607.3h.9M174.3 606.2h.9M163.6 609.4h.9M158.0 621.3h.9M150.2 608.8h.9M167.5 610.1h.9M139.8 602.1h.9M150.9 608.6h.9M135.1 620.7h.9M156.5 607.7h.9M150.7 627.0h.9M153.1 644.7h.9M148.5 610.5h.9M176.9 638.3h.9M165.8 593.9h.9M165.2 609.6h.9M151.8 623.0h.9M165.6 621.7h.9M158.0 601.3h.9M155.0 623.7h.9M143.6 650.0h.9M159.0 624.5h.9M133.6 594.0h.9M150.8 600.8h.9M136.4 600.0h.9M161.7 617.5h.9M163.4 638.3h.9M166.2 628.2h.9M144.9 642.2h.9M168.0 619.1h.9M176.9 624.0h.9M153.0 636.9h.9M149.4 613.9h.9M152.2 635.7h.9M152.3 631.6h.9M166.3 601.8h.9M152.3 608.8h.9M161.8 611.7h.9M157.7 609.5h.9M148.9 616.1h.9M158.3 603.8h.9M158.2 634.2h.9M159.3 623.6h.9M160.7 626.3h.9M154.9 625.9h.9M161.9 598.3h.9M141.4 623.8h.9M153.0 603.4h.9M170.1 641.8h.9M160.9 592.9h.9M155.1 630.5h.9M150.5 599.9h.9M151.9 613.3h.9M156.4 624.6h.9M140.4 595.3h.9M154.3 606.3h.9M155.8 622.6h.9M137.4 590.7h.9M141.1 581.6h.9M156.5 618.5h.9M154.5 626.2h.9M175.1 638.0h.9M177.0 623.3h.9M129.4 613.9h.9M151.1 628.4h.9M169.0 616.8h.9M161.0 622.8h.9M171.4 577.5h.9M169.6 615.6h.9M156.7 601.1h.9M168.6 600.9h.9M157.2 614.6h.9M146.1 608.6h.9M159.3 638.4h.9M170.2 639.5h.9M166.0 627.6h.9M154.3 641.7h.9M171.7 617.2h.9M170.8 589.2h.9M171.0 597.8h.9M140.1 618.2h.9M150.1 614.0h.9M152.2 613.7h.9M151.4 611.2h.9M138.1 582.3h.9M152.6 618.8h.9M168.8 621.5h.9M148.4 621.6h.9M178.6 611.8h.9M148.5 605.5h.9M161.7 622.4h.9M156.0 584.1h.9M146.5 607.3h.9M160.3 608.9h.9M159.5 633.3h.9M157.2 634.1h.9M169.4 638.8h.9M165.4 613.3h.9M143.3 603.2h.9M145.3 616.2h.9M155.7 591.1h.9M136.9 606.6h.9M88.6 600.8h.9M148.0 600.5h.9M133.8 613.6h.9M109.3 604.1h.9M125.1 591.4h.9M136.6 616.8h.9M131.2 627.0h.9M136.1 609.6h.9M141.9 611.7h.9M121.4 603.5h.9M152.1 631.3h.9M133.4 613.5h.9M112.7 594.6h.9M121.0 623.4h.9M124.1 635.8h.9M156.5 612.0h.9M143.5 592.0h.9M133.3 580.7h.9M141.4 592.1h.9M131.7 640.9h.9M133.8 594.6h.9M151.5 587.9h.9M144.6 605.1h.9M140.4 617.3h.9M139.1 603.2h.9M133.6 602.1h.9M153.5 610.9h.9M138.0 626.3h.9M151.0 614.2h.9M108.3 599.8h.9M165.4 600.6h.9M132.9 610.4h.9M120.2 591.0h.9M155.5 610.5h.9M165.4 628.3h.9M162.1 603.8h.9M153.7 601.3h.9M140.3 613.3h.9M139.6 594.2h.9M168.4 627.8h.9M134.8 623.0h.9M153.5 620.0h.9M161.3 609.9h.9M157.9 610.6h.9M103.8 614.7h.9M141.6 590.3h.9M98.2 598.9h.9M158.5 602.3h.9M154.2 623.7h.9M133.5 636.8h.9M116.3 606.2h.9M128.7 610.8h.9M121.5 610.5h.9M148.8 599.0h.9M140.0 599.1h.9M173.1 608.9h.9M124.5 625.1h.9M114.1 588.0h.9M179.0 620.1h.9M126.3 589.9h.9M112.6 619.1h.9M151.9 604.3h.9M170.0 590.5h.9M142.3 585.5h.9M149.6 602.8h.9M155.2 620.3h.9M128.1 596.7h.9M142.5 608.8h.9M157.3 593.5h.9M133.2 592.6h.9M177.3 599.7h.9M115.0 590.4h.9M122.2 609.1h.9M132.6 582.6h.9M127.1 629.5h.9M133.9 598.2h.9M153.3 596.1h.9M175.4 621.6h.9M111.9 600.7h.9M126.2 622.8h.9M114.2 593.1h.9M142.3 594.2h.9M129.0 594.6h.9M125.4 631.1h.9M132.2 580.5h.9M147.0 608.4h.9M125.3 633.7h.9M140.8 597.1h.9M116.5 623.3h.9M172.0 617.2h.9M139.9 616.1h.9M167.7 608.5h.9M177.3 602.0h.9M143.9 595.1h.9M112.7 609.0h.9M149.3 616.7h.9M121.2 602.8h.9M155.5 622.0h.9M126.8 618.1h.9M151.8 611.8h.9M148.2 602.1h.9M113.3 615.7h.9M169.2 609.8h.9M195.8 637.5h.9M122.8 610.9h.9M140.2 616.6h.9M123.1 588.0h.9M142.4 608.7h.9M142.2 631.0h.9M149.0 613.4h.9M157.2 620.8h.9M153.2 602.7h.9M123.7 599.7h.9M103.1 610.7h.9M138.8 590.3h.9M138.8 602.3h.9M155.0 640.1h.9M170.2 605.8h.9M147.0 598.4h.9M133.0 627.6h.9M142.9 613.3h.9M133.2 599.9h.9M143.9 607.6h.9M129.4 605.0h.9M149.6 598.1h.9M126.4 609.6h.9M117.4 608.7h.9M144.7 599.9h.9M149.2 602.3h.9M149.9 627.8h.9M118.5 631.2h.9M108.8 609.8h.9M113.5 572.3h.9M165.0 607.3h.9M157.4 585.8h.9M151.1 599.4h.9M167.0 583.7h.9M161.0 633.7h.9M165.4 606.3h.9M141.8 627.9h.9M176.2 574.7h.9M170.0 632.4h.9M124.1 610.0h.9M157.0 621.1h.9M171.4 603.7h.9M187.0 601.0h.9M133.4 575.0h.9M149.3 602.1h.9M149.2 575.4h.9M125.1 600.2h.9M138.8 584.9h.9M144.6 601.1h.9M115.9 638.1h.9M147.1 615.4h.9M131.1 612.7h.9M125.3 612.5h.9M125.9 603.2h.9M156.8 593.8h.9M160.5 618.8h.9M134.8 609.9h.9M137.0 588.4h.9M99.6 626.2h.9M140.5 630.7h.9M172.5 603.8h.9M150.8 619.6h.9M162.1 603.9h.9M143.8 617.8h.9M128.4 596.9h.9M140.8 594.4h.9M164.6 621.4h.9M156.9 627.4h.9M124.8 613.4h.9M126.4 618.4h.9M154.5 622.6h.9M148.7 614.8h.9M172.4 656.1h.9M124.6 626.4h.9M105.3 604.1h.9M142.0 604.9h.9M113.6 608.4h.9M132.8 613.0h.9M134.7 595.0h.9M142.7 610.2h.9M183.6 596.5h.9M155.7 601.0h.9M135.9 627.5h.9M128.2 613.9h.9M165.3 605.9h.9M139.9 621.8h.9M118.4 617.3h.9M149.5 627.3h.9M123.0 620.8h.9M152.8 591.6h.9M175.7 610.2h.9M121.9 585.5h.9M147.7 629.5h.9M134.6 609.5h.9M135.6 601.1h.9M162.5 608.1h.9M101.3 592.0h.9M127.7 609.6h.9M167.4 630.4h.9M130.2 600.5h.9M119.6 610.5h.9M134.0 605.5h.9M145.2 617.4h.9M149.2 624.8h.9M158.0 576.0h.9M168.8 605.9h.9M156.5 591.1h.9M151.9 593.8h.9M153.0 618.6h.9M122.1 629.9h.9M154.0 597.8h.9M168.2 620.5h.9M133.0 587.0h.9M153.5 610.2h.9M159.5 612.2h.9M144.1 592.9h.9M145.5 618.4h.9M123.0 618.9h.9M130.4 601.6h.9M152.0 598.0h.9M174.5 619.5h.9M123.4 619.0h.9M168.8 614.8h.9M138.5 625.7h.9M125.6 610.8h.9M100.4 611.3h.9M136.1 600.8h.9M150.4 613.1h.9M117.1 611.5h.9M140.0 635.0h.9M142.8 624.4h.9M152.1 600.7h.9M148.2 590.2h.9M143.1 590.8h.9M157.9 606.3h.9M150.9 594.1h.9M137.8 594.0h.9M135.4 596.6h.9M138.0 605.8h.9M99.5 588.3h.9M143.0 588.4h.9M125.8 615.5h.9M157.0 603.7h.9M143.8 607.8h.9M148.8 630.3h.9M127.7 594.5h.9M149.5 606.9h.9M140.9 638.0h.9M109.3 632.4h.9M107.6 626.3h.9M109.4 583.9h.9M146.5 597.5h.9M148.4 609.0h.9M141.9 589.9h.9M156.2 591.6h.9M155.9 628.3h.9M115.5 579.1h.9M125.4 593.4h.9M136.4 596.4h.9M151.6 645.5h.9M153.0 605.3h.9M127.2 596.7h.9M168.6 592.4h.9M150.1 597.9h.9M146.4 626.9h.9M141.4 603.4h.9M148.5 615.0h.9M105.9 594.8h.9M126.2 626.0h.9M127.8 637.3h.9M152.8 610.1h.9M151.9 599.7h.9M134.9 587.6h.9M214.2 616.1h.9M89.7 598.1h.9M126.5 632.6h.9M177.9 616.0h.9M156.2 588.9h.9M109.7 593.6h.9M156.8 591.3h.9M150.0 618.4h.9M165.3 632.1h.9M164.9 612.5h.9M141.3 597.2h.9M129.4 626.1h.9M133.5 605.1h.9M135.3 612.2h.9M118.1 587.8h.9M142.5 609.0h.9M138.4 613.5h.9M127.9 588.9h.9M91.1 619.7h.9M150.2 618.0h.9M123.7 618.1h.9M126.1 553.1h.9M159.2 634.9h.9M123.6 600.8h.9M159.8 604.9h.9M137.8 587.3h.9M104.6 601.2h.9M136.1 602.9h.9M128.0 624.4h.9M143.0 589.8h.9M135.2 611.2h.9M146.7 613.9h.9M154.1 603.5h.9M143.3 606.5h.9M162.8 612.5h.9M121.5 582.4h.9M139.8 601.1h.9M147.0 598.1h.9M146.8 609.6h.9M173.1 638.9h.9M135.3 593.6h.9M154.9 635.5h.9M138.6 598.0h.9M141.9 607.8h.9M116.7 614.7h.9M141.2 579.2h.9M129.5 632.3h.9M184.2 610.0h.9M129.7 610.6h.9M153.1 635.9h.9M169.7 602.8h.9M157.4 613.0h.9M126.3 585.8h.9M130.5 617.6h.9M168.6 605.0h.9M117.7 603.5h.9M142.0 604.0h.9M164.2 620.9h.9M108.9 599.2h.9M125.4 618.8h.9M122.3 611.3h.9M130.1 576.3h.9M152.0 612.9h.9M121.4 612.6h.9M128.0 597.0h.9M161.5 597.3h.9M159.7 606.1h.9M133.2 614.5h.9M122.3 613.5h.9M116.5 584.9h.9M146.4 606.9h.9M141.0 585.5h.9M153.5 609.2h.9M144.8 611.9h.9M146.9 594.7h.9M111.8 601.7h.9M153.3 571.5h.9M105.2 600.2h.9M169.2 574.0h.9M113.7 603.7h.9M133.3 610.6h.9M119.2 608.1h.9M164.7 621.4h.9M138.3 610.5h.9M153.2 611.1h.9M151.7 603.3h.9M120.5 618.4h.9M125.2 598.9h.9M117.5 632.7h.9M124.5 604.0h.9M153.4 615.1h.9M148.8 606.0h.9M152.4 620.6h.9M123.5 595.9h.9M121.4 613.4h.9M161.3 594.7h.9M146.5 631.6h.9M144.4 598.0h.9M137.6 604.2h.9M150.6 587.5h.9M162.4 596.7h.9M134.1 588.7h.9M129.8 584.7h.9M112.9 621.2h.9M134.8 589.7h.9M120.1 591.7h.9M110.2 610.9h.9M144.1 643.4h.9M144.5 571.0h.9M141.4 617.8h.9M110.1 606.9h.9M123.7 617.9h.9M130.6 604.0h.9M177.7 615.8h.9M149.6 623.1h.9M158.4 597.9h.9M139.3 575.5h.9M120.0 585.1h.9M178.1 603.6h.9M145.8 612.0h.9M146.6 616.1h.9M156.9 591.1h.9M137.2 605.0h.9M146.5 600.5h.9M115.8 611.5h.9M144.2 609.4h.9M115.9 593.7h.9M111.5 621.5h.9M147.7 590.0h.9M120.6 634.6h.9M130.1 605.5h.9M139.1 614.9h.9M137.3 603.0h.9M165.2 621.2h.9M138.2 592.5h.9M151.1 584.9h.9M154.9 617.6h.9M109.7 571.2h.9M111.9 581.4h.9M147.0 619.0h.9M129.5 612.5h.9M119.1 618.3h.9M154.9 588.6h.9M147.3 556.3h.9M132.0 577.8h.9M151.4 588.7h.9M88.1 648.2h.9M138.5 580.8h.9M158.4 602.9h.9M152.5 602.9h.9M140.5 624.8h.9M162.7 612.9h.9M151.5 607.9h.9M133.4 623.5h.9M143.9 597.0h.9M153.9 614.9h.9M149.5 614.6h.9M129.8 586.8h.9M81.9 597.2h.9M179.4 594.3h.9M133.7 599.6h.9M98.3 604.9h.9M120.2 595.0h.9M144.8 603.2h.9M103.6 592.1h.9M148.4 595.3h.9M136.7 617.1h.9M165.8 605.5h.9M124.0 605.0h.9M141.2 596.1h.9M167.5 579.2h.9M154.0 582.6h.9M131.2 613.4h.9M136.7 642.7h.9M142.4 628.5h.9M105.6 600.9h.9M148.8 605.3h.9M148.8 604.5h.9M126.4 607.2h.9M127.1 606.5h.9M142.7 592.8h.9M162.6 614.8h.9M127.4 640.3h.9M133.2 591.4h.9M130.4 599.6h.9M139.3 613.6h.9M150.9 592.4h.9M120.6 607.7h.9M99.2 599.5h.9M135.2 583.2h.9M166.4 630.2h.9M123.3 577.7h.9M153.5 615.6h.9M142.8 610.5h.9M119.3 612.6h.9M144.5 609.7h.9M126.7 630.7h.9M131.5 621.0h.9M133.9 604.5h.9M118.0 611.8h.9M136.5 624.0h.9M168.7 634.5h.9M147.2 592.8h.9M166.0 606.3h.9M120.3 586.4h.9M190.0 600.3h.9M151.0 607.6h.9M146.1 593.9h.9M128.4 604.2h.9M121.1 622.5h.9M141.2 603.7h.9M166.7 601.4h.9M145.6 580.3h.9M186.6 607.1h.9M133.6 599.8h.9M111.8 620.8h.9M131.0 588.1h.9M165.2 610.3h.9M163.2 598.0h.9M118.8 619.5h.9M124.8 609.8h.9M162.8 587.5h.9M105.7 593.9h.9M151.8 636.1h.9M122.1 620.4h.9M133.6 610.4h.9M130.2 602.7h.9M155.5 603.8h.9M165.2 597.9h.9M129.4 598.0h.9M162.4 605.4h.9M150.9 612.1h.9M121.7 581.4h.9M125.3 581.5h.9M146.1 607.3h.9M133.3 600.2h.9M132.2 596.7h.9M157.0 622.7h.9M147.1 613.9h.9M116.2 597.6h.9M162.3 589.9h.9M152.9 610.6h.9M149.2 614.8h.9M151.6 569.7h.9M113.4 613.3h.9M142.4 632.8h.9M124.5 612.7h.9M132.6 620.3h.9M172.6 594.1h.9M131.2 611.1h.9M168.9 614.9h.9M135.3 631.1h.9M139.5 601.0h.9M156.1 604.0h.9M150.7 632.9h.9M110.7 596.4h.9M148.3 610.8h.9M126.9 606.4h.9M134.1 590.1h.9M146.1 615.0h.9M129.7 603.8h.9M102.5 603.2h.9M139.4 630.6h.9M136.9 570.4h.9M127.6 610.4h.9M118.4 605.2h.9M137.4 610.7h.9M140.6 603.0h.9M132.9 597.5h.9M159.3 607.3h.9M136.7 613.9h.9M142.2 617.1h.9M113.0 599.6h.9M134.8 614.3h.9M183.2 604.5h.9M104.0 597.4h.9M156.0 617.3h.9M144.5 612.3h.9M137.9 618.0h.9M137.9 603.9h.9M142.1 585.2h.9M110.9 621.2h.9M169.2 606.1h.9M147.4 594.0h.9M165.2 589.1h.9M149.7 616.5h.9M153.7 611.0h.9M154.3 620.8h.9M144.9 608.5h.9M170.8 596.2h.9M147.0 599.5h.9M146.1 613.6h.9M128.2 591.9h.9M136.4 604.4h.9M163.7 599.4h.9M131.3 600.5h.9M156.3 652.5h.9M141.3 577.3h.9M112.3 611.2h.9M155.0 591.0h.9M140.9 637.8h.9M139.1 602.6h.9M160.9 604.0h.9M146.8 613.1h.9M120.6 616.3h.9M146.1 604.9h.9M128.1 625.6h.9M124.5 607.3h.9M171.6 622.7h.9M99.0 601.6h.9M131.8 593.0h.9M130.7 599.4h.9M155.7 594.1h.9M162.7 583.5h.9M126.7 595.6h.9M90.7 589.5h.9M175.9 615.6h.9M125.0 629.8h.9M135.6 591.1h.9M134.3 608.6h.9M133.9 593.6h.9M143.6 621.2h.9M122.5 626.6h.9M151.2 598.7h.9M155.6 617.3h.9M126.6 580.4h.9M124.7 612.4h.9M161.7 620.1h.9M167.6 610.9h.9M152.4 617.2h.9M156.6 624.5h.9M102.5 642.6h.9M145.7 608.9h.9M144.3 606.8h.9M139.5 617.6h.9M158.1 596.0h.9M160.9 620.3h.9M141.1 593.9h.9M136.8 609.0h.9M169.5 595.1h.9M132.5 589.5h.9M130.0 607.8h.9M158.7 593.5h.9M138.7 589.5h.9M174.1 602.8h.9M172.8 592.9h.9M160.0 610.2h.9M145.7 614.3h.9M144.0 613.3h.9M134.4 634.0h.9M182.7 606.1h.9M146.9 601.5h.9M150.3 610.2h.9M146.7 599.0h.9M142.2 586.6h.9M117.3 614.3h.9M150.7 594.5h.9M160.9 594.2h.9M120.9 601.4h.9M103.7 607.5h.9M131.8 599.6h.9M138.5 573.6h.9M152.1 606.9h.9M128.2 610.3h.9M148.8 611.9h.9M124.7 632.2h.9M104.9 592.6h.9M162.4 634.4h.9M140.9 612.6h.9M131.1 596.7h.9M126.9 633.7h.9M152.8 603.4h.9M115.7 622.5h.9M144.9 590.1h.9M163.8 623.2h.9M133.1 620.8h.9M155.4 603.2h.9M169.3 629.3h.9M185.0 587.3h.9M160.8 640.2h.9M123.7 585.9h.9M115.3 611.9h.9M137.4 607.3h.9M178.4 559.2h.9M138.1 611.3h.9M159.4 601.1h.9M152.2 590.9h.9M182.5 596.3h.9M141.9 582.6h.9M138.6 621.6h.9M129.8 590.2h.9M148.0 601.1h.9M150.7 627.1h.9M145.3 633.8h.9M155.1 583.7h.9M147.3 612.0h.9M134.0 626.8h.9M141.3 623.0h.9M136.5 588.1h.9M148.3 599.5h.9M144.1 610.3h.9M177.0 620.8h.9M146.5 618.6h.9M124.9 586.5h.9M137.6 617.2h.9M111.5 623.4h.9M138.3 629.7h.9M149.4 614.6h.9M132.9 593.8h.9M166.9 612.1h.9M145.0 611.5h.9M128.5 588.1h.9M157.6 587.6h.9M155.2 616.2h.9M139.3 626.6h.9M149.6 607.7h.9M125.3 610.0h.9M163.0 597.1h.9M112.3 601.8h.9M136.1 615.4h.9M119.4 618.9h.9M140.4 605.7h.9M108.7 573.5h.9M145.8 608.3h.9M141.2 586.0h.9M117.2 578.2h.9M148.0 597.1h.9M109.3 630.0h.9M131.1 584.2h.9M142.0 607.7h.9M134.4 610.6h.9M152.8 627.1h.9M115.7 596.6h.9M110.3 606.7h.9M167.6 590.6h.9M114.8 595.6h.9M172.6 614.9h.9M152.2 622.6h.9M157.5 576.9h.9M138.5 575.4h.9M123.8 597.3h.9M139.8 622.4h.9M141.9 593.6h.9M130.8 622.3h.9M119.3 603.2h.9M151.9 597.3h.9M128.5 616.2h.9M155.3 607.5h.9M148.3 611.2h.9M169.3 574.7h.9M158.6 608.8h.9M98.3 608.0h.9M148.6 656.1h.9M143.3 604.5h.9M187.5 608.9h.9M137.3 623.9h.9M136.0 622.7h.9M135.8 615.4h.9M138.9 624.4h.9M128.8 576.6h.9M174.9 603.4h.9M148.5 597.7h.9M151.8 608.0h.9M165.6 580.9h.9M116.2 617.1h.9M171.5 601.0h.9M135.6 615.5h.9M148.6 607.1h.9M131.1 612.8h.9M129.3 623.8h.9M132.6 595.5h.9M149.8 583.6h.9M150.3 605.8h.9M145.5 595.5h.9M162.5 604.6h.9M134.1 597.3h.9M115.9 573.0h.9M123.5 591.3h.9M134.5 594.3h.9M161.5 610.8h.9M156.1 617.0h.9M157.7 627.2h.9M152.8 610.2h.9M127.9 635.5h.9M131.7 631.7h.9M103.5 601.2h.9M143.7 601.4h.9M127.3 590.3h.9M145.5 606.4h.9M146.6 601.9h.9M129.2 614.5h.9M179.4 634.7h.9M135.2 641.3h.9M123.4 617.3h.9M165.0 593.8h.9M127.9 612.4h.9M175.1 614.6h.9M156.4 595.4h.9M116.8 604.5h.9M137.3 619.8h.9M160.7 598.9h.9M152.9 591.3h.9M158.5 603.7h.9M154.5 610.8h.9M151.7 626.5h.9M135.1 595.4h.9M136.0 618.6h.9M147.7 608.7h.9M155.5 614.1h.9M155.6 611.6h.9M127.0 594.9h.9M132.2 569.2h.9M185.6 592.3h.9M154.4 612.1h.9M136.0 608.7h.9M118.7 611.6h.9M144.2 604.1h.9M149.6 608.0h.9M135.8 601.0h.9M120.5 626.4h.9M168.5 585.2h.9M136.4 596.0h.9M148.4 592.7h.9M148.8 604.3h.9M132.2 617.3h.9M155.3 633.5h.9M129.0 622.6h.9M128.9 621.6h.9M176.0 628.5h.9M143.9 622.7h.9M147.7 622.2h.9M126.6 593.8h.9M155.5 597.9h.9M149.8 616.8h.9M143.0 609.0h.9M154.9 602.3h.9M149.3 624.0h.9M119.6 600.3h.9M139.7 612.6h.9M129.9 606.6h.9M122.3 592.6h.9M151.9 633.6h.9M99.4 582.2h.9M148.1 588.3h.9M136.5 600.6h.9M166.9 627.5h.9M157.0 626.8h.9M155.1 596.6h.9M150.0 616.4h.9M107.9 603.4h.9M131.7 591.8h.9M121.1 611.8h.9M143.1 607.6h.9M146.7 598.3h.9M133.9 618.6h.9M128.3 621.1h.9M142.8 592.3h.9M134.2 631.9h.9M131.8 615.4h.9M183.2 604.8h.9M132.6 630.9h.9M128.3 619.3h.9M141.2 621.0h.9M140.6 619.5h.9M157.4 603.4h.9M177.6 615.6h.9M118.6 605.6h.9M174.9 596.0h.9M148.8 593.2h.9M131.2 614.9h.9M125.4 622.3h.9M167.5 585.3h.9M113.9 632.5h.9M127.0 618.0h.9M166.5 621.4h.9M99.1 602.8h.9M126.8 617.1h.9M164.8 618.1h.9M143.7 587.5h.9M134.2 622.1h.9M154.5 640.7h.9M105.6 596.1h.9M119.5 580.4h.9M151.5 596.0h.9M129.9 620.2h.9M104.2 614.0h.9M184.0 593.4h.9M139.0 598.3h.9M154.9 581.0h.9M149.6 609.2h.9M141.4 575.3h.9M129.0 604.1h.9M139.5 586.9h.9M102.7 604.7h.9M124.1 617.1h.9M158.8 604.7h.9M136.1 610.5h.9M132.3 611.4h.9M142.3 602.7h.9M149.3 595.6h.9M156.3 581.2h.9M138.3 611.7h.9M128.4 628.2h.9M119.9 638.7h.9M131.7 579.4h.9M111.8 592.9h.9M144.6 615.9h.9M130.7 635.5h.9M150.3 591.1h.9M136.8 609.4h.9M129.0 610.8h.9M126.9 598.6h.9M150.1 604.7h.9M124.0 600.9h.9M139.9 584.4h.9M168.8 634.2h.9M164.8 611.0h.9M142.3 600.3h.9M145.9 624.9h.9M151.2 603.5h.9M150.8 624.7h.9M134.6 596.9h.9M126.2 624.3h.9M111.0 617.6h.9M164.7 597.2h.9M163.3 619.1h.9M170.7 622.9h.9M139.9 608.4h.9M157.5 590.1h.9M160.7 589.4h.9M153.7 605.1h.9M168.7 611.2h.9M145.7 568.9h.9M128.2 617.9h.9M175.6 614.6h.9M118.6 632.0h.9M154.6 603.7h.9M134.5 602.5h.9M160.3 613.1h.9M126.3 586.9h.9M137.6 608.4h.9M127.2 580.7h.9M160.9 595.0h.9M129.4 609.1h.9M116.0 606.9h.9M122.5 590.2h.9M138.6 613.3h.9M139.7 606.8h.9M120.1 616.5h.9M172.3 596.2h.9M105.5 602.0h.9M135.1 613.6h.9M127.9 589.6h.9M130.6 612.1h.9M137.5 593.9h.9M114.6 632.1h.9M123.1 594.3h.9M131.0 615.3h.9M120.5 576.1h.9M149.5 602.5h.9M121.9 610.2h.9M165.3 602.9h.9M116.2 598.5h.9M172.0 590.2h.9M134.5 606.3h.9M180.7 602.3h.9M144.7 605.2h.9M142.9 596.2h.9M152.6 587.2h.9M76.7 620.7h.9M118.8 627.2h.9M126.8 622.9h.9M114.0 611.6h.9M154.0 610.6h.9M193.7 604.1h.9M90.6 607.8h.9M123.1 607.5h.9M143.7 592.6h.9M127.2 588.0h.9M155.0 611.3h.9M135.6 589.5h.9M153.6 629.0h.9M171.2 601.6h.9M143.1 617.5h.9M153.6 609.1h.9M134.5 602.8h.9M121.1 609.6h.9M149.9 607.5h.9M140.8 617.1h.9M134.0 614.6h.9M129.7 627.8h.9M126.2 607.2h.9M147.9 615.4h.9M139.2 595.6h.9M113.2 625.3h.9M136.1 603.5h.9M163.6 608.8h.9M159.3 596.2h.9M137.1 589.2h.9M146.5 570.5h.9M133.5 645.1h.9M180.3 627.0h.9M152.5 594.6h.9M135.0 602.4h.9M160.7 583.4h.9M132.9 617.9h.9M133.2 612.9h.9M113.1 617.8h.9M124.3 597.6h.9M127.2 616.1h.9M128.2 606.1h.9M122.9 586.2h.9M141.5 625.6h.9M125.2 598.7h.9M171.5 617.1h.9M132.8 617.9h.9M117.0 621.0h.9M152.1 620.0h.9M140.4 606.3h.9M140.6 580.7h.9M133.4 613.3h.9M168.1 645.7h.9M127.3 602.1h.9M159.9 618.0h.9M141.9 608.3h.9M156.5 601.5h.9M142.7 608.6h.9M179.4 628.9h.9M132.4 620.2h.9M147.4 608.0h.9M136.6 611.9h.9M143.3 572.9h.9M123.3 582.6h.9M131.5 571.1h.9M121.1 603.7h.9M125.1 626.9h.9M149.2 624.3h.9M149.5 597.7h.9M146.7 614.4h.9M140.2 611.3h.9M125.0 629.1h.9M145.6 583.0h.9M123.5 585.0h.9M115.8 607.5h.9M161.3 597.3h.9M146.0 583.0h.9M140.3 602.6h.9M174.8 636.4h.9M138.4 610.5h.9M168.4 594.1h.9M123.9 621.7h.9M115.0 588.3h.9M118.7 606.4h.9M156.0 602.5h.9M153.1 612.4h.9M138.5 607.5h.9M112.2 615.1h.9M127.0 595.7h.9M153.6 607.8h.9M148.0 620.0h.9M123.9 591.4h.9M143.1 622.4h.9M185.7 610.8h.9M137.0 585.5h.9M113.9 617.9h.9M139.3 609.9h.9M149.8 590.8h.9M170.1 613.2h.9M144.5 585.2h.9M118.9 591.4h.9M137.0 594.1h.9M162.8 613.8h.9M129.2 633.5h.9M162.5 604.8h.9M117.1 612.9h.9M141.4 611.1h.9M140.5 612.8h.9M122.0 620.6h.9M144.3 603.3h.9M157.6 615.0h.9M135.1 615.9h.9M131.9 596.5h.9M149.8 613.1h.9M160.1 629.5h.9M162.2 574.2h.9M136.8 598.9h.9M132.7 624.1h.9M159.6 618.6h.9M158.2 608.6h.9M177.3 612.9h.9M143.1 595.9h.9M149.0 613.8h.9M138.9 611.2h.9M131.2 612.9h.9M197.1 598.1h.9M148.9 608.5h.9M133.5 580.5h.9M142.7 617.4h.9M143.4 629.3h.9M126.5 589.8h.9M112.2 605.5h.9M125.6 579.1h.9M128.9 618.6h.9M146.9 598.6h.9M148.3 605.5h.9M97.0 594.8h.9M116.5 590.4h.9M121.1 614.3h.9M171.0 609.6h.9M150.1 620.0h.9M131.5 616.7h.9M134.4 592.8h.9M137.1 632.4h.9M110.3 575.2h.9M160.9 615.7h.9M153.6 616.7h.9M144.6 628.2h.9M141.5 586.0h.9M135.4 611.7h.9M132.3 588.8h.9M114.1 639.1h.9M132.2 646.0h.9M152.3 659.2h.9M154.9 662.7h.9M144.7 636.0h.9M143.4 639.9h.9M173.7 644.9h.9M146.4 646.4h.9M147.7 644.2h.9M153.5 658.3h.9M150.6 651.6h.9M137.2 656.4h.9M141.2 636.8h.9M144.1 623.6h.9M146.8 641.1h.9M153.4 639.3h.9M148.0 646.4h.9M148.7 643.0h.9M155.0 639.4h.9M148.1 651.3h.9M152.8 645.0h.9M155.3 641.8h.9M149.6 648.8h.9M149.2 638.6h.9M159.7 668.5h.9M157.4 657.2h.9M175.6 633.9h.9M155.8 629.0h.9M152.9 647.2h.9M158.0 642.9h.9M154.6 640.3h.9M158.3 635.9h.9M148.7 636.0h.9M145.2 665.6h.9M135.7 652.1h.9M158.9 646.8h.9M139.9 637.7h.9M163.1 636.5h.9M145.1 637.2h.9M142.6 644.0h.9M144.0 633.8h.9M146.6 643.7h.9M155.8 650.0h.9M151.8 636.9h.9M146.6 629.5h.9M168.9 659.2h.9M134.9 638.6h.9M152.9 645.7h.9M155.0 658.7h.9M156.3 650.7h.9M166.8 645.5h.9M153.0 643.3h.9M137.5 634.0h.9M162.2 642.8h.9M144.4 649.5h.9M143.8 655.4h.9M153.9 637.1h.9M144.2 650.6h.9M148.0 659.1h.9M154.4 650.7h.9M141.4 655.6h.9M155.7 637.6h.9M140.4 639.0h.9M144.9 659.1h.9M137.0 658.6h.9M155.9 647.5h.9M159.1 637.8h.9M151.9 653.0h.9M151.2 638.2h.9M143.2 646.2h.9M166.0 665.9h.9M146.9 654.5h.9M148.1 651.0h.9M154.2 643.1h.9M145.0 626.2h.9M140.6 653.1h.9M167.5 645.1h.9M150.5 652.8h.9M144.8 631.2h.9M153.7 645.0h.9M142.2 652.4h.9M138.6 657.0h.9M131.3 640.7h.9M152.8 630.0h.9M165.2 645.0h.9M138.3 646.6h.9M153.7 653.3h.9M139.0 647.8h.9M161.8 654.8h.9M151.0 645.4h.9M157.7 635.8h.9M146.9 651.5h.9M144.2 644.2h.9M147.7 646.9h.9M156.4 653.9h.9M151.3 651.7h.9M142.5 645.0h.9M165.0 652.4h.9M153.9 658.3h.9M152.6 647.4h.9M148.6 632.8h.9M150.4 649.9h.9M154.6 647.0h.9M144.4 649.3h.9M176.8 619.7h.9M148.8 627.9h.9M141.8 634.4h.9M157.5 641.6h.9M147.0 638.3h.9M145.4 637.7h.9M138.2 638.3h.9M145.7 640.5h.9M150.6 637.4h.9M138.4 635.7h.9M150.9 644.1h.9M162.7 648.4h.9M154.3 642.8h.9M149.6 636.5h.9M142.5 642.4h.9M159.9 661.9h.9M150.0 645.8h.9M165.0 638.6h.9M136.9 647.7h.9M148.2 635.5h.9M152.4 638.8h.9M151.5 656.6h.9M154.3 659.1h.9M156.1 644.2h.9M132.8 639.6h.9M163.7 658.4h.9M156.2 647.0h.9M163.9 655.6h.9M154.4 632.7h.9M152.2 638.9h.9M129.3 637.2h.9M153.8 627.2h.9M140.5 618.6h.9M161.8 652.1h.9M144.1 643.6h.9M154.4 643.0h.9M156.1 645.6h.9M150.5 644.5h.9M145.1 648.5h.9M174.0 637.2h.9M139.9 661.7h.9M146.2 646.7h.9M142.5 639.5h.9M160.7 633.0h.9M157.2 648.2h.9M148.9 655.7h.9M145.0 639.2h.9M148.3 643.4h.9M157.3 633.8h.9M163.2 631.7h.9M147.4 667.7h.9M150.5 642.8h.9M169.2 646.6h.9M164.5 660.2h.9M153.6 648.7h.9M148.8 656.8h.9M154.8 629.1h.9M147.7 661.8h.9M153.8 647.1h.9M155.0 659.6h.9M156.1 642.7h.9M153.5 644.9h.9M159.9 652.3h.9M157.8 648.6h.9M151.3 647.2h.9M144.8 656.0h.9M148.3 648.2h.9M165.8 647.8h.9M155.5 650.6h.9M163.5 642.3h.9M144.5 644.7h.9M160.3 659.7h.9M171.7 642.2h.9M144.2 644.6h.9M163.0 640.4h.9M147.6 637.6h.9M151.6 637.2h.9M147.2 657.3h.9M150.2 658.4h.9M152.0 634.8h.9M141.4 652.4h.9M156.2 652.9h.9M148.4 656.2h.9M146.2 648.0h.9M166.6 657.3h.9M156.5 658.4h.9M145.1 626.9h.9M151.8 668.3h.9M147.4 652.1h.9M137.4 655.3h.9M157.8 662.6h.9M139.3 653.7h.9M149.6 638.4h.9M134.1 656.0h.9M155.1 658.0h.9M148.3 645.5h.9M153.8 646.0h.9M151.2 617.5h.9M153.0 649.0h.9M150.8 649.8h.9M145.1 636.0h.9M135.2 639.2h.9M166.2 645.4h.9M147.2 636.0h.9M163.3 652.8h.9M158.0 634.2h.9M149.1 649.9h.9M146.2 636.4h.9M155.2 651.0h.9M155.7 637.6h.9M152.4 648.7h.9M152.3 648.0h.9M155.2 631.5h.9M147.5 648.8h.9M140.7 647.8h.9M156.0 645.1h.9M144.2 641.3h.9M154.9 654.6h.9M148.9 643.7h.9M142.1 649.4h.9M141.1 643.6h.9M143.3 640.9h.9M148.4 638.6h.9M149.8 648.1h.9M157.0 642.3h.9M147.8 644.1h.9M147.2 646.1h.9M142.7 651.3h.9M153.9 627.8h.9M142.4 638.0h.9M147.2 643.0h.9M155.0 650.8h.9M158.1 640.6h.9M158.1 636.6h.9M156.9 645.5h.9M153.8 643.1h.9M150.7 660.7h.9M161.1 645.8h.9M149.9 661.0h.9M138.6 651.1h.9M154.1 624.2h.9M147.9 645.8h.9M156.4 650.0h.9M149.7 651.4h.9M145.3 660.8h.9M155.6 641.0h.9M151.1 644.4h.9M144.6 639.5h.9M139.0 650.5h.9M143.3 637.4h.9M159.0 638.0h.9M164.2 637.3h.9M157.4 644.0h.9M142.5 634.6h.9M147.0 661.1h.9M150.2 639.3h.9M154.7 634.8h.9M143.9 650.2h.9M157.9 657.2h.9M158.2 630.9h.9M145.5 645.9h.9M145.9 643.0h.9M156.3 630.5h.9M159.0 632.2h.9M156.0 653.6h.9M142.2 641.5h.9M137.8 644.2h.9M152.7 638.4h.9M159.2 645.2h.9M157.1 637.5h.9M142.9 655.9h.9M154.7 648.9h.9M155.6 652.3h.9M145.7 646.9h.9M140.3 631.1h.9M168.0 669.2h.9M154.8 637.5h.9M157.9 644.8h.9M169.3 635.3h.9M155.9 644.4h.9M145.5 636.6h.9M148.6 649.2h.9M162.2 659.7h.9M152.4 639.7h.9M147.2 643.7h.9M166.3 647.8h.9M153.5 643.2h.9M155.2 651.9h.9M159.5 659.1h.9M138.4 628.3h.9M148.6 656.9h.9M153.5 639.4h.9M149.9 643.0h.9M157.6 634.7h.9M143.6 660.3h.9M143.4 644.6h.9M151.4 650.9h.9M151.1 646.2h.9M140.1 648.3h.9M153.3 651.4h.9M161.8 658.4h.9M148.8 663.6h.9M143.7 642.5h.9M166.7 635.8h.9M167.8 655.9h.9M149.8 652.0h.9M158.3 647.2h.9M146.4 662.4h.9M151.2 634.4h.9M141.5 626.6h.9M150.6 648.5h.9M163.9 647.2h.9M153.3 637.5h.9M158.2 633.4h.9M139.1 638.7h.9M155.7 647.9h.9M151.2 643.4h.9M158.4 647.2h.9M144.2 643.1h.9M152.3 654.7h.9M136.5 643.3h.9M146.0 642.3h.9M161.6 633.3h.9M152.7 654.8h.9M142.9 635.5h.9M160.8 630.4h.9M155.8 654.5h.9M150.5 638.1h.9M154.2 651.9h.9M149.3 647.3h.9M156.7 638.6h.9M166.3 652.8h.9M136.2 641.4h.9M154.1 665.5h.9M130.8 633.5h.9M151.1 640.6h.9M144.5 630.8h.9M156.3 660.6h.9M153.3 639.9h.9M159.3 646.6h.9M153.1 652.3h.9M160.0 625.1h.9M139.6 644.5h.9M140.0 649.3h.9M136.0 649.2h.9M147.0 641.2h.9M145.0 644.0h.9M162.5 626.3h.9M160.6 636.5h.9M155.1 638.0h.9M151.9 648.8h.9M158.1 632.2h.9M142.9 640.5h.9M156.8 628.6h.9M146.5 643.2h.9M164.5 656.4h.9M152.1 647.9h.9M151.7 647.6h.9M146.5 631.3h.9M156.7 634.1h.9M159.8 650.6h.9M162.6 646.8h.9M148.8 671.5h.9M154.5 654.6h.9M148.2 651.4h.9M154.7 650.2h.9M152.9 651.8h.9M147.2 648.4h.9M147.2 634.5h.9M162.4 651.2h.9M158.2 652.1h.9M149.5 637.8h.9M150.1 643.3h.9M157.1 641.0h.9M148.1 644.0h.9M156.9 648.4h.9M154.2 634.5h.9M147.1 644.4h.9M132.6 630.6h.9M161.9 655.8h.9M159.6 647.4h.9M135.9 648.9h.9M152.8 640.8h.9M144.2 648.5h.9M154.5 626.2h.9M167.4 643.3h.9M172.8 644.1h.9M156.7 641.1h.9M158.3 635.1h.9M147.7 660.4h.9M157.3 649.9h.9M156.9 647.6h.9M159.5 641.6h.9M150.7 666.9h.9M146.6 647.7h.9M158.9 635.0h.9M158.4 656.5h.9M150.4 657.7h.9M148.9 632.1h.9M133.8 660.2h.9M139.0 646.6h.9M150.4 659.2h.9M153.5 639.3h.9M140.2 657.7h.9M148.4 634.2h.9M146.4 635.1h.9M146.9 642.2h.9M160.3 639.5h.9M160.0 633.3h.9M135.9 639.0h.9M159.5 636.4h.9M154.4 637.8h.9M148.2 641.0h.9M157.3 640.8h.9M152.6 655.9h.9M161.0 637.0h.9M153.1 652.7h.9M146.0 652.7h.9M144.0 654.2h.9M160.5 645.7h.9M134.4 639.3h.9M154.4 634.1h.9M171.9 655.7h.9M157.0 646.5h.9M155.0 641.0h.9M145.8 631.8h.9M136.4 651.4h.9M148.4 651.9h.9M161.5 647.9h.9M124.6 633.5h.9M141.4 652.0h.9M146.8 652.1h.9M148.8 631.8h.9M138.9 652.3h.9M157.8 654.7h.9M140.9 645.9h.9M152.0 636.2h.9M138.2 661.3h.9M152.9 634.7h.9M146.9 650.7h.9M136.1 655.0h.9M148.1 650.1h.9M157.8 621.4h.9M159.0 640.7h.9M158.9 643.2h.9M143.4 638.6h.9M160.8 657.2h.9M151.9 644.0h.9M154.5 660.3h.9M158.6 648.8h.9M138.2 619.9h.9M157.0 632.7h.9M140.3 660.5h.9M156.9 627.8h.9M148.9 655.4h.9M156.2 651.4h.9M147.3 660.1h.9M145.5 654.5h.9M156.2 643.6h.9M148.6 650.5h.9M163.9 647.9h.9M149.1 651.3h.9M164.0 633.9h.9M140.1 649.2h.9M158.3 666.3h.9M149.3 647.0h.9M157.8 645.3h.9M145.9 650.5h.9M153.7 657.5h.9M155.2 636.5h.9M144.5 635.3h.9M153.3 652.4h.9M148.2 647.4h.9M141.7 645.8h.9M157.9 646.3h.9M149.4 630.3h.9M137.8 639.2h.9M155.2 649.0h.9M148.6 656.3h.9M151.5 646.9h.9M151.9 652.4h.9M154.4 650.4h.9M144.6 639.3h.9M145.3 634.2h.9M159.4 654.7h.9M146.3 638.1h.9M149.4 635.1h.9M135.5 641.9h.9M154.9 626.6h.9M151.1 635.9h.9M153.6 634.7h.9M161.0 657.2h.9M155.7 643.1h.9M153.4 648.0h.9M163.9 650.9h.9M159.2 651.0h.9M157.3 660.3h.9M152.9 646.8h.9M153.5 653.3h.9M161.3 637.8h.9M144.1 639.6h.9M144.8 647.7h.9M147.2 640.5h.9M143.4 646.8h.9M146.1 640.9h.9M154.6 650.9h.9M160.5 645.5h.9M152.6 640.4h.9M155.5 645.3h.9M156.8 644.2h.9M167.8 651.5h.9M151.0 653.2h.9M151.8 635.0h.9M151.9 657.4h.9M151.5 644.4h.9M136.1 641.8h.9M156.3 649.4h.9M164.1 653.7h.9M141.3 641.0h.9M153.5 644.3h.9M167.5 634.4h.9M159.8 652.5h.9M160.2 648.7h.9M143.1 648.4h.9M153.1 643.8h.9M151.1 647.5h.9M148.0 629.0h.9M143.1 646.2h.9M143.8 664.4h.9M140.4 636.9h.9M143.8 650.4h.9M149.0 617.9h.9M148.3 646.4h.9M147.2 638.0h.9M151.4 649.9h.9M158.0 630.0h.9M138.7 637.0h.9M153.7 637.8h.9M143.2 645.8h.9M163.1 650.5h.9M150.6 640.9h.9M152.9 642.7h.9M156.1 643.4h.9M162.1 657.1h.9M141.0 642.9h.9M151.9 653.6h.9M144.5 643.7h.9M165.6 644.3h.9M142.7 641.2h.9M156.8 646.5h.9M147.8 635.8h.9M162.9 640.2h.9M148.5 644.0h.9M145.6 644.9h.9M159.5 654.9h.9M145.4 644.3h.9M145.6 651.8h.9M168.5 662.1h.9M168.2 647.3h.9M146.9 641.2h.9M149.7 639.5h.9M170.2 667.2h.9M154.8 630.8h.9M149.4 648.8h.9M149.8 643.6h.9M151.7 659.4h.9M150.7 649.4h.9M146.8 645.4h.9M146.3 637.7h.9M153.8 636.5h.9M151.1 643.2h.9M149.5 636.4h.9M158.0 658.6h.9M160.8 635.9h.9M152.0 659.9h.9M138.0 642.7h.9M156.6 658.6h.9M167.1 648.7h.9M139.1 640.2h.9M156.2 649.5h.9M146.1 649.4h.9M164.4 658.0h.9M136.0 631.2h.9M145.4 647.5h.9M150.2 659.6h.9M148.7 660.5h.9M155.3 634.8h.9M163.2 654.5h.9M144.7 656.8h.9M143.6 659.3h.9M168.0 655.8h.9M156.1 645.8h.9M139.5 637.9h.9M128.8 643.0h.9M154.3 630.5h.9M149.0 656.8h.9M161.6 648.0h.9M154.4 675.4h.9M164.7 700.0h.9M154.8 677.1h.9M144.0 667.5h.9M141.0 690.6h.9M142.4 666.7h.9M152.2 671.8h.9M147.9 681.0h.9M152.4 672.5h.9M144.3 659.4h.9M157.8 681.2h.9M133.3 665.7h.9M142.8 668.4h.9M168.3 673.1h.9M157.0 659.1h.9M157.9 669.3h.9M153.1 673.9h.9M155.1 690.8h.9M146.6 663.7h.9M144.3 665.9h.9M162.6 681.4h.9M141.4 668.3h.9M160.0 662.5h.9M132.5 672.4h.9M147.8 658.3h.9M148.2 663.5h.9M143.2 666.8h.9M140.5 660.7h.9M151.6 662.5h.9M156.6 684.3h.9M143.7 645.3h.9M153.8 666.8h.9M142.0 664.7h.9M147.1 682.0h.9M149.9 671.9h.9M165.2 674.6h.9M155.8 680.6h.9M143.6 677.1h.9M153.9 655.5h.9M138.7 658.8h.9M145.4 670.5h.9M161.0 679.5h.9M152.7 665.7h.9M156.8 664.5h.9M151.2 674.2h.9M134.4 684.8h.9M149.2 669.8h.9M160.0 679.6h.9M148.3 685.1h.9M155.8 678.5h.9M153.1 673.1h.9M147.2 676.0h.9M139.1 668.6h.9M164.7 700.4h.9M145.9 665.2h.9M158.0 661.5h.9M141.4 667.5h.9M155.5 666.0h.9M137.5 664.4h.9M154.3 690.2h.9M144.6 684.5h.9M142.2 657.0h.9M150.0 668.2h.9M153.3 668.1h.9M164.1 640.4h.9M151.5 664.1h.9M156.4 670.4h.9M141.4 670.4h.9M148.6 661.5h.9M155.9 674.8h.9M159.3 640.2h.9M158.7 660.4h.9M156.5 688.4h.9M143.4 655.6h.9M157.8 664.1h.9M155.4 692.7h.9M141.5 662.8h.9M139.3 657.4h.9M145.5 685.0h.9M149.9 679.8h.9M149.6 686.2h.9M140.6 669.7h.9M141.2 669.3h.9M139.1 644.9h.9M153.4 663.8h.9M161.0 686.3h.9M174.7 677.8h.9M155.1 663.5h.9M147.5 664.4h.9M152.8 691.9h.9M153.1 672.2h.9M145.5 667.8h.9M149.6 678.1h.9M142.2 675.3h.9M158.3 665.3h.9M144.6 649.2h.9M153.7 681.4h.9M156.8 669.3h.9M139.2 649.9h.9M143.3 695.1h.9M152.6 680.1h.9M152.2 654.3h.9M144.5 676.4h.9M155.1 661.5h.9M159.2 664.8h.9M152.3 662.6h.9M145.8 666.2h.9M161.3 664.2h.9M145.8 698.4h.9M146.5 686.6h.9M158.5 648.1h.9M153.7 681.4h.9M138.0 665.3h.9M151.5 661.8h.9M167.7 663.1h.9M141.9 677.8h.9M152.6 655.0h.9M129.0 680.7h.9M143.6 669.0h.9M151.2 687.5h.9" stroke="#000" stroke-width=".9" stroke-opacity=".85" fill="none"/>
<path d="M125.8 656.5h.8M153.2 601.8h.8M123.7 636.3h.8M125.3 627.5h.8M95.3 666.1h.8M143.1 680.4h.8M177.3 663.5h.8M84.3 672.1h.8M84.2 603.1h.8M141.1 668.5h.8M110.6 666.1h.8M176.6 654.6h.8M128.1 679.7h.8M152.9 684.0h.8M76.7 696.6h.8M127.3 640.3h.8M113.8 617.0h.8M141.0 634.4h.8M151.4 671.5h.8M106.4 658.9h.8M90.5 649.4h.8M81.2 607.0h.8M158.7 654.7h.8M95.6 682.1h.8M149.7 683.3h.8M110.3 620.1h.8M130.2 667.0h.8M109.8 630.5h.8M125.7 655.7h.8M92.6 622.4h.8M86.5 625.4h.8M159.9 639.3h.8M135.9 643.4h.8M77.2 610.1h.8M102.8 675.3h.8M117.5 642.7h.8M103.8 668.2h.8M136.1 655.2h.8M149.2 652.5h.8M141.0 608.7h.8M77.1 599.0h.8M120.6 608.9h.8M128.6 672.5h.8M130.1 635.8h.8M111.9 615.1h.8M92.8 634.6h.8M105.9 656.4h.8M102.5 636.8h.8M120.0 686.1h.8M127.5 649.9h.8M109.3 624.6h.8M145.2 608.5h.8M155.2 672.7h.8M103.5 679.4h.8M99.0 640.3h.8M115.1 623.5h.8M123.3 646.6h.8M143.2 631.3h.8M114.0 644.8h.8M117.2 665.8h.8M182.3 655.0h.8M163.4 674.9h.8M209.0 699.6h.8M100.5 610.5h.8M127.2 618.6h.8M110.8 649.7h.8M118.5 557.1h.8M80.5 672.0h.8M76.3 627.1h.8M118.5 652.7h.8M111.4 670.4h.8M105.8 585.6h.8M120.2 686.2h.8M82.5 659.5h.8M95.9 564.1h.8M129.1 615.4h.8M103.0 667.7h.8M222.1 709.8h.8M174.9 660.4h.8M129.6 687.4h.8M93.4 587.7h.8M96.9 702.2h.8M137.8 686.2h.8M92.8 635.7h.8M149.2 676.8h.8M124.2 627.7h.8M115.5 604.1h.8M109.5 676.3h.8M119.6 639.3h.8M67.8 644.3h.8M91.5 661.9h.8M137.7 667.6h.8M103.3 685.5h.8M96.6 627.9h.8M91.9 628.2h.8M147.7 681.6h.8M136.9 691.8h.8M99.3 607.7h.8M169.1 610.3h.8M122.5 627.2h.8M144.3 660.5h.8M123.1 659.2h.8M126.0 615.4h.8M109.5 656.7h.8M98.9 698.1h.8M102.3 571.6h.8M108.4 656.7h.8M99.8 650.4h.8M131.7 638.9h.8M82.9 659.6h.8M119.4 676.8h.8M80.6 599.8h.8M192.1 670.2h.8M112.0 670.0h.8M116.4 644.2h.8M154.0 672.5h.8M112.2 668.0h.8M99.7 686.5h.8M127.3 673.4h.8M147.6 679.8h.8M143.3 700.4h.8M148.9 662.6h.8M117.5 706.5h.8M148.5 615.7h.8M100.7 656.0h.8M142.0 664.9h.8M141.4 665.0h.8M183.4 644.1h.8M97.6 658.4h.8M172.7 631.3h.8M143.2 641.6h.8M116.4 619.3h.8M121.3 677.1h.8M165.7 663.9h.8M98.1 611.8h.8M133.6 600.2h.8M181.7 656.9h.8M83.3 644.2h.8M95.4 708.6h.8M87.0 675.8h.8M133.0 602.0h.8M178.9 684.4h.8M163.4 701.8h.8M118.2 695.4h.8M117.2 633.8h.8M84.8 612.7h.8M129.8 668.7h.8M119.4 670.5h.8M130.6 688.3h.8M98.2 629.3h.8M125.4 604.0h.8M118.1 682.6h.8M112.6 667.1h.8M123.5 683.0h.8M76.7 641.9h.8M132.1 585.0h.8M100.2 650.4h.8M161.9 673.4h.8M122.3 634.3h.8M151.3 670.5h.8M116.0 644.7h.8M129.4 671.7h.8M108.0 619.8h.8M106.0 599.6h.8M88.2 673.0h.8M150.2 612.1h.8M131.0 621.8h.8M99.8 656.8h.8M112.3 635.4h.8M115.6 684.8h.8M79.0 638.2h.8M111.1 673.7h.8M99.3 616.3h.8M195.9 647.7h.8M106.1 654.0h.8M142.2 638.7h.8M103.3 581.3h.8M104.9 675.9h.8M117.4 713.7h.8M114.7 624.7h.8M75.4 589.8h.8M80.5 699.4h.8M142.2 656.3h.8M89.8 680.0h.8M150.3 661.7h.8M97.1 689.2h.8M118.6 626.0h.8M79.2 709.2h.8M110.4 617.8h.8M155.7 688.5h.8M172.0 622.3h.8M132.6 676.8h.8M87.5 628.1h.8M132.9 670.2h.8M95.0 667.5h.8M83.4 576.7h.8M132.6 682.4h.8M129.4 612.0h.8M77.7 668.7h.8M145.5 698.5h.8M134.1 627.0h.8M93.0 585.9h.8M119.1 666.7h.8M89.6 677.5h.8M129.3 630.6h.8M150.3 646.8h.8M160.4 668.4h.8M126.9 694.2h.8M95.6 615.1h.8M108.9 634.2h.8M165.2 646.7h.8M108.1 606.6h.8M132.3 633.3h.8M130.6 657.4h.8M132.4 663.1h.8M100.1 698.9h.8M99.4 671.6h.8M98.1 623.4h.8M117.5 643.0h.8M108.7 636.1h.8M136.0 548.3h.8M112.8 674.3h.8M69.0 661.0h.8M99.1 635.4h.8M117.6 706.1h.8M133.3 635.8h.8M97.9 615.6h.8M90.7 611.6h.8M127.3 667.6h.8M114.5 691.7h.8M168.7 699.8h.8M109.9 599.3h.8M138.3 673.2h.8M104.4 577.0h.8M85.8 642.3h.8M127.0 585.5h.8M114.8 657.6h.8M143.0 673.1h.8M134.2 708.3h.8M123.2 677.8h.8M105.3 641.4h.8M113.5 650.1h.8M111.1 599.2h.8M82.8 582.3h.8M115.6 639.9h.8M90.0 643.9h.8M75.8 625.8h.8M72.7 653.1h.8M96.5 676.3h.8M77.0 661.5h.8M107.6 689.9h.8M103.9 655.5h.8M121.0 673.5h.8M123.3 642.4h.8M101.5 678.7h.8M127.7 635.9h.8M123.7 610.5h.8M87.0 663.1h.8M149.7 707.6h.8M122.9 611.7h.8M137.7 682.7h.8M113.3 673.0h.8M148.6 635.1h.8M124.8 624.6h.8M106.4 554.6h.8M71.0 626.4h.8M103.1 674.2h.8M86.6 683.2h.8M136.1 669.5h.8M154.7 644.4h.8M137.5 693.4h.8M147.0 694.4h.8M92.0 566.5h.8M145.7 666.7h.8M87.2 626.4h.8M81.8 711.6h.8M103.2 661.1h.8M100.4 677.5h.8M125.7 633.8h.8M129.6 649.6h.8M118.6 584.8h.8M136.4 644.9h.8M96.3 713.5h.8M88.1 661.2h.8M128.6 631.7h.8M156.6 628.2h.8M135.6 683.5h.8M103.7 656.8h.8M139.9 649.1h.8M114.0 631.4h.8M113.8 679.6h.8M114.3 590.1h.8M111.1 627.8h.8M158.1 643.3h.8M144.6 636.7h.8M143.5 689.3h.8M84.8 674.5h.8M170.7 639.5h.8M90.9 666.1h.8M142.6 642.2h.8M123.7 629.3h.8M142.8 636.2h.8M118.6 661.3h.8M94.8 639.1h.8M77.8 603.8h.8M127.8 590.1h.8M146.1 665.4h.8M146.0 687.4h.8M110.1 620.9h.8M160.6 677.5h.8M145.1 696.5h.8M154.9 640.8h.8M133.4 689.4h.8M153.7 643.6h.8M121.9 641.8h.8M127.9 616.1h.8M94.5 620.6h.8M112.7 621.6h.8M91.0 648.3h.8M104.6 642.9h.8M103.9 633.3h.8M133.4 634.0h.8M104.7 634.1h.8M118.7 617.3h.8M192.8 621.1h.8M78.0 618.5h.8M110.2 688.5h.8M173.8 661.0h.8M92.8 620.7h.8M133.9 695.4h.8M94.8 644.9h.8M108.7 646.1h.8M121.9 628.3h.8M132.5 682.5h.8M136.3 637.5h.8M97.5 606.5h.8M108.1 570.2h.8M116.5 608.1h.8M133.4 654.1h.8M89.5 624.6h.8M109.8 615.1h.8M94.5 645.3h.8M136.8 644.8h.8M155.5 617.2h.8M100.6 641.8h.8M127.6 615.6h.8M106.0 654.0h.8M143.9 643.3h.8M146.7 691.6h.8M121.5 652.9h.8M93.5 623.0h.8M113.1 661.5h.8M102.7 664.5h.8M107.8 685.7h.8M133.1 694.7h.8M147.6 700.5h.8M134.6 638.9h.8M106.5 625.2h.8M99.0 677.7h.8M136.4 595.5h.8M77.3 661.9h.8M88.8 662.8h.8M127.3 663.1h.8M94.6 584.9h.8M118.8 616.4h.8M108.6 582.6h.8M128.7 681.0h.8M142.4 626.0h.8M114.8 635.4h.8M112.4 663.4h.8M140.4 685.2h.8M149.9 625.5h.8M133.7 636.0h.8M105.7 641.9h.8M156.0 681.4h.8M94.0 661.6h.8M105.2 699.4h.8M111.5 627.7h.8M144.4 618.4h.8M90.8 604.3h.8M98.0 655.3h.8M142.1 658.4h.8M186.2 691.7h.8M109.4 615.4h.8M95.2 585.1h.8M84.6 609.6h.8M149.7 634.0h.8M109.8 678.3h.8M163.1 645.9h.8M95.4 660.4h.8M104.8 653.0h.8M120.6 643.5h.8M102.3 641.6h.8M109.9 602.1h.8M140.7 673.8h.8M102.8 693.0h.8M81.5 648.8h.8M99.9 607.5h.8M140.7 636.4h.8M121.3 611.8h.8M143.3 662.3h.8M116.6 621.9h.8M122.1 656.7h.8M119.5 685.4h.8M121.0 628.8h.8M111.5 548.9h.8M152.7 654.5h.8M166.4 661.9h.8M139.9 619.7h.8M104.2 647.6h.8M119.0 615.1h.8M161.1 670.9h.8M90.4 693.7h.8M160.0 640.1h.8M151.2 667.8h.8M67.9 620.1h.8M125.1 623.1h.8M153.2 695.5h.8M113.9 628.5h.8M135.8 623.8h.8M77.6 658.3h.8M141.7 678.7h.8M133.0 673.1h.8M155.8 615.5h.8M89.4 593.9h.8M123.7 669.0h.8M134.9 709.2h.8M111.0 610.4h.8M123.6 656.8h.8M159.0 653.8h.8M120.6 658.5h.8M86.5 695.8h.8M121.9 636.1h.8M106.9 657.7h.8M102.5 654.4h.8M148.5 641.6h.8M117.3 674.0h.8M93.4 669.5h.8M83.5 643.3h.8M116.6 682.3h.8M150.1 631.4h.8M130.5 645.9h.8M134.9 628.0h.8M82.0 655.9h.8M141.2 656.3h.8M102.8 675.9h.8M149.6 692.7h.8M153.4 682.6h.8M116.7 668.4h.8M76.6 658.9h.8M145.1 710.8h.8M123.8 595.9h.8M114.8 673.2h.8M96.3 646.8h.8M96.9 602.3h.8M124.1 636.0h.8M116.2 617.4h.8M146.7 663.5h.8M117.0 655.7h.8M162.1 623.2h.8M137.1 630.3h.8M82.4 638.8h.8M136.4 629.6h.8M100.2 612.1h.8M97.7 589.0h.8M97.7 637.2h.8M84.3 669.3h.8M111.9 635.2h.8M126.7 657.0h.8M106.0 601.4h.8M94.6 621.2h.8M120.1 701.7h.8M87.6 596.9h.8M105.0 629.0h.8M143.6 599.5h.8M116.6 645.4h.8M198.0 669.0h.8M117.9 668.4h.8M152.1 688.8h.8M117.0 636.7h.8M116.0 666.2h.8M136.6 684.1h.8M95.5 701.3h.8M111.4 676.0h.8M122.1 654.0h.8M142.8 664.4h.8M121.4 607.3h.8M121.9 678.4h.8M93.4 640.2h.8M107.8 627.7h.8M114.4 685.0h.8M131.5 687.7h.8M91.8 604.7h.8M99.8 633.3h.8M143.5 634.7h.8M113.8 585.1h.8M82.7 667.4h.8M159.2 661.3h.8M129.7 596.0h.8M120.9 674.3h.8M102.3 695.0h.8M155.7 639.8h.8M88.6 631.2h.8M109.3 651.4h.8M145.0 705.2h.8M115.1 619.0h.8M107.3 667.9h.8M139.8 691.6h.8M132.1 654.8h.8M116.9 647.6h.8M93.3 621.3h.8M121.4 630.0h.8M103.9 639.6h.8M140.5 616.6h.8M108.4 659.1h.8M184.4 692.0h.8M178.8 638.4h.8M123.2 646.2h.8M109.9 634.3h.8M93.7 591.9h.8M115.4 568.0h.8M98.3 636.6h.8M87.7 612.2h.8M87.6 678.2h.8M107.5 620.2h.8M181.8 627.6h.8M100.0 655.3h.8M190.9 665.3h.8M100.3 575.8h.8M97.0 624.5h.8M132.8 642.0h.8M166.2 662.1h.8M134.0 625.9h.8M110.6 620.7h.8M86.0 662.9h.8M125.9 702.8h.8M172.2 597.9h.8M141.1 662.1h.8M120.0 607.7h.8M111.8 663.5h.8M101.6 614.5h.8M180.0 676.9h.8M123.7 650.7h.8M114.9 617.4h.8M86.3 694.9h.8M98.7 673.2h.8M110.0 624.1h.8M139.2 614.9h.8M133.6 634.0h.8M100.3 628.9h.8M151.6 702.7h.8M152.4 609.0h.8M170.3 678.5h.8M153.9 693.6h.8M137.1 635.5h.8M112.8 674.8h.8M130.7 688.3h.8M123.6 633.9h.8M125.5 663.6h.8M123.6 634.9h.8M128.7 612.9h.8M131.1 681.9h.8M130.0 702.1h.8M109.5 614.3h.8M109.9 626.2h.8M139.6 590.6h.8M91.1 647.1h.8M111.7 678.8h.8M131.4 632.9h.8M170.8 670.9h.8M105.5 631.9h.8M70.4 607.8h.8M98.1 628.2h.8M157.7 703.8h.8M103.2 696.3h.8M155.7 655.9h.8M77.4 580.9h.8M106.3 677.4h.8M127.0 686.6h.8M160.4 630.9h.8M76.9 650.5h.8M117.8 659.8h.8M143.7 668.3h.8M122.1 641.8h.8M131.1 691.4h.8M107.7 695.3h.8M141.1 691.0h.8M149.0 664.1h.8M117.3 672.3h.8M157.6 662.7h.8M120.5 704.8h.8M99.0 707.6h.8M138.3 628.2h.8M153.5 677.0h.8M116.9 649.1h.8M131.1 634.2h.8M107.2 616.8h.8M96.3 667.8h.8M92.6 631.7h.8M167.8 690.8h.8M136.4 647.3h.8M86.9 682.8h.8M111.4 649.2h.8M96.3 594.4h.8M140.5 681.8h.8M103.4 670.6h.8M86.8 583.8h.8M109.3 672.7h.8M109.0 659.1h.8M72.4 636.9h.8M94.4 710.0h.8M140.8 670.8h.8M159.5 591.7h.8M142.8 658.8h.8M143.4 670.3h.8M95.3 675.0h.8M141.0 648.9h.8M143.5 639.3h.8M110.6 601.9h.8M97.7 660.6h.8M143.1 694.6h.8M88.4 642.2h.8M104.1 624.4h.8M86.9 626.5h.8M124.1 602.9h.8M151.0 657.1h.8M136.7 582.8h.8M97.6 617.3h.8M138.6 687.0h.8M89.6 667.8h.8M105.5 663.5h.8M134.8 667.3h.8M71.5 587.2h.8M110.1 628.5h.8M121.9 710.1h.8M128.4 646.0h.8M165.2 670.4h.8M92.8 624.8h.8M96.3 632.1h.8M126.2 653.7h.8M151.6 644.7h.8M125.4 639.6h.8M112.7 622.1h.8M143.0 705.4h.8M138.5 562.1h.8M126.8 642.1h.8M139.9 660.5h.8M130.4 621.1h.8M110.0 654.2h.8M114.5 670.1h.8M129.3 637.9h.8M70.4 584.4h.8M98.5 668.9h.8M87.7 629.0h.8M133.2 698.8h.8M167.1 690.1h.8M146.4 662.0h.8M125.8 603.3h.8M80.7 650.7h.8M176.1 660.2h.8M154.6 633.6h.8M130.6 644.5h.8M141.3 626.9h.8M156.8 652.7h.8M107.9 632.7h.8M142.2 698.2h.8M149.4 649.6h.8M141.7 656.5h.8M122.4 666.1h.8M149.4 565.4h.8M209.9 692.3h.8M136.3 616.9h.8M125.7 616.3h.8M100.2 656.1h.8M124.8 592.7h.8M104.6 634.7h.8M152.3 652.6h.8M114.7 655.0h.8M129.9 700.9h.8M136.3 626.7h.8M131.3 660.1h.8M125.5 670.4h.8M128.4 655.1h.8M109.7 644.5h.8M135.7 617.8h.8M130.5 551.5h.8M116.4 620.6h.8M106.7 663.7h.8M177.2 625.9h.8M118.2 654.8h.8M153.5 685.6h.8M101.4 646.4h.8M131.1 668.2h.8M112.3 630.4h.8M120.4 689.1h.8M129.1 650.6h.8M173.2 660.7h.8M111.1 566.3h.8M160.5 632.8h.8M99.0 612.5h.8M127.2 641.3h.8M136.8 594.1h.8M127.9 687.9h.8M113.7 657.8h.8M84.2 683.8h.8M129.1 649.9h.8M123.8 628.8h.8M101.2 592.5h.8M154.3 677.4h.8M147.2 655.3h.8M108.9 669.9h.8M201.8 661.1h.8M124.7 615.9h.8M155.2 623.9h.8M114.9 650.2h.8M78.3 655.9h.8M157.1 665.4h.8M139.1 642.3h.8M125.3 652.7h.8M119.7 628.8h.8M142.6 631.9h.8M130.7 634.2h.8M129.6 657.6h.8M162.6 654.2h.8M101.9 652.0h.8M111.0 627.9h.8M112.2 666.5h.8M128.1 675.3h.8M113.7 677.6h.8M112.7 669.1h.8M96.8 616.5h.8M97.8 644.5h.8M128.0 622.8h.8M102.8 670.9h.8M120.4 657.0h.8M150.7 655.2h.8M135.7 645.7h.8M154.6 617.1h.8M69.1 642.5h.8M111.9 657.4h.8M126.2 618.2h.8M123.6 668.4h.8M104.1 633.6h.8M138.9 650.8h.8M130.9 644.4h.8M89.0 627.7h.8M134.4 685.8h.8M88.3 600.2h.8M173.8 646.2h.8M114.9 675.6h.8M120.8 690.1h.8M147.7 666.1h.8M95.5 697.4h.8M73.7 707.1h.8M107.6 568.5h.8M162.9 606.6h.8M143.0 646.6h.8M89.1 591.2h.8M102.2 673.9h.8M157.4 661.9h.8M176.8 635.8h.8M88.8 647.4h.8M114.2 669.0h.8M119.7 690.4h.8M67.6 586.1h.8M136.5 699.6h.8M144.6 632.9h.8M128.7 622.7h.8M99.8 666.7h.8M118.0 652.7h.8M136.7 611.1h.8M107.3 637.4h.8M110.6 616.9h.8M114.8 667.1h.8M160.5 625.2h.8M141.6 708.2h.8M120.8 643.5h.8M131.8 614.8h.8M97.4 649.8h.8M157.8 667.5h.8M102.0 622.2h.8M126.0 692.7h.8M92.4 628.4h.8M105.5 646.4h.8M146.7 673.1h.8M105.5 693.9h.8M79.8 664.3h.8M91.9 641.4h.8M102.2 618.5h.8M119.0 684.4h.8M85.3 689.8h.8M115.7 670.6h.8M96.4 672.3h.8M129.1 649.7h.8M120.1 655.0h.8M99.2 603.6h.8M96.9 690.0h.8M124.1 610.7h.8M100.7 604.6h.8M138.1 668.4h.8M103.1 677.1h.8M86.8 607.0h.8M135.6 661.8h.8M80.6 645.2h.8M161.8 640.1h.8M110.5 640.0h.8M115.3 651.7h.8M170.4 649.7h.8M88.9 681.5h.8M153.5 682.3h.8M124.7 587.8h.8M128.1 679.6h.8M155.6 617.4h.8M168.5 600.6h.8M135.2 689.3h.8M134.3 644.2h.8M114.9 650.6h.8M89.8 657.9h.8M84.5 600.9h.8M121.0 615.1h.8M112.5 662.1h.8M133.4 668.4h.8M112.6 647.9h.8M130.2 647.7h.8M140.6 621.8h.8M156.7 650.7h.8M88.3 620.7h.8M110.8 658.4h.8M125.1 619.7h.8M122.2 672.3h.8M137.9 624.6h.8M70.8 623.9h.8M89.6 675.0h.8M150.4 652.5h.8M172.1 695.4h.8M119.7 654.5h.8M86.9 593.4h.8M73.8 598.7h.8M139.6 618.0h.8M172.1 591.5h.8M148.0 655.3h.8M107.1 680.2h.8M134.3 689.2h.8M72.2 590.8h.8M96.1 630.6h.8M111.6 629.8h.8M98.1 580.4h.8M75.3 565.8h.8M153.3 649.7h.8M138.1 660.2h.8M78.6 625.5h.8M189.7 610.8h.8M171.1 707.7h.8M124.3 655.3h.8M124.4 649.9h.8M70.5 607.2h.8M156.7 624.7h.8M131.3 677.9h.8M116.8 620.8h.8M109.2 579.3h.8M75.1 631.2h.8M125.1 622.3h.8M119.1 647.1h.8M101.4 667.9h.8M83.0 638.5h.8M126.7 642.7h.8M137.1 646.2h.8M177.6 595.2h.8M86.5 603.6h.8M98.2 630.1h.8M126.0 624.2h.8M109.9 667.0h.8M83.1 675.3h.8M141.0 645.0h.8M103.4 673.9h.8M100.6 674.2h.8M165.8 646.8h.8M110.7 636.4h.8M76.1 651.5h.8M125.7 607.0h.8M118.8 605.6h.8M111.0 630.6h.8M111.2 690.9h.8M109.0 644.0h.8M160.6 650.7h.8M95.1 666.8h.8M100.5 594.1h.8M119.2 662.6h.8M119.0 645.5h.8M119.0 638.1h.8M125.8 653.0h.8M110.5 654.6h.8M86.9 651.2h.8M106.6 575.9h.8M150.7 627.6h.8M128.3 675.6h.8M142.5 609.6h.8M90.4 686.2h.8M163.6 649.7h.8M149.8 613.9h.8M93.8 666.7h.8M109.5 678.2h.8M171.2 633.8h.8M164.1 666.2h.8M157.6 658.8h.8M163.0 661.8h.8M101.0 678.9h.8M139.4 657.6h.8M112.7 679.1h.8M132.8 677.9h.8M104.8 675.1h.8M151.0 677.7h.8M130.3 607.8h.8M154.3 677.6h.8M153.0 676.7h.8M79.8 638.6h.8M132.3 619.0h.8M101.2 649.1h.8M120.0 581.0h.8M156.4 692.6h.8M131.4 674.9h.8M130.0 607.5h.8M110.3 651.4h.8M141.6 656.0h.8M141.3 641.1h.8M156.5 689.4h.8M164.4 659.6h.8M104.0 581.0h.8M129.4 575.5h.8M68.8 691.5h.8M157.4 658.8h.8M79.9 601.8h.8M133.7 606.2h.8M71.4 700.5h.8M127.9 676.6h.8M129.2 628.1h.8M133.8 636.7h.8M98.0 662.6h.8M156.8 634.8h.8M141.8 669.1h.8M84.8 633.9h.8M92.7 596.7h.8M162.0 664.4h.8M76.6 643.0h.8M159.2 638.3h.8M133.7 603.4h.8M81.1 622.8h.8M85.9 578.8h.8M131.9 611.1h.8M124.6 644.3h.8M113.5 613.8h.8M152.2 655.0h.8M146.5 618.3h.8M88.8 688.9h.8M88.8 666.4h.8M93.6 646.7h.8M96.5 635.6h.8M97.4 601.2h.8M136.2 640.9h.8M158.1 587.1h.8M138.8 681.7h.8M100.8 643.1h.8M143.4 624.5h.8M133.7 663.3h.8M104.7 680.1h.8M163.4 648.7h.8M114.2 662.1h.8M114.9 665.4h.8M135.4 642.4h.8M96.6 625.7h.8M158.5 682.4h.8M160.5 698.3h.8M90.6 639.1h.8M146.0 630.1h.8M161.5 696.0h.8M121.7 630.9h.8M160.5 645.8h.8M165.6 665.9h.8M129.5 678.6h.8M157.3 652.4h.8M159.8 607.0h.8M117.0 629.1h.8M110.3 670.7h.8M178.9 686.8h.8M99.9 672.6h.8M164.4 647.0h.8M115.7 639.7h.8M140.6 680.6h.8M123.1 628.1h.8M103.8 690.7h.8M138.1 608.0h.8M139.1 706.8h.8M101.9 606.0h.8M133.6 655.5h.8M107.1 634.5h.8M128.1 609.4h.8M90.5 678.0h.8M94.5 657.9h.8M168.8 677.2h.8M153.7 710.1h.8M116.1 690.8h.8M131.6 676.4h.8M125.1 667.3h.8M122.8 676.8h.8M166.5 671.6h.8M130.8 634.8h.8M104.8 671.3h.8M76.4 588.9h.8M76.1 600.0h.8M169.2 662.6h.8M135.0 649.5h.8M149.0 677.3h.8M138.4 632.1h.8M103.1 648.4h.8M105.6 634.5h.8M115.0 710.8h.8M68.5 660.1h.8M104.0 644.9h.8M90.7 688.5h.8M108.9 644.9h.8M133.4 630.8h.8M177.5 632.3h.8M159.3 613.3h.8M94.8 569.5h.8M90.4 665.1h.8M132.6 588.1h.8M113.4 605.3h.8M126.0 642.3h.8M123.2 605.3h.8M136.3 647.0h.8M83.5 599.7h.8M170.2 598.2h.8M147.4 637.5h.8M143.6 567.0h.8M85.8 669.5h.8M147.6 588.2h.8M142.1 614.8h.8M177.0 612.3h.8M168.9 655.9h.8M197.7 586.8h.8M113.3 599.5h.8M188.0 581.8h.8M187.1 617.2h.8M129.0 615.6h.8M142.9 561.5h.8M136.3 542.9h.8M144.9 585.0h.8M153.7 614.0h.8M166.8 573.2h.8M145.6 560.1h.8M102.4 591.0h.8M166.7 581.2h.8M136.6 619.0h.8M159.5 601.3h.8M172.9 595.6h.8M103.5 579.4h.8M102.8 580.3h.8M147.2 607.1h.8M143.3 616.2h.8M161.9 626.1h.8M115.3 608.4h.8M173.8 623.5h.8M162.3 552.8h.8M103.1 605.4h.8M220.4 591.6h.8M143.0 581.4h.8M165.4 639.2h.8M178.2 605.2h.8M142.5 580.8h.8M116.7 631.4h.8M147.8 594.0h.8M120.5 574.8h.8M135.9 612.2h.8M158.3 610.5h.8M130.6 575.2h.8M169.8 630.3h.8M166.7 643.9h.8M168.1 625.5h.8M191.5 583.2h.8M197.7 634.1h.8M159.4 631.8h.8M149.3 604.1h.8M171.6 629.5h.8M179.9 582.0h.8M102.8 595.4h.8M174.0 601.9h.8M153.4 594.5h.8M166.5 580.1h.8M215.4 552.0h.8M223.5 626.2h.8M110.2 558.6h.8M173.7 600.5h.8M180.7 626.5h.8M122.7 587.3h.8M158.5 621.1h.8M186.4 653.4h.8M158.2 619.5h.8M179.1 632.6h.8M112.0 624.6h.8M160.8 628.1h.8M128.3 597.4h.8M197.3 622.5h.8M102.0 595.9h.8M133.4 555.7h.8M121.5 645.9h.8M108.3 614.4h.8M201.2 607.7h.8M178.2 593.6h.8M149.3 608.3h.8M138.6 573.3h.8M126.9 619.6h.8M169.3 582.5h.8M165.8 584.7h.8M182.1 593.1h.8M160.1 566.9h.8M156.8 567.1h.8M104.0 618.2h.8M182.7 639.3h.8M166.8 604.1h.8M174.7 599.7h.8M207.9 584.2h.8M136.3 598.2h.8M76.5 649.7h.8M147.2 598.1h.8M185.1 620.1h.8M163.9 584.1h.8M167.5 631.5h.8M136.7 604.0h.8M165.0 607.9h.8M146.1 601.5h.8M211.2 576.1h.8M157.9 571.3h.8M90.3 617.5h.8M108.7 620.5h.8M134.9 608.5h.8M153.8 578.9h.8M194.1 609.3h.8M182.3 632.8h.8M129.1 617.3h.8M155.1 567.0h.8M162.1 599.5h.8M93.5 596.2h.8M229.3 612.4h.8M128.1 612.9h.8M180.9 574.5h.8M169.5 587.1h.8M88.7 568.8h.8M197.3 582.2h.8M193.7 614.8h.8M152.6 585.6h.8M213.9 598.4h.8M167.3 582.8h.8M176.2 596.3h.8M189.5 561.9h.8M94.9 610.5h.8M184.7 592.5h.8M159.3 613.8h.8M160.7 601.1h.8M104.3 577.2h.8M188.2 627.7h.8M165.4 630.1h.8M130.4 609.5h.8M151.6 608.2h.8M193.0 608.6h.8M176.1 588.8h.8M133.3 588.2h.8M140.7 620.8h.8M226.2 592.0h.8M107.0 597.2h.8M154.5 573.7h.8M176.9 664.0h.8M190.4 619.9h.8M120.6 589.8h.8M188.7 653.8h.8M162.6 586.1h.8M151.7 618.0h.8M212.0 561.6h.8M204.6 610.0h.8M176.5 630.4h.8M169.6 556.5h.8M120.2 594.5h.8M126.4 549.0h.8M130.8 596.9h.8M195.9 569.5h.8M102.0 597.1h.8M156.0 588.9h.8M99.7 617.9h.8M126.8 558.6h.8M97.1 614.6h.8M122.4 579.8h.8M191.7 618.4h.8M164.3 579.2h.8M173.9 627.2h.8M147.5 621.3h.8M137.8 631.3h.8M156.6 586.5h.8M177.0 622.3h.8M112.3 563.1h.8M173.6 604.5h.8M151.2 617.0h.8M193.1 609.5h.8M156.9 627.8h.8M149.7 574.7h.8M147.9 615.0h.8M118.7 587.8h.8M165.7 559.2h.8M118.3 599.8h.8M166.0 565.2h.8M172.1 597.5h.8M152.9 559.3h.8M185.9 571.3h.8M146.4 602.9h.8M145.7 609.8h.8M102.1 565.0h.8M138.5 602.1h.8M156.0 564.8h.8M212.8 606.7h.8M105.4 600.6h.8M170.6 603.4h.8M136.6 576.8h.8M164.9 608.8h.8M210.1 597.6h.8M132.2 568.7h.8M193.7 597.6h.8M103.0 587.7h.8M136.5 624.4h.8M159.5 574.3h.8M115.2 604.0h.8M126.2 620.5h.8M123.9 594.3h.8M229.7 581.5h.8M161.5 574.0h.8M153.7 559.5h.8M166.6 614.9h.8M102.3 654.7h.8M163.3 607.4h.8M152.2 593.3h.8M155.5 602.5h.8M148.9 561.5h.8M147.0 577.0h.8M147.8 616.0h.8M134.3 601.0h.8M141.4 616.4h.8M104.6 573.0h.8M139.7 631.9h.8M118.2 587.7h.8M135.8 603.5h.8M99.4 583.4h.8M164.7 623.9h.8M167.2 601.4h.8M125.1 593.0h.8M99.8 574.1h.8M179.6 576.8h.8M165.9 591.5h.8M163.8 651.0h.8M169.9 572.8h.8M156.7 626.6h.8M138.5 562.0h.8M186.8 657.0h.8M103.9 576.0h.8M206.8 619.7h.8M149.7 579.2h.8M148.1 588.3h.8M109.0 595.0h.8M149.1 575.0h.8M130.2 570.1h.8M151.2 579.0h.8M195.4 606.4h.8M185.7 572.0h.8M148.1 622.6h.8M142.1 593.9h.8M128.5 546.0h.8M190.4 639.7h.8M112.4 606.3h.8M147.1 598.2h.8M75.8 545.2h.8M98.2 571.1h.8M162.6 555.6h.8M138.6 567.6h.8" stroke="#333" stroke-width=".8" stroke-opacity=".55" fill="none"/>
<rect x="66.5" y="535.5" width="201" height="181" fill="none" stroke="#3a3a3a" stroke-width="1"/>
<rect x="138" y="640" width="66.7" height="74.4" fill="none" stroke="#000" stroke-width="1.7"/>
<text x="227.2" y="672.59" font-size="14.5" text-anchor="middle" fill="#111">R1</text>
<text x="224.8" y="696.03" font-size="14.6" text-anchor="middle" fill="#111">2.7%</text>
<path d="M67.5 716.5v6.8M73.5 716.5v6.8M78.5 716.5v6.8M82.5 716.5v6.8M85.5 716.5v6.8M88.5 716.5v6.8M90.5 716.5v6.8M93.5 716.5v6.8M94.5 716.5v9.6M109.5 716.5v6.8M118.5 716.5v6.8M124.5 716.5v6.8M129.5 716.5v6.8M132.5 716.5v6.8M136.5 716.5v6.8M138.5 716.5v6.8M141.5 716.5v6.8M143.5 716.5v6.8M145.5 716.5v9.6M160.5 716.5v6.8M168.5 716.5v6.8M174.5 716.5v6.8M179.5 716.5v6.8M183.5 716.5v6.8M186.5 716.5v6.8M189.5 716.5v6.8M191.5 716.5v6.8M194.5 716.5v6.8M195.5 716.5v9.6M210.5 716.5v6.8M219.5 716.5v6.8M225.5 716.5v6.8M230.5 716.5v6.8M233.5 716.5v6.8M237.5 716.5v6.8M239.5 716.5v6.8M242.5 716.5v6.8M244.5 716.5v6.8M246.5 716.5v9.6M66.4 709.5h-7.2M66.4 705.5h-7.2M66.4 702.5h-7.2M66.4 699.5h-7.2M66.4 696.5h-7.2M66.4 694.5h-7.2M66.4 692.5h-7.2M66.4 690.5h-10.4M66.4 677.5h-7.2M66.4 669.5h-7.2M66.4 664.5h-7.2M66.4 659.5h-7.2M66.4 656.5h-7.2M66.4 653.5h-7.2M66.4 651.5h-7.2M66.4 648.5h-7.2M66.4 646.5h-7.2M66.4 645.5h-10.4M66.4 631.5h-7.2M66.4 623.5h-7.2M66.4 618.5h-7.2M66.4 614.5h-7.2M66.4 610.5h-7.2M66.4 607.5h-7.2M66.4 605.5h-7.2M66.4 603.5h-7.2M66.4 601.5h-7.2M66.4 599.5h-10.4M66.4 585.5h-7.2M66.4 578.5h-7.2M66.4 572.5h-7.2M66.4 568.5h-7.2M66.4 565.5h-7.2M66.4 562.5h-7.2M66.4 559.5h-7.2M66.4 557.5h-7.2M66.4 555.5h-7.2M66.4 554.5h-10.4" stroke="#1a1a1a" stroke-width="1.15" fill="none"/>
<text x="93.8" y="738.51" font-size="14" text-anchor="middle" fill="#111">10<tspan font-size="9" dy="-4.5">2</tspan></text>
<text x="55.2" y="699.91" font-size="14" text-anchor="end" fill="#111">10<tspan font-size="9" dy="-4.5">2</tspan></text>
<text x="144.3" y="738.51" font-size="14" text-anchor="middle" fill="#111">10<tspan font-size="9" dy="-4.5">3</tspan></text>
<text x="55.2" y="654.31" font-size="14" text-anchor="end" fill="#111">10<tspan font-size="9" dy="-4.5">3</tspan></text>
<text x="194.8" y="738.51" font-size="14" text-anchor="middle" fill="#111">10<tspan font-size="9" dy="-4.5">4</tspan></text>
<text x="55.2" y="608.71" font-size="14" text-anchor="end" fill="#111">10<tspan font-size="9" dy="-4.5">4</tspan></text>
<text x="245.3" y="738.51" font-size="14" text-anchor="middle" fill="#111">10<tspan font-size="9" dy="-4.5">5</tspan></text>
<text x="55.2" y="563.11" font-size="14" text-anchor="end" fill="#111">10<tspan font-size="9" dy="-4.5">5</tspan></text>
<text x="162.8" y="753.31" font-size="14" text-anchor="middle" fill="#111">CD34</text>
<text transform="translate(29.2,626.6) rotate(-90)" font-size="14" text-anchor="middle" fill="#111">CD38</text>
<rect x="300.5" y="533.5" width="207" height="181" fill="none" stroke="#2a2a2a" stroke-width="1"/>
<line x1="292.5" y1="538.5" x2="300.5" y2="538.5" stroke="#222" stroke-width="1"/>
<path d="M300.5 714.5v6M316.5 714.5v9.6M326.5 714.5v6.7M332.5 714.5v6.7M337.5 714.5v6.7M341.5 714.5v6.7M344.5 714.5v6.7M347.5 714.5v6.7M349.5 714.5v6.7M351.5 714.5v6.7M352.5 714.5v6.7M367.5 714.5v9.6M377.5 714.5v6.7M383.5 714.5v6.7M388.5 714.5v6.7M392.5 714.5v6.7M395.5 714.5v6.7M398.5 714.5v6.7M400.5 714.5v6.7M402.5 714.5v6.7M403.5 714.5v6.7M418.5 714.5v9.6M428.5 714.5v6.7M434.5 714.5v6.7M439.5 714.5v6.7M443.5 714.5v6.7M446.5 714.5v6.7M449.5 714.5v6.7M451.5 714.5v6.7M453.5 714.5v6.7M454.5 714.5v6.7M469.5 714.5v9.6M479.5 714.5v6.7M485.5 714.5v6.7M490.5 714.5v6.7M494.5 714.5v6.7M497.5 714.5v6.7M500.5 714.5v6.7M502.5 714.5v6.7M504.5 714.5v6.7M505.5 714.5v6.7" stroke="#1a1a1a" stroke-width="1.15" fill="none"/>
<line x1="296" y1="714.5" x2="300.5" y2="714.5" stroke="#2a2a2a" stroke-width="1"/>
<text x="320" y="736.91" font-size="14" text-anchor="middle" fill="#111">10<tspan font-size="9" dy="-4.5">2</tspan></text>
<text x="371" y="736.91" font-size="14" text-anchor="middle" fill="#111">10<tspan font-size="9" dy="-4.5">3</tspan></text>
<text x="422" y="736.91" font-size="14" text-anchor="middle" fill="#111">10<tspan font-size="9" dy="-4.5">4</tspan></text>
<text x="473" y="736.91" font-size="14" text-anchor="middle" fill="#111">10<tspan font-size="9" dy="-4.5">5</tspan></text>
<text x="398" y="752.51" font-size="14" text-anchor="middle" fill="#111">CD123</text>
<text transform="translate(294.2,620) rotate(-90)" font-size="14.5" text-anchor="middle" fill="#111">Events</text>
<text x="452.7" y="622.91" font-size="14" text-anchor="middle" fill="#111">R2</text>
<path d="M375.7 623V634.6M375.7 628.8H504.6" stroke="#000" stroke-width="1.6" fill="none"/>
<polyline points="307.3,705.3 313,695 318.8,686.5 324,685 327.5,669 331.7,651.9 334.6,641.3 337.5,629.8 340.4,613.5 343.3,592.3 346.2,578.8 349,565.4 351.4,553.8 355.4,558.6 358,564.4 360.5,571 362,581 363.1,590 364.5,607.7 366.3,627 369.3,654.8 373.6,686.5 378,703.8 382.3,712.5 389.5,714 420,714" fill="none" stroke="#000" stroke-width="2.4" stroke-dasharray="0.01 4.9" stroke-linecap="round"/>
<polyline points="304,714 306.9,713.6 310,712.6 313.7,711.5 317,709.6 320.4,707.7 323,707.6 326.2,707.2 328.5,705.2 331,703.8 333,704.9 334.8,704.6 337.7,702.3 340.5,704.2 343.5,705.9 346.3,707.2 348,704.5 349.2,702.9 351,702.3 353.1,700.8 355.5,696 357.8,689.4 362.1,663.4 366.4,637.5 370.8,608.6 375,579.8 378.8,556.7 382.3,544.6 385.2,555.3 388.9,553.3 392.4,571 396.7,605.8 401,640.4 405.4,675 407.5,690 409.7,698 411.5,705 414,709.6 416,712.5 418.3,714" fill="none" stroke="#111" stroke-width="1.3" stroke-linejoin="round"/>
</g>
<g id="panelD">
<text transform="translate(41.3,834) rotate(-90)" font-size="13.1" font-weight="bold" text-anchor="middle" fill="#111">% of maximal survival</text>
<text transform="translate(351.7,841.7) rotate(-90)" font-size="13.15" font-weight="bold" text-anchor="middle" fill="#111">Viable cell number</text>
<text transform="translate(32,1051.8) rotate(-90)" font-size="13.2" font-weight="bold" text-anchor="middle" fill="#111">Viable cell number</text>
<line x1="73.5" y1="798.75" x2="73.5" y2="878.5" stroke="#b8b8b8" stroke-width="1"/>
<line x1="73" y1="878.5" x2="187.3" y2="878.5" stroke="#505050" stroke-width="1"/>
<rect x="99.25" y="799.4" width="32.15" height="79.1" fill="#000"/>
<rect x="131.9" y="845.5" width="31.85" height="33" fill="#808080" stroke="#4a4a4a" stroke-width="1"/>
<path d="M115.5 796.25V799.25M114.5 796.25h2M114.5 799.25h2" stroke="#222" stroke-width="1" fill="none"/>
<path d="M147.5 834.25V855.75M146 834.25h3M146 855.75h3" stroke="#222" stroke-width="1" fill="none"/>
<text x="69.6" y="803.95" font-size="13" text-anchor="end" fill="#111">100</text>
<text x="69.6" y="819.55" font-size="13" text-anchor="end" fill="#111">80</text>
<text x="69.6" y="835.15" font-size="13" text-anchor="end" fill="#111">60</text>
<text x="69.6" y="850.75" font-size="13" text-anchor="end" fill="#111">40</text>
<text x="69.6" y="866.35" font-size="13" text-anchor="end" fill="#111">20</text>
<text x="69.6" y="882.05" font-size="13" text-anchor="end" fill="#111">0</text>
<text x="130" y="772.15" font-size="11.3" text-anchor="middle" fill="#111">AML 36</text>
<text x="126.2" y="786.55" font-size="11.3" text-anchor="middle" fill="#111"><tspan font-style="italic">P</tspan> = .03</text>
<path d="M114.8 794.2V791.2H147.7V794.2" stroke="#222" stroke-width="1.15" fill="none"/>
<line x1="223.5" y1="798.75" x2="223.5" y2="878.5" stroke="#b8b8b8" stroke-width="1"/>
<line x1="223" y1="878.5" x2="329.2" y2="878.5" stroke="#505050" stroke-width="1"/>
<rect x="242.7" y="798.8" width="34.6" height="79.6" fill="#000"/>
<rect x="277.8" y="829.7" width="34.1" height="48.7" fill="#808080" stroke="#4a4a4a" stroke-width="1"/>
<path d="M260 793.6V798.8M259 793.6h2M259 798.8h2" stroke="#222" stroke-width="1" fill="none"/>
<path d="M294.6 828V830.4M293.1 828h3M293.1 830.4h3" stroke="#222" stroke-width="1" fill="none"/>
<text x="219.9" y="803.05" font-size="13" text-anchor="end" fill="#111">100</text>
<text x="219.9" y="818.55" font-size="13" text-anchor="end" fill="#111">80</text>
<text x="219.9" y="834.65" font-size="13" text-anchor="end" fill="#111">60</text>
<text x="219.9" y="850.75" font-size="13" text-anchor="end" fill="#111">40</text>
<text x="219.9" y="866.65" font-size="13" text-anchor="end" fill="#111">20</text>
<text x="219.9" y="882.05" font-size="13" text-anchor="end" fill="#111">0</text>
<text x="275.2" y="771.85" font-size="11.3" text-anchor="middle" fill="#111">AML 36</text>
<text x="275" y="784.45" font-size="11.3" text-anchor="middle" fill="#111"><tspan font-style="italic">P</tspan> = .01</text>
<path d="M259.6 791V787.6H292.7V791" stroke="#222" stroke-width="1.15" fill="none"/>
<line x1="390.5" y1="798.75" x2="390.5" y2="877.5" stroke="#7a7a7a" stroke-width="1"/>
<line x1="390" y1="877.5" x2="504.6" y2="877.5" stroke="#505050" stroke-width="1"/>
<rect x="415.1" y="806.8" width="33.6" height="70.7" fill="#000"/>
<rect x="449.2" y="859.1" width="32.4" height="18.4" fill="#808080" stroke="#4a4a4a" stroke-width="1"/>
<path d="M432.4 800.8V806.8M429.6 800.8h5.6M429.6 806.8h5.6" stroke="#222" stroke-width="1" fill="none"/>
<path d="M465.2 853.9V864M462.4 853.9h5.6M462.4 864h5.6" stroke="#222" stroke-width="1" fill="none"/>
<text x="386.6" y="803.05" font-size="13" text-anchor="end" fill="#111">5000</text>
<text x="386.6" y="819.45" font-size="13" text-anchor="end" fill="#111">4000</text>
<text x="386.6" y="834.65" font-size="13" text-anchor="end" fill="#111">3000</text>
<text x="386.6" y="850.55" font-size="13" text-anchor="end" fill="#111">2000</text>
<text x="386.6" y="866.25" font-size="13" text-anchor="end" fill="#111">1000</text>
<text x="385.3" y="881.85" font-size="13" text-anchor="end" fill="#111">0</text>
<text x="445.6" y="769.35" font-size="11.3" text-anchor="middle" fill="#111">AML 36</text>
<text x="445" y="791.45" font-size="11.3" text-anchor="middle" fill="#111"><tspan font-style="italic">P</tspan> = .01</text>
<path d="M430.4 797V793.7H463.5V797" stroke="#222" stroke-width="1.15" fill="none"/>
<g transform="translate(109.4,884.8) rotate(64.8)">
<text x="0" y="4.65" font-size="13" text-anchor="start" fill="#111">Scram siRNA</text>
<text x="39" y="20.15" font-size="13" text-anchor="middle" fill="#111">50nM</text>
</g>
<g transform="translate(152.1,884.1) rotate(64.8)">
<text x="0" y="4.65" font-size="13" text-anchor="start" fill="#111">Opn siRNA#1</text>
<text x="41.2" y="20.15" font-size="13" text-anchor="middle" fill="#111">50nM</text>
</g>
<g transform="translate(256.45,883.6) rotate(65.2)">
<text x="0" y="4.65" font-size="13" text-anchor="start" fill="#111">Scram siRNA</text>
<text x="39" y="20.15" font-size="13" text-anchor="middle" fill="#111">150nM</text>
</g>
<g transform="translate(298.4,882.9) rotate(64.5)">
<text x="0" y="4.65" font-size="13" text-anchor="start" fill="#111">Opn siRNA#1</text>
<text x="41.2" y="20.15" font-size="13" text-anchor="middle" fill="#111">150nM</text>
</g>
<g transform="translate(426.4,879.8) rotate(65)">
<text x="0" y="4.65" font-size="13" text-anchor="start" fill="#111">GC-control siRNA</text>
<text x="51.65" y="20.15" font-size="13" text-anchor="middle" fill="#111">150nM</text>
</g>
<g transform="translate(465.8,882.95) rotate(64.2)">
<text x="0" y="4.65" font-size="13" text-anchor="start" fill="#111">Opn siRNA#1</text>
<text x="41.2" y="20.15" font-size="13" text-anchor="middle" fill="#111">150nM</text>
</g>
<line x1="73.5" y1="1010" x2="73.5" y2="1089.5" stroke="#b8b8b8" stroke-width="1"/>
<line x1="73" y1="1089.5" x2="187.3" y2="1089.5" stroke="#505050" stroke-width="1"/>
<rect x="92.5" y="1022.5" width="25.5" height="67" fill="#000"/>
<rect x="118.5" y="1033" width="24.5" height="56.5" fill="#808080" stroke="#4a4a4a" stroke-width="1"/>
<rect x="143.5" y="1061.75" width="24.5" height="27.75" fill="#808080" stroke="#4a4a4a" stroke-width="1"/>
<path d="M130.75 1028.75V1037M129.25 1028.75h3M129.25 1037h3" stroke="#222" stroke-width="1" fill="none"/>
<path d="M156.25 1052V1070.75M154.75 1052h3M154.75 1070.75h3" stroke="#222" stroke-width="1" fill="none"/>
<text x="70.3" y="1018.05" font-size="13" text-anchor="end" fill="#111">6000</text>
<text x="70.3" y="1031.2" font-size="13" text-anchor="end" fill="#111">5000</text>
<text x="70.3" y="1044.35" font-size="13" text-anchor="end" fill="#111">4000</text>
<text x="70.3" y="1057.5" font-size="13" text-anchor="end" fill="#111">3000</text>
<text x="70.3" y="1070.65" font-size="13" text-anchor="end" fill="#111">2000</text>
<text x="70.3" y="1083.8" font-size="13" text-anchor="end" fill="#111">1000</text>
<text x="67.8" y="1097.15" font-size="13" text-anchor="end" fill="#111">0</text>
<text x="110.6" y="988.3" font-size="11.3" text-anchor="middle" fill="#111">AML 2</text>
<text x="121.9" y="1004.05" font-size="11.3" text-anchor="middle" fill="#111"><tspan font-style="italic">P</tspan> = .03</text>
<path d="M98 1009.25V1006.25H153V1009.25" stroke="#222" stroke-width="1.15" fill="none"/>
<text x="144.7" y="1023.3" font-size="11.3" text-anchor="middle" fill="#111"><tspan font-style="italic">P</tspan> = .05</text>
<path d="M128.75 1027.8V1024.9H162V1027.8" stroke="#222" stroke-width="1.15" fill="none"/>
<line x1="229.5" y1="1010.5" x2="229.5" y2="1089.5" stroke="#b8b8b8" stroke-width="1"/>
<line x1="229" y1="1089.5" x2="336.1" y2="1089.5" stroke="#505050" stroke-width="1"/>
<rect x="254.8" y="1021" width="32.9" height="68.5" fill="#000"/>
<rect x="288.2" y="1058.5" width="31.3" height="31" fill="#808080" stroke="#4a4a4a" stroke-width="1"/>
<path d="M271.4 1016.5V1021M268.4 1016.5h6M268.4 1021h6" stroke="#222" stroke-width="1" fill="none"/>
<path d="M303.3 1053.9V1061.5M300.3 1053.9h6M300.3 1061.5h6" stroke="#222" stroke-width="1" fill="none"/>
<text x="224.9" y="1016.95" font-size="13" text-anchor="end" fill="#111">6000</text>
<text x="224.9" y="1029.83" font-size="13" text-anchor="end" fill="#111">5000</text>
<text x="224.9" y="1042.71" font-size="13" text-anchor="end" fill="#111">4000</text>
<text x="224.9" y="1055.59" font-size="13" text-anchor="end" fill="#111">3000</text>
<text x="224.9" y="1068.47" font-size="13" text-anchor="end" fill="#111">2000</text>
<text x="224.9" y="1081.35" font-size="13" text-anchor="end" fill="#111">1000</text>
<text x="224.9" y="1094.23" font-size="13" text-anchor="end" fill="#111">0</text>
<text x="287" y="988.35" font-size="11.3" text-anchor="middle" fill="#111">AML 4 <tspan font-size="7" dy="-3.5">†</tspan></text>
<text x="288.4" y="1005.75" font-size="11.3" text-anchor="middle" fill="#111"><tspan font-style="italic">P</tspan> = .02</text>
<path d="M271.4 1013.5V1010H304.3V1013.5" stroke="#222" stroke-width="1.15" fill="none"/>
<line x1="387.5" y1="1014" x2="387.5" y2="1091.5" stroke="#b8b8b8" stroke-width="1"/>
<line x1="387" y1="1091.5" x2="501.7" y2="1091.5" stroke="#505050" stroke-width="1"/>
<rect x="410.4" y="1022.8" width="33.4" height="69.2" fill="#000"/>
<rect x="444.3" y="1044.5" width="32.2" height="47.5" fill="#808080" stroke="#4a4a4a" stroke-width="1"/>
<path d="M427.2 1020.7V1023.2M425.7 1020.7h3M425.7 1023.2h3" stroke="#222" stroke-width="1" fill="none"/>
<path d="M460.4 1035.3V1053.6M457.9 1035.3h5M457.9 1053.6h5" stroke="#222" stroke-width="1" fill="none"/>
<text x="383.2" y="1018.95" font-size="13" text-anchor="end" fill="#111">6000</text>
<text x="383.2" y="1031.9" font-size="13" text-anchor="end" fill="#111">5000</text>
<text x="383.2" y="1044.85" font-size="13" text-anchor="end" fill="#111">4000</text>
<text x="383.2" y="1057.8" font-size="13" text-anchor="end" fill="#111">3000</text>
<text x="383.2" y="1070.75" font-size="13" text-anchor="end" fill="#111">2000</text>
<text x="383.2" y="1083.7" font-size="13" text-anchor="end" fill="#111">1000</text>
<text x="383.2" y="1096.65" font-size="13" text-anchor="end" fill="#111">0</text>
<text x="447.6" y="988.15" font-size="11.3" text-anchor="middle" fill="#111">AML 32 <tspan font-size="7" dy="-3.5">†</tspan></text>
<text x="446.2" y="1007.25" font-size="11.3" text-anchor="middle" fill="#111"><tspan font-style="italic">P</tspan> = .04</text>
<path d="M429.7 1015.2V1011.7H462V1015.2" stroke="#222" stroke-width="1.15" fill="none"/>
<g transform="translate(97,1091.7) rotate(64.3)">
<text x="0" y="4.65" font-size="13" text-anchor="start" fill="#111">GC-control siRNA</text>
<text x="51.65" y="20.15" font-size="13" text-anchor="middle" fill="#111">150nM</text>
</g>
<g transform="translate(131.9,1092.3) rotate(65.6)">
<text x="0" y="4.65" font-size="13" text-anchor="start" fill="#111">Scram siRNA</text>
<text x="39" y="20.15" font-size="13" text-anchor="middle" fill="#111">150nM</text>
</g>
<g transform="translate(164.2,1091.6) rotate(66)">
<text x="0" y="4.65" font-size="13" text-anchor="start" fill="#111">Opn siRNA#1</text>
<text x="41.2" y="20.15" font-size="13" text-anchor="middle" fill="#111">150nM</text>
</g>
<g transform="translate(262.4,1092.3) rotate(65.5)">
<text x="0" y="4.65" font-size="13" text-anchor="start" fill="#111">GC-control siRNA</text>
<text x="51.65" y="20.15" font-size="13" text-anchor="middle" fill="#111">150nM</text>
</g>
<g transform="translate(302.4,1092.9) rotate(65.4)">
<text x="0" y="4.65" font-size="13" text-anchor="start" fill="#111">Opn siRNA#1</text>
<text x="41.2" y="20.15" font-size="13" text-anchor="middle" fill="#111">150nM</text>
</g>
<g transform="translate(423.1,1094.4) rotate(65.5)">
<text x="0" y="4.65" font-size="13" text-anchor="start" fill="#111">GC-control siRNA</text>
<text x="51.65" y="20.15" font-size="13" text-anchor="middle" fill="#111">150nM</text>
</g>
<g transform="translate(463.2,1096.9) rotate(64.9)">
<text x="0" y="4.65" font-size="13" text-anchor="start" fill="#111">Opn siRNA#1</text>
<text x="41.2" y="20.15" font-size="13" text-anchor="middle" fill="#111">150nM</text>
</g>
</g>
</svg>
</body></html>
